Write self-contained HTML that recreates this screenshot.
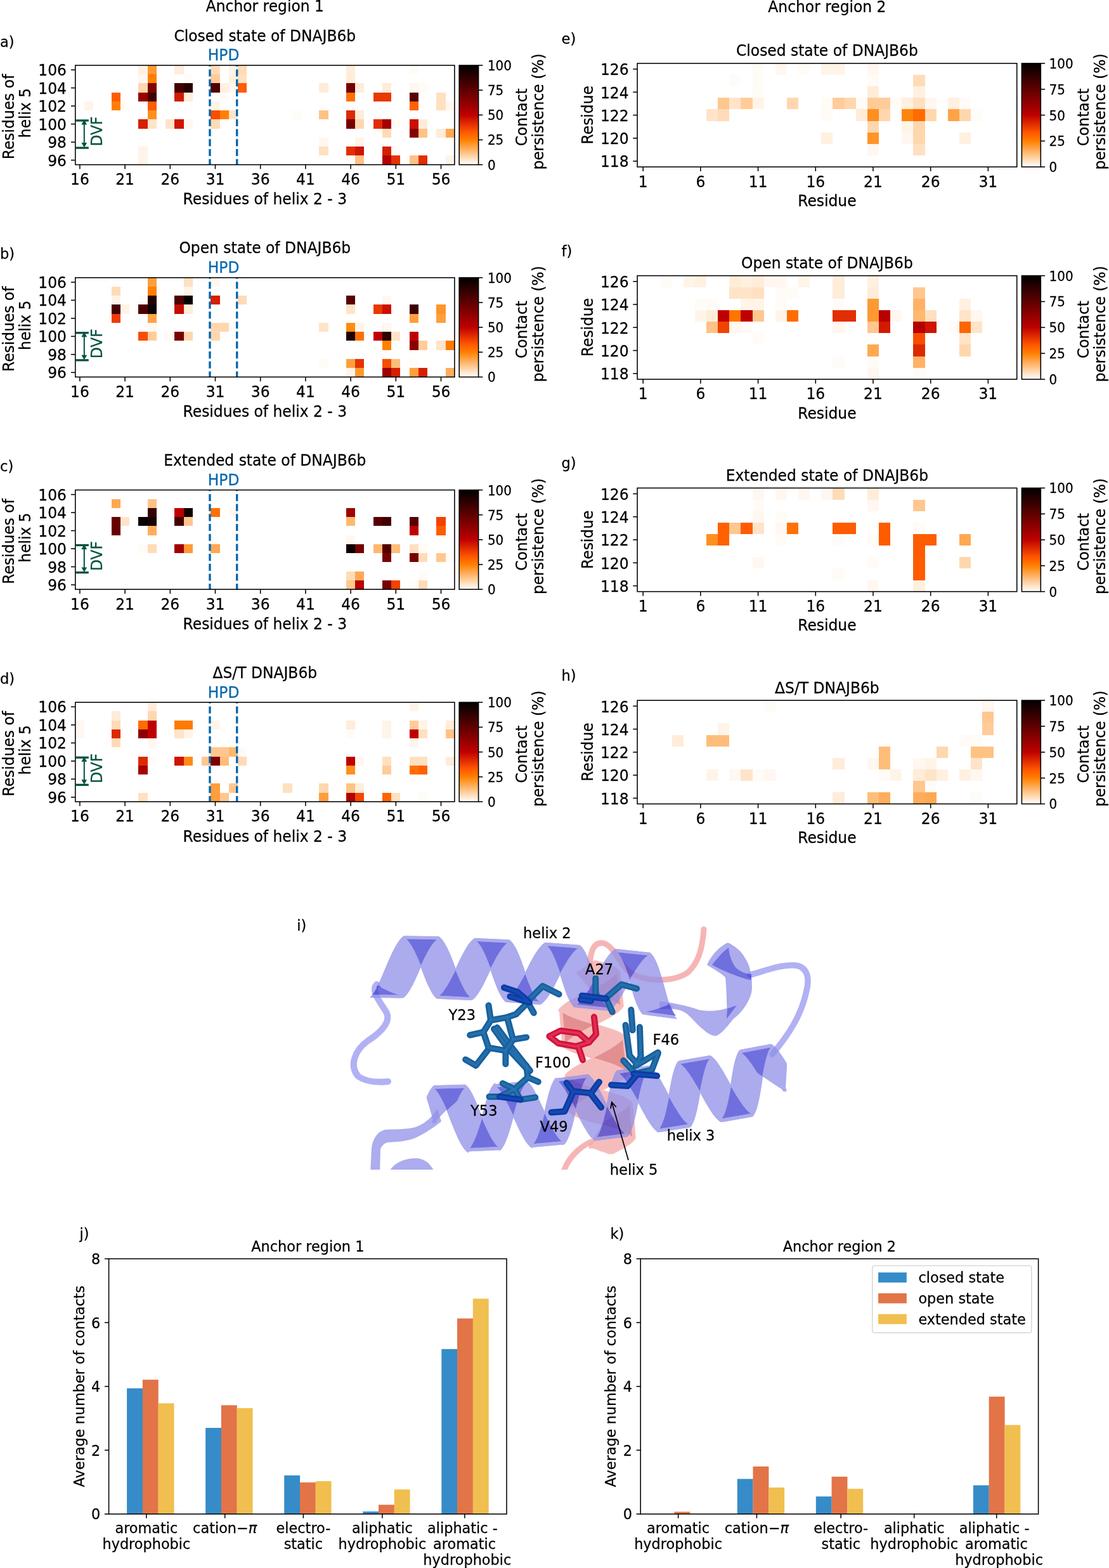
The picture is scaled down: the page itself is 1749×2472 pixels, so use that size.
<!DOCTYPE html>
<html><head><meta charset="utf-8"><style>html,body{margin:0;padding:0;background:#fff;}svg{display:block;}</style></head><body>
<svg width="1749" height="2472" viewBox="0 0 1749 2472" font-family="'DejaVu Sans', 'Liberation Sans', sans-serif">
<defs><linearGradient id="ghr" x1="0" y1="1" x2="0" y2="0"><stop offset="0" stop-color="#ffffff"/><stop offset="0.25" stop-color="#ff8000"/><stop offset="0.3333" stop-color="#ff5500"/><stop offset="0.5" stop-color="#bf0000"/><stop offset="1" stop-color="#000000"/></linearGradient></defs>
<rect width="1749" height="2472" fill="#fff"/>
<text transform="translate(417.80 18.40) scale(1 1.04)" font-size="23.4" text-anchor="middle" fill="#000" stroke="#000" stroke-width="0.25">Anchor region 1</text>
<text transform="translate(1304.40 18.70) scale(1 1.04)" font-size="23.4" text-anchor="middle" fill="#000" stroke="#000" stroke-width="0.25">Anchor region 2</text>
<rect x="133.04" y="159.96" width="14.24" height="14.24" fill="#fff4e8" shape-rendering="crispEdges"/>
<rect x="175.76" y="145.72" width="14.24" height="14.24" fill="#ff5c00" shape-rendering="crispEdges"/>
<rect x="175.76" y="159.96" width="14.24" height="14.24" fill="#ff8000" shape-rendering="crispEdges"/>
<rect x="190.00" y="159.96" width="14.24" height="14.24" fill="#fffbf7" shape-rendering="crispEdges"/>
<rect x="218.48" y="103.00" width="14.24" height="14.24" fill="#fff0e0" shape-rendering="crispEdges"/>
<rect x="218.48" y="117.24" width="14.24" height="14.24" fill="#fff7f0" shape-rendering="crispEdges"/>
<rect x="218.48" y="131.48" width="14.24" height="14.24" fill="#ffd7ae" shape-rendering="crispEdges"/>
<rect x="218.48" y="145.72" width="14.24" height="14.24" fill="#990000" shape-rendering="crispEdges"/>
<rect x="218.48" y="188.44" width="14.24" height="14.24" fill="#d61f00" shape-rendering="crispEdges"/>
<rect x="218.48" y="231.16" width="14.24" height="14.24" fill="#fff4e8" shape-rendering="crispEdges"/>
<rect x="218.48" y="245.40" width="14.24" height="14.24" fill="#fff4e8" shape-rendering="crispEdges"/>
<rect x="232.72" y="103.00" width="14.24" height="14.24" fill="#ff9933" shape-rendering="crispEdges"/>
<rect x="232.72" y="117.24" width="14.24" height="14.24" fill="#ff8000" shape-rendering="crispEdges"/>
<rect x="232.72" y="131.48" width="14.24" height="14.24" fill="#7e0000" shape-rendering="crispEdges"/>
<rect x="232.72" y="145.72" width="14.24" height="14.24" fill="#410000" shape-rendering="crispEdges"/>
<rect x="232.72" y="159.96" width="14.24" height="14.24" fill="#ff5c00" shape-rendering="crispEdges"/>
<rect x="232.72" y="174.20" width="14.24" height="14.24" fill="#ff8f1f" shape-rendering="crispEdges"/>
<rect x="232.72" y="188.44" width="14.24" height="14.24" fill="#ffe4c9" shape-rendering="crispEdges"/>
<rect x="261.20" y="188.44" width="14.24" height="14.24" fill="#ffe4c9" shape-rendering="crispEdges"/>
<rect x="275.44" y="103.00" width="14.24" height="14.24" fill="#ffecd9" shape-rendering="crispEdges"/>
<rect x="275.44" y="131.48" width="14.24" height="14.24" fill="#450000" shape-rendering="crispEdges"/>
<rect x="275.44" y="145.72" width="14.24" height="14.24" fill="#d21a00" shape-rendering="crispEdges"/>
<rect x="275.44" y="188.44" width="14.24" height="14.24" fill="#cf1400" shape-rendering="crispEdges"/>
<rect x="289.68" y="117.24" width="14.24" height="14.24" fill="#fffbf7" shape-rendering="crispEdges"/>
<rect x="289.68" y="131.48" width="14.24" height="14.24" fill="#260000" shape-rendering="crispEdges"/>
<rect x="289.68" y="145.72" width="14.24" height="14.24" fill="#ffecd9" shape-rendering="crispEdges"/>
<rect x="289.68" y="188.44" width="14.24" height="14.24" fill="#fff7f0" shape-rendering="crispEdges"/>
<rect x="332.40" y="103.00" width="14.24" height="14.24" fill="#ffdbb7" shape-rendering="crispEdges"/>
<rect x="332.40" y="117.24" width="14.24" height="14.24" fill="#ffcc99" shape-rendering="crispEdges"/>
<rect x="332.40" y="131.48" width="14.24" height="14.24" fill="#4c0000" shape-rendering="crispEdges"/>
<rect x="332.40" y="159.96" width="14.24" height="14.24" fill="#fff4e8" shape-rendering="crispEdges"/>
<rect x="332.40" y="174.20" width="14.24" height="14.24" fill="#f94d00" shape-rendering="crispEdges"/>
<rect x="332.40" y="188.44" width="14.24" height="14.24" fill="#ffdbb7" shape-rendering="crispEdges"/>
<rect x="346.64" y="131.48" width="14.24" height="14.24" fill="#fff0e0" shape-rendering="crispEdges"/>
<rect x="346.64" y="145.72" width="14.24" height="14.24" fill="#fffbf7" shape-rendering="crispEdges"/>
<rect x="346.64" y="174.20" width="14.24" height="14.24" fill="#ff8000" shape-rendering="crispEdges"/>
<rect x="360.88" y="103.00" width="14.24" height="14.24" fill="#fff4e8" shape-rendering="crispEdges"/>
<rect x="360.88" y="117.24" width="14.24" height="14.24" fill="#fff0e0" shape-rendering="crispEdges"/>
<rect x="360.88" y="131.48" width="14.24" height="14.24" fill="#fff7f0" shape-rendering="crispEdges"/>
<rect x="360.88" y="174.20" width="14.24" height="14.24" fill="#ffe4c9" shape-rendering="crispEdges"/>
<rect x="375.12" y="103.00" width="14.24" height="14.24" fill="#ffdbb7" shape-rendering="crispEdges"/>
<rect x="375.12" y="117.24" width="14.24" height="14.24" fill="#ffe0c0" shape-rendering="crispEdges"/>
<rect x="375.12" y="131.48" width="14.24" height="14.24" fill="#ff5c00" shape-rendering="crispEdges"/>
<rect x="460.56" y="174.20" width="14.24" height="14.24" fill="#fffbf7" shape-rendering="crispEdges"/>
<rect x="503.28" y="131.48" width="14.24" height="14.24" fill="#ffecd9" shape-rendering="crispEdges"/>
<rect x="503.28" y="174.20" width="14.24" height="14.24" fill="#ffc285" shape-rendering="crispEdges"/>
<rect x="503.28" y="216.92" width="14.24" height="14.24" fill="#fff7f0" shape-rendering="crispEdges"/>
<rect x="503.28" y="231.16" width="14.24" height="14.24" fill="#ffe0c0" shape-rendering="crispEdges"/>
<rect x="546.00" y="103.00" width="14.24" height="14.24" fill="#ffecd9" shape-rendering="crispEdges"/>
<rect x="546.00" y="117.24" width="14.24" height="14.24" fill="#ffecd9" shape-rendering="crispEdges"/>
<rect x="546.00" y="131.48" width="14.24" height="14.24" fill="#770000" shape-rendering="crispEdges"/>
<rect x="546.00" y="145.72" width="14.24" height="14.24" fill="#ff7000" shape-rendering="crispEdges"/>
<rect x="546.00" y="174.20" width="14.24" height="14.24" fill="#de2900" shape-rendering="crispEdges"/>
<rect x="546.00" y="188.44" width="14.24" height="14.24" fill="#770000" shape-rendering="crispEdges"/>
<rect x="546.00" y="231.16" width="14.24" height="14.24" fill="#e22e00" shape-rendering="crispEdges"/>
<rect x="546.00" y="245.40" width="14.24" height="14.24" fill="#fffbf7" shape-rendering="crispEdges"/>
<rect x="560.24" y="131.48" width="14.24" height="14.24" fill="#ffecd9" shape-rendering="crispEdges"/>
<rect x="560.24" y="174.20" width="14.24" height="14.24" fill="#ffecd9" shape-rendering="crispEdges"/>
<rect x="560.24" y="188.44" width="14.24" height="14.24" fill="#ffd7ae" shape-rendering="crispEdges"/>
<rect x="560.24" y="216.92" width="14.24" height="14.24" fill="#fff4e8" shape-rendering="crispEdges"/>
<rect x="560.24" y="231.16" width="14.24" height="14.24" fill="#cf1400" shape-rendering="crispEdges"/>
<rect x="560.24" y="245.40" width="14.24" height="14.24" fill="#ffc285" shape-rendering="crispEdges"/>
<rect x="588.72" y="145.72" width="14.24" height="14.24" fill="#e93800" shape-rendering="crispEdges"/>
<rect x="588.72" y="188.44" width="14.24" height="14.24" fill="#e22e00" shape-rendering="crispEdges"/>
<rect x="602.96" y="131.48" width="14.24" height="14.24" fill="#ffecd9" shape-rendering="crispEdges"/>
<rect x="602.96" y="145.72" width="14.24" height="14.24" fill="#e93800" shape-rendering="crispEdges"/>
<rect x="602.96" y="188.44" width="14.24" height="14.24" fill="#a40000" shape-rendering="crispEdges"/>
<rect x="602.96" y="202.68" width="14.24" height="14.24" fill="#ffdbb7" shape-rendering="crispEdges"/>
<rect x="602.96" y="231.16" width="14.24" height="14.24" fill="#d61f00" shape-rendering="crispEdges"/>
<rect x="602.96" y="245.40" width="14.24" height="14.24" fill="#b40000" shape-rendering="crispEdges"/>
<rect x="617.20" y="188.44" width="14.24" height="14.24" fill="#fffbf7" shape-rendering="crispEdges"/>
<rect x="617.20" y="231.16" width="14.24" height="14.24" fill="#fffbf7" shape-rendering="crispEdges"/>
<rect x="617.20" y="245.40" width="14.24" height="14.24" fill="#e53300" shape-rendering="crispEdges"/>
<rect x="645.68" y="103.00" width="14.24" height="14.24" fill="#fffbf7" shape-rendering="crispEdges"/>
<rect x="645.68" y="131.48" width="14.24" height="14.24" fill="#fff7f0" shape-rendering="crispEdges"/>
<rect x="645.68" y="145.72" width="14.24" height="14.24" fill="#580000" shape-rendering="crispEdges"/>
<rect x="645.68" y="159.96" width="14.24" height="14.24" fill="#ff6100" shape-rendering="crispEdges"/>
<rect x="645.68" y="188.44" width="14.24" height="14.24" fill="#cb0f00" shape-rendering="crispEdges"/>
<rect x="645.68" y="202.68" width="14.24" height="14.24" fill="#860000" shape-rendering="crispEdges"/>
<rect x="645.68" y="245.40" width="14.24" height="14.24" fill="#ffc285" shape-rendering="crispEdges"/>
<rect x="659.92" y="131.48" width="14.24" height="14.24" fill="#fffbf7" shape-rendering="crispEdges"/>
<rect x="659.92" y="188.44" width="14.24" height="14.24" fill="#ffecd9" shape-rendering="crispEdges"/>
<rect x="659.92" y="202.68" width="14.24" height="14.24" fill="#ffc285" shape-rendering="crispEdges"/>
<rect x="659.92" y="245.40" width="14.24" height="14.24" fill="#e22e00" shape-rendering="crispEdges"/>
<rect x="688.40" y="145.72" width="14.24" height="14.24" fill="#ffe0c0" shape-rendering="crispEdges"/>
<rect x="688.40" y="159.96" width="14.24" height="14.24" fill="#ffe0c0" shape-rendering="crispEdges"/>
<rect x="688.40" y="202.68" width="14.24" height="14.24" fill="#ffecd9" shape-rendering="crispEdges"/>
<rect x="702.64" y="159.96" width="14.24" height="14.24" fill="#fff7f0" shape-rendering="crispEdges"/>
<rect x="702.64" y="202.68" width="14.24" height="14.24" fill="#ffa852" shape-rendering="crispEdges"/>
<rect x="702.64" y="245.40" width="14.24" height="14.24" fill="#fff4e8" shape-rendering="crispEdges"/>
<line x1="330.98" y1="103.00" x2="330.98" y2="259.64" stroke="#0568ae" stroke-width="3.4" stroke-dasharray="11.1 4.6" stroke-dashoffset="9.30"/>
<line x1="373.70" y1="103.00" x2="373.70" y2="259.64" stroke="#0568ae" stroke-width="3.4" stroke-dasharray="11.1 4.6" stroke-dashoffset="9.30"/>
<rect x="118.80" y="103.00" width="598.08" height="156.64" fill="none" stroke="#000" stroke-width="1.55"/>
<line x1="125.92" y1="259.64" x2="125.92" y2="266.44" stroke="#000" stroke-width="1.55"/>
<text transform="translate(125.92 291.20) scale(1 1.04)" font-size="23.4" text-anchor="middle" fill="#000" stroke="#000" stroke-width="0.25">16</text>
<line x1="197.12" y1="259.64" x2="197.12" y2="266.44" stroke="#000" stroke-width="1.55"/>
<text transform="translate(197.12 291.20) scale(1 1.04)" font-size="23.4" text-anchor="middle" fill="#000" stroke="#000" stroke-width="0.25">21</text>
<line x1="268.32" y1="259.64" x2="268.32" y2="266.44" stroke="#000" stroke-width="1.55"/>
<text transform="translate(268.32 291.20) scale(1 1.04)" font-size="23.4" text-anchor="middle" fill="#000" stroke="#000" stroke-width="0.25">26</text>
<line x1="339.52" y1="259.64" x2="339.52" y2="266.44" stroke="#000" stroke-width="1.55"/>
<text transform="translate(339.52 291.20) scale(1 1.04)" font-size="23.4" text-anchor="middle" fill="#000" stroke="#000" stroke-width="0.25">31</text>
<line x1="410.72" y1="259.64" x2="410.72" y2="266.44" stroke="#000" stroke-width="1.55"/>
<text transform="translate(410.72 291.20) scale(1 1.04)" font-size="23.4" text-anchor="middle" fill="#000" stroke="#000" stroke-width="0.25">36</text>
<line x1="481.92" y1="259.64" x2="481.92" y2="266.44" stroke="#000" stroke-width="1.55"/>
<text transform="translate(481.92 291.20) scale(1 1.04)" font-size="23.4" text-anchor="middle" fill="#000" stroke="#000" stroke-width="0.25">41</text>
<line x1="553.12" y1="259.64" x2="553.12" y2="266.44" stroke="#000" stroke-width="1.55"/>
<text transform="translate(553.12 291.20) scale(1 1.04)" font-size="23.4" text-anchor="middle" fill="#000" stroke="#000" stroke-width="0.25">46</text>
<line x1="624.32" y1="259.64" x2="624.32" y2="266.44" stroke="#000" stroke-width="1.55"/>
<text transform="translate(624.32 291.20) scale(1 1.04)" font-size="23.4" text-anchor="middle" fill="#000" stroke="#000" stroke-width="0.25">51</text>
<line x1="695.52" y1="259.64" x2="695.52" y2="266.44" stroke="#000" stroke-width="1.55"/>
<text transform="translate(695.52 291.20) scale(1 1.04)" font-size="23.4" text-anchor="middle" fill="#000" stroke="#000" stroke-width="0.25">56</text>
<line x1="112.00" y1="252.52" x2="118.80" y2="252.52" stroke="#000" stroke-width="1.55"/>
<text transform="translate(104.90 261.52) scale(1 1.04)" font-size="23.4" text-anchor="end" fill="#000" stroke="#000" stroke-width="0.25">96</text>
<line x1="112.00" y1="224.04" x2="118.80" y2="224.04" stroke="#000" stroke-width="1.55"/>
<text transform="translate(104.90 233.04) scale(1 1.04)" font-size="23.4" text-anchor="end" fill="#000" stroke="#000" stroke-width="0.25">98</text>
<line x1="112.00" y1="195.56" x2="118.80" y2="195.56" stroke="#000" stroke-width="1.55"/>
<text transform="translate(104.90 204.56) scale(1 1.04)" font-size="23.4" text-anchor="end" fill="#000" stroke="#000" stroke-width="0.25">100</text>
<line x1="112.00" y1="167.08" x2="118.80" y2="167.08" stroke="#000" stroke-width="1.55"/>
<text transform="translate(104.90 176.08) scale(1 1.04)" font-size="23.4" text-anchor="end" fill="#000" stroke="#000" stroke-width="0.25">102</text>
<line x1="112.00" y1="138.60" x2="118.80" y2="138.60" stroke="#000" stroke-width="1.55"/>
<text transform="translate(104.90 147.60) scale(1 1.04)" font-size="23.4" text-anchor="end" fill="#000" stroke="#000" stroke-width="0.25">104</text>
<line x1="112.00" y1="110.12" x2="118.80" y2="110.12" stroke="#000" stroke-width="1.55"/>
<text transform="translate(104.90 119.12) scale(1 1.04)" font-size="23.4" text-anchor="end" fill="#000" stroke="#000" stroke-width="0.25">106</text>
<text transform="translate(0.00 73.70) scale(1 1.04)" font-size="22.6" text-anchor="start" fill="#000" stroke="#000" stroke-width="0.25">a)</text>
<text transform="translate(417.80 64.50) scale(1 1.04)" font-size="23.4" text-anchor="middle" fill="#000" stroke="#000" stroke-width="0.25">Closed state of DNAJB6b</text>
<text transform="translate(352.60 95.40) scale(1 1.04)" font-size="23.4" text-anchor="middle" fill="#0568ae" stroke="#0568ae" stroke-width="0.25">HPD</text>
<text transform="translate(417.80 322.30) scale(1 1.04)" font-size="23.4" text-anchor="middle" fill="#000" stroke="#000" stroke-width="0.25">Residues of helix 2 - 3</text>
<text transform="translate(21.70 184.00) rotate(-90) scale(1 1.04)" font-size="23.4" text-anchor="middle" fill="#000" stroke="#000" stroke-width="0.25">Residues of</text>
<text transform="translate(48.10 178.00) rotate(-90) scale(1 1.04)" font-size="23.4" text-anchor="middle" fill="#000" stroke="#000" stroke-width="0.25">helix 5</text>
<line x1="118.80" y1="190.00" x2="139.8" y2="190.00" stroke="#03523f" stroke-width="3.3"/>
<line x1="118.80" y1="233.10" x2="139.8" y2="233.10" stroke="#03523f" stroke-width="3.3"/>
<line x1="132.8" y1="195.00" x2="132.8" y2="227.00" stroke="#03523f" stroke-width="2.0"/>
<path d="M132.8 188.50 L128.4 196.60 L137.2 196.60 Z" fill="#03523f"/>
<path d="M132.8 232.50 L128.4 225.00 L137.2 225.00 Z" fill="#03523f"/>
<text transform="translate(160.60 207.00) rotate(-90) scale(1 1.04)" font-size="23.4" text-anchor="middle" fill="#03523f" stroke="#03523f" stroke-width="0.25">DVF</text>
<rect x="724.20" y="103.00" width="30.40" height="156.64" fill="url(#ghr)" stroke="#000" stroke-width="1.55"/>
<line x1="754.60" y1="259.64" x2="761.40" y2="259.64" stroke="#000" stroke-width="1.55"/>
<text transform="translate(768.90 267.64) scale(1 1.04)" font-size="19.9" text-anchor="start" fill="#000" stroke="#000" stroke-width="0.25">0</text>
<line x1="754.60" y1="220.48" x2="761.40" y2="220.48" stroke="#000" stroke-width="1.55"/>
<text transform="translate(768.90 228.48) scale(1 1.04)" font-size="19.9" text-anchor="start" fill="#000" stroke="#000" stroke-width="0.25">25</text>
<line x1="754.60" y1="181.32" x2="761.40" y2="181.32" stroke="#000" stroke-width="1.55"/>
<text transform="translate(768.90 189.32) scale(1 1.04)" font-size="19.9" text-anchor="start" fill="#000" stroke="#000" stroke-width="0.25">50</text>
<line x1="754.60" y1="142.16" x2="761.40" y2="142.16" stroke="#000" stroke-width="1.55"/>
<text transform="translate(768.90 150.16) scale(1 1.04)" font-size="19.9" text-anchor="start" fill="#000" stroke="#000" stroke-width="0.25">75</text>
<line x1="754.60" y1="103.00" x2="761.40" y2="103.00" stroke="#000" stroke-width="1.55"/>
<text transform="translate(768.90 111.00) scale(1 1.04)" font-size="19.9" text-anchor="start" fill="#000" stroke="#000" stroke-width="0.25">100</text>
<text transform="translate(831.00 184.80) rotate(-90) scale(1 1.04)" font-size="23.4" text-anchor="middle" fill="#000" stroke="#000" stroke-width="0.25">Contact</text>
<text transform="translate(857.20 176.00) rotate(-90) scale(1 1.04)" font-size="23.4" text-anchor="middle" fill="#000" stroke="#000" stroke-width="0.25">persistence (%)</text>
<rect x="1113.94" y="172.46" width="18.14" height="18.14" fill="#ffe4c9" shape-rendering="crispEdges"/>
<rect x="1132.08" y="154.32" width="18.14" height="18.14" fill="#ffc78f" shape-rendering="crispEdges"/>
<rect x="1132.08" y="172.46" width="18.14" height="18.14" fill="#ffdbb7" shape-rendering="crispEdges"/>
<rect x="1150.22" y="118.04" width="18.14" height="18.14" fill="#fffbf7" shape-rendering="crispEdges"/>
<rect x="1150.22" y="154.32" width="18.14" height="18.14" fill="#ffe4c9" shape-rendering="crispEdges"/>
<rect x="1168.36" y="154.32" width="18.14" height="18.14" fill="#ffcc99" shape-rendering="crispEdges"/>
<rect x="1186.50" y="99.90" width="18.14" height="18.14" fill="#fffbf7" shape-rendering="crispEdges"/>
<rect x="1186.50" y="118.04" width="18.14" height="18.14" fill="#fffbf7" shape-rendering="crispEdges"/>
<rect x="1186.50" y="136.18" width="18.14" height="18.14" fill="#fffbf7" shape-rendering="crispEdges"/>
<rect x="1186.50" y="154.32" width="18.14" height="18.14" fill="#fff4e8" shape-rendering="crispEdges"/>
<rect x="1222.78" y="99.90" width="18.14" height="18.14" fill="#fff7f0" shape-rendering="crispEdges"/>
<rect x="1240.92" y="154.32" width="18.14" height="18.14" fill="#ffd7ae" shape-rendering="crispEdges"/>
<rect x="1259.06" y="99.90" width="18.14" height="18.14" fill="#fffbf7" shape-rendering="crispEdges"/>
<rect x="1295.34" y="99.90" width="18.14" height="18.14" fill="#fff4e8" shape-rendering="crispEdges"/>
<rect x="1295.34" y="154.32" width="18.14" height="18.14" fill="#fffbf7" shape-rendering="crispEdges"/>
<rect x="1295.34" y="172.46" width="18.14" height="18.14" fill="#fffbf7" shape-rendering="crispEdges"/>
<rect x="1295.34" y="208.74" width="18.14" height="18.14" fill="#fff0e0" shape-rendering="crispEdges"/>
<rect x="1313.48" y="99.90" width="18.14" height="18.14" fill="#fff4e8" shape-rendering="crispEdges"/>
<rect x="1313.48" y="154.32" width="18.14" height="18.14" fill="#ffcc99" shape-rendering="crispEdges"/>
<rect x="1331.62" y="154.32" width="18.14" height="18.14" fill="#ffd7ae" shape-rendering="crispEdges"/>
<rect x="1349.76" y="154.32" width="18.14" height="18.14" fill="#fffbf7" shape-rendering="crispEdges"/>
<rect x="1349.76" y="172.46" width="18.14" height="18.14" fill="#ffecd9" shape-rendering="crispEdges"/>
<rect x="1367.90" y="99.90" width="18.14" height="18.14" fill="#fff7f0" shape-rendering="crispEdges"/>
<rect x="1367.90" y="118.04" width="18.14" height="18.14" fill="#fffbf7" shape-rendering="crispEdges"/>
<rect x="1367.90" y="136.18" width="18.14" height="18.14" fill="#ffecd9" shape-rendering="crispEdges"/>
<rect x="1367.90" y="154.32" width="18.14" height="18.14" fill="#ffcc99" shape-rendering="crispEdges"/>
<rect x="1367.90" y="172.46" width="18.14" height="18.14" fill="#ff8f1f" shape-rendering="crispEdges"/>
<rect x="1367.90" y="190.60" width="18.14" height="18.14" fill="#ffd7ae" shape-rendering="crispEdges"/>
<rect x="1367.90" y="208.74" width="18.14" height="18.14" fill="#ff9429" shape-rendering="crispEdges"/>
<rect x="1367.90" y="226.88" width="18.14" height="18.14" fill="#fff7f0" shape-rendering="crispEdges"/>
<rect x="1386.04" y="154.32" width="18.14" height="18.14" fill="#ffcc99" shape-rendering="crispEdges"/>
<rect x="1386.04" y="172.46" width="18.14" height="18.14" fill="#ffd7ae" shape-rendering="crispEdges"/>
<rect x="1404.18" y="154.32" width="18.14" height="18.14" fill="#fffbf7" shape-rendering="crispEdges"/>
<rect x="1422.32" y="154.32" width="18.14" height="18.14" fill="#fff0e0" shape-rendering="crispEdges"/>
<rect x="1422.32" y="172.46" width="18.14" height="18.14" fill="#ff850a" shape-rendering="crispEdges"/>
<rect x="1422.32" y="190.60" width="18.14" height="18.14" fill="#fff4e8" shape-rendering="crispEdges"/>
<rect x="1422.32" y="208.74" width="18.14" height="18.14" fill="#fff7f0" shape-rendering="crispEdges"/>
<rect x="1440.46" y="118.04" width="18.14" height="18.14" fill="#ffdbb7" shape-rendering="crispEdges"/>
<rect x="1440.46" y="136.18" width="18.14" height="18.14" fill="#fff0e0" shape-rendering="crispEdges"/>
<rect x="1440.46" y="154.32" width="18.14" height="18.14" fill="#ffe0c0" shape-rendering="crispEdges"/>
<rect x="1440.46" y="172.46" width="18.14" height="18.14" fill="#ff6b00" shape-rendering="crispEdges"/>
<rect x="1440.46" y="190.60" width="18.14" height="18.14" fill="#ffd7ae" shape-rendering="crispEdges"/>
<rect x="1440.46" y="208.74" width="18.14" height="18.14" fill="#ffd7ae" shape-rendering="crispEdges"/>
<rect x="1440.46" y="226.88" width="18.14" height="18.14" fill="#ffe0c0" shape-rendering="crispEdges"/>
<rect x="1458.60" y="154.32" width="18.14" height="18.14" fill="#fff7f0" shape-rendering="crispEdges"/>
<rect x="1458.60" y="172.46" width="18.14" height="18.14" fill="#ffd7ae" shape-rendering="crispEdges"/>
<rect x="1494.88" y="154.32" width="18.14" height="18.14" fill="#fff0e0" shape-rendering="crispEdges"/>
<rect x="1494.88" y="172.46" width="18.14" height="18.14" fill="#ffa347" shape-rendering="crispEdges"/>
<rect x="1513.02" y="154.32" width="18.14" height="18.14" fill="#fffbf7" shape-rendering="crispEdges"/>
<rect x="1513.02" y="172.46" width="18.14" height="18.14" fill="#ffd7ae" shape-rendering="crispEdges"/>
<rect x="1513.02" y="208.74" width="18.14" height="18.14" fill="#fff0e0" shape-rendering="crispEdges"/>
<rect x="1531.16" y="172.46" width="18.14" height="18.14" fill="#fffbf7" shape-rendering="crispEdges"/>
<rect x="1005.10" y="99.90" width="598.62" height="163.26" fill="none" stroke="#000" stroke-width="1.55"/>
<line x1="1014.17" y1="263.16" x2="1014.17" y2="269.96" stroke="#000" stroke-width="1.55"/>
<text transform="translate(1014.17 294.70) scale(1 1.04)" font-size="23.4" text-anchor="middle" fill="#000" stroke="#000" stroke-width="0.25">1</text>
<line x1="1104.87" y1="263.16" x2="1104.87" y2="269.96" stroke="#000" stroke-width="1.55"/>
<text transform="translate(1104.87 294.70) scale(1 1.04)" font-size="23.4" text-anchor="middle" fill="#000" stroke="#000" stroke-width="0.25">6</text>
<line x1="1195.57" y1="263.16" x2="1195.57" y2="269.96" stroke="#000" stroke-width="1.55"/>
<text transform="translate(1195.57 294.70) scale(1 1.04)" font-size="23.4" text-anchor="middle" fill="#000" stroke="#000" stroke-width="0.25">11</text>
<line x1="1286.27" y1="263.16" x2="1286.27" y2="269.96" stroke="#000" stroke-width="1.55"/>
<text transform="translate(1286.27 294.70) scale(1 1.04)" font-size="23.4" text-anchor="middle" fill="#000" stroke="#000" stroke-width="0.25">16</text>
<line x1="1376.97" y1="263.16" x2="1376.97" y2="269.96" stroke="#000" stroke-width="1.55"/>
<text transform="translate(1376.97 294.70) scale(1 1.04)" font-size="23.4" text-anchor="middle" fill="#000" stroke="#000" stroke-width="0.25">21</text>
<line x1="1467.67" y1="263.16" x2="1467.67" y2="269.96" stroke="#000" stroke-width="1.55"/>
<text transform="translate(1467.67 294.70) scale(1 1.04)" font-size="23.4" text-anchor="middle" fill="#000" stroke="#000" stroke-width="0.25">26</text>
<line x1="1558.37" y1="263.16" x2="1558.37" y2="269.96" stroke="#000" stroke-width="1.55"/>
<text transform="translate(1558.37 294.70) scale(1 1.04)" font-size="23.4" text-anchor="middle" fill="#000" stroke="#000" stroke-width="0.25">31</text>
<line x1="998.30" y1="254.09" x2="1005.10" y2="254.09" stroke="#000" stroke-width="1.55"/>
<text transform="translate(991.60 263.39) scale(1 1.04)" font-size="23.4" text-anchor="end" fill="#000" stroke="#000" stroke-width="0.25">118</text>
<line x1="998.30" y1="217.81" x2="1005.10" y2="217.81" stroke="#000" stroke-width="1.55"/>
<text transform="translate(991.60 227.11) scale(1 1.04)" font-size="23.4" text-anchor="end" fill="#000" stroke="#000" stroke-width="0.25">120</text>
<line x1="998.30" y1="181.53" x2="1005.10" y2="181.53" stroke="#000" stroke-width="1.55"/>
<text transform="translate(991.60 190.83) scale(1 1.04)" font-size="23.4" text-anchor="end" fill="#000" stroke="#000" stroke-width="0.25">122</text>
<line x1="998.30" y1="145.25" x2="1005.10" y2="145.25" stroke="#000" stroke-width="1.55"/>
<text transform="translate(991.60 154.55) scale(1 1.04)" font-size="23.4" text-anchor="end" fill="#000" stroke="#000" stroke-width="0.25">124</text>
<line x1="998.30" y1="108.97" x2="1005.10" y2="108.97" stroke="#000" stroke-width="1.55"/>
<text transform="translate(991.60 118.27) scale(1 1.04)" font-size="23.4" text-anchor="end" fill="#000" stroke="#000" stroke-width="0.25">126</text>
<text transform="translate(885.50 68.80) scale(1 1.04)" font-size="22.6" text-anchor="start" fill="#000" stroke="#000" stroke-width="0.25">e)</text>
<text transform="translate(1304.40 88.30) scale(1 1.04)" font-size="23.4" text-anchor="middle" fill="#000" stroke="#000" stroke-width="0.25">Closed state of DNAJB6b</text>
<text transform="translate(1304.40 324.80) scale(1 1.04)" font-size="23.4" text-anchor="middle" fill="#000" stroke="#000" stroke-width="0.25">Residue</text>
<text transform="translate(935.30 181.30) rotate(-90) scale(1 1.04)" font-size="23.4" text-anchor="middle" fill="#000" stroke="#000" stroke-width="0.25">Residue</text>
<rect x="1611.40" y="99.90" width="29.90" height="163.26" fill="url(#ghr)" stroke="#000" stroke-width="1.55"/>
<line x1="1641.30" y1="263.16" x2="1648.10" y2="263.16" stroke="#000" stroke-width="1.55"/>
<text transform="translate(1654.60 271.16) scale(1 1.04)" font-size="19.9" text-anchor="start" fill="#000" stroke="#000" stroke-width="0.25">0</text>
<line x1="1641.30" y1="222.34" x2="1648.10" y2="222.34" stroke="#000" stroke-width="1.55"/>
<text transform="translate(1654.60 230.34) scale(1 1.04)" font-size="19.9" text-anchor="start" fill="#000" stroke="#000" stroke-width="0.25">25</text>
<line x1="1641.30" y1="181.53" x2="1648.10" y2="181.53" stroke="#000" stroke-width="1.55"/>
<text transform="translate(1654.60 189.53) scale(1 1.04)" font-size="19.9" text-anchor="start" fill="#000" stroke="#000" stroke-width="0.25">50</text>
<line x1="1641.30" y1="140.71" x2="1648.10" y2="140.71" stroke="#000" stroke-width="1.55"/>
<text transform="translate(1654.60 148.71) scale(1 1.04)" font-size="19.9" text-anchor="start" fill="#000" stroke="#000" stroke-width="0.25">75</text>
<line x1="1641.30" y1="99.90" x2="1648.10" y2="99.90" stroke="#000" stroke-width="1.55"/>
<text transform="translate(1654.60 107.90) scale(1 1.04)" font-size="19.9" text-anchor="start" fill="#000" stroke="#000" stroke-width="0.25">100</text>
<text transform="translate(1717.00 184.80) rotate(-90) scale(1 1.04)" font-size="23.4" text-anchor="middle" fill="#000" stroke="#000" stroke-width="0.25">Contact</text>
<text transform="translate(1743.20 176.00) rotate(-90) scale(1 1.04)" font-size="23.4" text-anchor="middle" fill="#000" stroke="#000" stroke-width="0.25">persistence (%)</text>
<rect x="175.76" y="451.99" width="14.24" height="14.24" fill="#ffdbb7" shape-rendering="crispEdges"/>
<rect x="175.76" y="466.23" width="14.24" height="14.24" fill="#fff4e8" shape-rendering="crispEdges"/>
<rect x="175.76" y="480.47" width="14.24" height="14.24" fill="#450000" shape-rendering="crispEdges"/>
<rect x="175.76" y="494.71" width="14.24" height="14.24" fill="#ed3d00" shape-rendering="crispEdges"/>
<rect x="190.00" y="480.47" width="14.24" height="14.24" fill="#fff4e8" shape-rendering="crispEdges"/>
<rect x="218.48" y="466.23" width="14.24" height="14.24" fill="#fffbf7" shape-rendering="crispEdges"/>
<rect x="218.48" y="480.47" width="14.24" height="14.24" fill="#4c0000" shape-rendering="crispEdges"/>
<rect x="218.48" y="523.19" width="14.24" height="14.24" fill="#f94d00" shape-rendering="crispEdges"/>
<rect x="232.72" y="437.75" width="14.24" height="14.24" fill="#ff9e3d" shape-rendering="crispEdges"/>
<rect x="232.72" y="451.99" width="14.24" height="14.24" fill="#ff8000" shape-rendering="crispEdges"/>
<rect x="232.72" y="466.23" width="14.24" height="14.24" fill="#260000" shape-rendering="crispEdges"/>
<rect x="232.72" y="480.47" width="14.24" height="14.24" fill="#0b0000" shape-rendering="crispEdges"/>
<rect x="232.72" y="494.71" width="14.24" height="14.24" fill="#ffa347" shape-rendering="crispEdges"/>
<rect x="232.72" y="508.95" width="14.24" height="14.24" fill="#fff7f0" shape-rendering="crispEdges"/>
<rect x="232.72" y="523.19" width="14.24" height="14.24" fill="#ffcc99" shape-rendering="crispEdges"/>
<rect x="261.20" y="523.19" width="14.24" height="14.24" fill="#fffbf7" shape-rendering="crispEdges"/>
<rect x="275.44" y="466.23" width="14.24" height="14.24" fill="#4c0000" shape-rendering="crispEdges"/>
<rect x="275.44" y="480.47" width="14.24" height="14.24" fill="#c70a00" shape-rendering="crispEdges"/>
<rect x="275.44" y="523.19" width="14.24" height="14.24" fill="#770000" shape-rendering="crispEdges"/>
<rect x="289.68" y="437.75" width="14.24" height="14.24" fill="#ffe0c0" shape-rendering="crispEdges"/>
<rect x="289.68" y="451.99" width="14.24" height="14.24" fill="#fff4e8" shape-rendering="crispEdges"/>
<rect x="289.68" y="466.23" width="14.24" height="14.24" fill="#0b0000" shape-rendering="crispEdges"/>
<rect x="289.68" y="480.47" width="14.24" height="14.24" fill="#ffecd9" shape-rendering="crispEdges"/>
<rect x="289.68" y="523.19" width="14.24" height="14.24" fill="#ffd7ae" shape-rendering="crispEdges"/>
<rect x="332.40" y="437.75" width="14.24" height="14.24" fill="#fff7f0" shape-rendering="crispEdges"/>
<rect x="332.40" y="466.23" width="14.24" height="14.24" fill="#d61f00" shape-rendering="crispEdges"/>
<rect x="332.40" y="508.95" width="14.24" height="14.24" fill="#ffd7ae" shape-rendering="crispEdges"/>
<rect x="332.40" y="523.19" width="14.24" height="14.24" fill="#ffd7ae" shape-rendering="crispEdges"/>
<rect x="346.64" y="508.95" width="14.24" height="14.24" fill="#ffd7ae" shape-rendering="crispEdges"/>
<rect x="360.88" y="508.95" width="14.24" height="14.24" fill="#fffbf7" shape-rendering="crispEdges"/>
<rect x="375.12" y="466.23" width="14.24" height="14.24" fill="#ffdbb7" shape-rendering="crispEdges"/>
<rect x="503.28" y="508.95" width="14.24" height="14.24" fill="#ffe4c9" shape-rendering="crispEdges"/>
<rect x="503.28" y="565.91" width="14.24" height="14.24" fill="#fffbf7" shape-rendering="crispEdges"/>
<rect x="546.00" y="466.23" width="14.24" height="14.24" fill="#580000" shape-rendering="crispEdges"/>
<rect x="546.00" y="480.47" width="14.24" height="14.24" fill="#ffe4c9" shape-rendering="crispEdges"/>
<rect x="546.00" y="508.95" width="14.24" height="14.24" fill="#ff8a14" shape-rendering="crispEdges"/>
<rect x="546.00" y="523.19" width="14.24" height="14.24" fill="#1f0000" shape-rendering="crispEdges"/>
<rect x="546.00" y="565.91" width="14.24" height="14.24" fill="#ff9e3d" shape-rendering="crispEdges"/>
<rect x="546.00" y="580.15" width="14.24" height="14.24" fill="#fff4e8" shape-rendering="crispEdges"/>
<rect x="560.24" y="508.95" width="14.24" height="14.24" fill="#fff4e8" shape-rendering="crispEdges"/>
<rect x="560.24" y="523.19" width="14.24" height="14.24" fill="#ff7000" shape-rendering="crispEdges"/>
<rect x="560.24" y="565.91" width="14.24" height="14.24" fill="#e53300" shape-rendering="crispEdges"/>
<rect x="560.24" y="580.15" width="14.24" height="14.24" fill="#ff9933" shape-rendering="crispEdges"/>
<rect x="588.72" y="480.47" width="14.24" height="14.24" fill="#e93800" shape-rendering="crispEdges"/>
<rect x="588.72" y="523.19" width="14.24" height="14.24" fill="#bf0000" shape-rendering="crispEdges"/>
<rect x="602.96" y="466.23" width="14.24" height="14.24" fill="#fff7f0" shape-rendering="crispEdges"/>
<rect x="602.96" y="480.47" width="14.24" height="14.24" fill="#cb0f00" shape-rendering="crispEdges"/>
<rect x="602.96" y="508.95" width="14.24" height="14.24" fill="#fff7f0" shape-rendering="crispEdges"/>
<rect x="602.96" y="523.19" width="14.24" height="14.24" fill="#2e0000" shape-rendering="crispEdges"/>
<rect x="602.96" y="537.43" width="14.24" height="14.24" fill="#ff8000" shape-rendering="crispEdges"/>
<rect x="602.96" y="565.91" width="14.24" height="14.24" fill="#f94d00" shape-rendering="crispEdges"/>
<rect x="602.96" y="580.15" width="14.24" height="14.24" fill="#9d0000" shape-rendering="crispEdges"/>
<rect x="617.20" y="523.19" width="14.24" height="14.24" fill="#ffe4c9" shape-rendering="crispEdges"/>
<rect x="617.20" y="565.91" width="14.24" height="14.24" fill="#ffbd7a" shape-rendering="crispEdges"/>
<rect x="617.20" y="580.15" width="14.24" height="14.24" fill="#d61f00" shape-rendering="crispEdges"/>
<rect x="645.68" y="480.47" width="14.24" height="14.24" fill="#3d0000" shape-rendering="crispEdges"/>
<rect x="645.68" y="494.71" width="14.24" height="14.24" fill="#ff9e3d" shape-rendering="crispEdges"/>
<rect x="645.68" y="523.19" width="14.24" height="14.24" fill="#bf0000" shape-rendering="crispEdges"/>
<rect x="645.68" y="537.43" width="14.24" height="14.24" fill="#8e0000" shape-rendering="crispEdges"/>
<rect x="645.68" y="565.91" width="14.24" height="14.24" fill="#fffbf7" shape-rendering="crispEdges"/>
<rect x="645.68" y="580.15" width="14.24" height="14.24" fill="#ff9e3d" shape-rendering="crispEdges"/>
<rect x="659.92" y="537.43" width="14.24" height="14.24" fill="#ffcc99" shape-rendering="crispEdges"/>
<rect x="659.92" y="580.15" width="14.24" height="14.24" fill="#d61f00" shape-rendering="crispEdges"/>
<rect x="688.40" y="480.47" width="14.24" height="14.24" fill="#ff9429" shape-rendering="crispEdges"/>
<rect x="688.40" y="494.71" width="14.24" height="14.24" fill="#ff9e3d" shape-rendering="crispEdges"/>
<rect x="688.40" y="537.43" width="14.24" height="14.24" fill="#ffe4c9" shape-rendering="crispEdges"/>
<rect x="702.64" y="537.43" width="14.24" height="14.24" fill="#ff7a00" shape-rendering="crispEdges"/>
<rect x="702.64" y="580.15" width="14.24" height="14.24" fill="#ffad5c" shape-rendering="crispEdges"/>
<line x1="330.98" y1="437.75" x2="330.98" y2="594.39" stroke="#0568ae" stroke-width="3.4" stroke-dasharray="11.1 4.6" stroke-dashoffset="9.30"/>
<line x1="373.70" y1="437.75" x2="373.70" y2="594.39" stroke="#0568ae" stroke-width="3.4" stroke-dasharray="11.1 4.6" stroke-dashoffset="9.30"/>
<rect x="118.80" y="437.75" width="598.08" height="156.64" fill="none" stroke="#000" stroke-width="1.55"/>
<line x1="125.92" y1="594.39" x2="125.92" y2="601.19" stroke="#000" stroke-width="1.55"/>
<text transform="translate(125.92 625.95) scale(1 1.04)" font-size="23.4" text-anchor="middle" fill="#000" stroke="#000" stroke-width="0.25">16</text>
<line x1="197.12" y1="594.39" x2="197.12" y2="601.19" stroke="#000" stroke-width="1.55"/>
<text transform="translate(197.12 625.95) scale(1 1.04)" font-size="23.4" text-anchor="middle" fill="#000" stroke="#000" stroke-width="0.25">21</text>
<line x1="268.32" y1="594.39" x2="268.32" y2="601.19" stroke="#000" stroke-width="1.55"/>
<text transform="translate(268.32 625.95) scale(1 1.04)" font-size="23.4" text-anchor="middle" fill="#000" stroke="#000" stroke-width="0.25">26</text>
<line x1="339.52" y1="594.39" x2="339.52" y2="601.19" stroke="#000" stroke-width="1.55"/>
<text transform="translate(339.52 625.95) scale(1 1.04)" font-size="23.4" text-anchor="middle" fill="#000" stroke="#000" stroke-width="0.25">31</text>
<line x1="410.72" y1="594.39" x2="410.72" y2="601.19" stroke="#000" stroke-width="1.55"/>
<text transform="translate(410.72 625.95) scale(1 1.04)" font-size="23.4" text-anchor="middle" fill="#000" stroke="#000" stroke-width="0.25">36</text>
<line x1="481.92" y1="594.39" x2="481.92" y2="601.19" stroke="#000" stroke-width="1.55"/>
<text transform="translate(481.92 625.95) scale(1 1.04)" font-size="23.4" text-anchor="middle" fill="#000" stroke="#000" stroke-width="0.25">41</text>
<line x1="553.12" y1="594.39" x2="553.12" y2="601.19" stroke="#000" stroke-width="1.55"/>
<text transform="translate(553.12 625.95) scale(1 1.04)" font-size="23.4" text-anchor="middle" fill="#000" stroke="#000" stroke-width="0.25">46</text>
<line x1="624.32" y1="594.39" x2="624.32" y2="601.19" stroke="#000" stroke-width="1.55"/>
<text transform="translate(624.32 625.95) scale(1 1.04)" font-size="23.4" text-anchor="middle" fill="#000" stroke="#000" stroke-width="0.25">51</text>
<line x1="695.52" y1="594.39" x2="695.52" y2="601.19" stroke="#000" stroke-width="1.55"/>
<text transform="translate(695.52 625.95) scale(1 1.04)" font-size="23.4" text-anchor="middle" fill="#000" stroke="#000" stroke-width="0.25">56</text>
<line x1="112.00" y1="587.27" x2="118.80" y2="587.27" stroke="#000" stroke-width="1.55"/>
<text transform="translate(104.90 596.27) scale(1 1.04)" font-size="23.4" text-anchor="end" fill="#000" stroke="#000" stroke-width="0.25">96</text>
<line x1="112.00" y1="558.79" x2="118.80" y2="558.79" stroke="#000" stroke-width="1.55"/>
<text transform="translate(104.90 567.79) scale(1 1.04)" font-size="23.4" text-anchor="end" fill="#000" stroke="#000" stroke-width="0.25">98</text>
<line x1="112.00" y1="530.31" x2="118.80" y2="530.31" stroke="#000" stroke-width="1.55"/>
<text transform="translate(104.90 539.31) scale(1 1.04)" font-size="23.4" text-anchor="end" fill="#000" stroke="#000" stroke-width="0.25">100</text>
<line x1="112.00" y1="501.83" x2="118.80" y2="501.83" stroke="#000" stroke-width="1.55"/>
<text transform="translate(104.90 510.83) scale(1 1.04)" font-size="23.4" text-anchor="end" fill="#000" stroke="#000" stroke-width="0.25">102</text>
<line x1="112.00" y1="473.35" x2="118.80" y2="473.35" stroke="#000" stroke-width="1.55"/>
<text transform="translate(104.90 482.35) scale(1 1.04)" font-size="23.4" text-anchor="end" fill="#000" stroke="#000" stroke-width="0.25">104</text>
<line x1="112.00" y1="444.87" x2="118.80" y2="444.87" stroke="#000" stroke-width="1.55"/>
<text transform="translate(104.90 453.87) scale(1 1.04)" font-size="23.4" text-anchor="end" fill="#000" stroke="#000" stroke-width="0.25">106</text>
<text transform="translate(0.00 408.45) scale(1 1.04)" font-size="22.6" text-anchor="start" fill="#000" stroke="#000" stroke-width="0.25">b)</text>
<text transform="translate(417.80 399.25) scale(1 1.04)" font-size="23.4" text-anchor="middle" fill="#000" stroke="#000" stroke-width="0.25">Open state of DNAJB6b</text>
<text transform="translate(352.60 430.15) scale(1 1.04)" font-size="23.4" text-anchor="middle" fill="#0568ae" stroke="#0568ae" stroke-width="0.25">HPD</text>
<text transform="translate(417.80 657.05) scale(1 1.04)" font-size="23.4" text-anchor="middle" fill="#000" stroke="#000" stroke-width="0.25">Residues of helix 2 - 3</text>
<text transform="translate(21.70 518.75) rotate(-90) scale(1 1.04)" font-size="23.4" text-anchor="middle" fill="#000" stroke="#000" stroke-width="0.25">Residues of</text>
<text transform="translate(48.10 512.75) rotate(-90) scale(1 1.04)" font-size="23.4" text-anchor="middle" fill="#000" stroke="#000" stroke-width="0.25">helix 5</text>
<line x1="118.80" y1="524.75" x2="139.8" y2="524.75" stroke="#03523f" stroke-width="3.3"/>
<line x1="118.80" y1="567.85" x2="139.8" y2="567.85" stroke="#03523f" stroke-width="3.3"/>
<line x1="132.8" y1="529.75" x2="132.8" y2="561.75" stroke="#03523f" stroke-width="2.0"/>
<path d="M132.8 523.25 L128.4 531.35 L137.2 531.35 Z" fill="#03523f"/>
<path d="M132.8 567.25 L128.4 559.75 L137.2 559.75 Z" fill="#03523f"/>
<text transform="translate(160.60 541.75) rotate(-90) scale(1 1.04)" font-size="23.4" text-anchor="middle" fill="#03523f" stroke="#03523f" stroke-width="0.25">DVF</text>
<rect x="724.20" y="437.75" width="30.40" height="156.64" fill="url(#ghr)" stroke="#000" stroke-width="1.55"/>
<line x1="754.60" y1="594.39" x2="761.40" y2="594.39" stroke="#000" stroke-width="1.55"/>
<text transform="translate(768.90 602.39) scale(1 1.04)" font-size="19.9" text-anchor="start" fill="#000" stroke="#000" stroke-width="0.25">0</text>
<line x1="754.60" y1="555.23" x2="761.40" y2="555.23" stroke="#000" stroke-width="1.55"/>
<text transform="translate(768.90 563.23) scale(1 1.04)" font-size="19.9" text-anchor="start" fill="#000" stroke="#000" stroke-width="0.25">25</text>
<line x1="754.60" y1="516.07" x2="761.40" y2="516.07" stroke="#000" stroke-width="1.55"/>
<text transform="translate(768.90 524.07) scale(1 1.04)" font-size="19.9" text-anchor="start" fill="#000" stroke="#000" stroke-width="0.25">50</text>
<line x1="754.60" y1="476.91" x2="761.40" y2="476.91" stroke="#000" stroke-width="1.55"/>
<text transform="translate(768.90 484.91) scale(1 1.04)" font-size="19.9" text-anchor="start" fill="#000" stroke="#000" stroke-width="0.25">75</text>
<line x1="754.60" y1="437.75" x2="761.40" y2="437.75" stroke="#000" stroke-width="1.55"/>
<text transform="translate(768.90 445.75) scale(1 1.04)" font-size="19.9" text-anchor="start" fill="#000" stroke="#000" stroke-width="0.25">100</text>
<text transform="translate(831.00 519.55) rotate(-90) scale(1 1.04)" font-size="23.4" text-anchor="middle" fill="#000" stroke="#000" stroke-width="0.25">Contact</text>
<text transform="translate(857.20 510.75) rotate(-90) scale(1 1.04)" font-size="23.4" text-anchor="middle" fill="#000" stroke="#000" stroke-width="0.25">persistence (%)</text>
<rect x="1041.38" y="434.65" width="18.14" height="18.14" fill="#fffbf7" shape-rendering="crispEdges"/>
<rect x="1077.66" y="434.65" width="18.14" height="18.14" fill="#fff4e8" shape-rendering="crispEdges"/>
<rect x="1095.80" y="434.65" width="18.14" height="18.14" fill="#fff0e0" shape-rendering="crispEdges"/>
<rect x="1095.80" y="470.93" width="18.14" height="18.14" fill="#fffbf7" shape-rendering="crispEdges"/>
<rect x="1095.80" y="489.07" width="18.14" height="18.14" fill="#fff4e8" shape-rendering="crispEdges"/>
<rect x="1113.94" y="470.93" width="18.14" height="18.14" fill="#fffbf7" shape-rendering="crispEdges"/>
<rect x="1113.94" y="489.07" width="18.14" height="18.14" fill="#ffecd9" shape-rendering="crispEdges"/>
<rect x="1113.94" y="507.21" width="18.14" height="18.14" fill="#ffc285" shape-rendering="crispEdges"/>
<rect x="1132.08" y="489.07" width="18.14" height="18.14" fill="#bf0000" shape-rendering="crispEdges"/>
<rect x="1132.08" y="507.21" width="18.14" height="18.14" fill="#f14200" shape-rendering="crispEdges"/>
<rect x="1150.22" y="434.65" width="18.14" height="18.14" fill="#ffecd9" shape-rendering="crispEdges"/>
<rect x="1150.22" y="452.79" width="18.14" height="18.14" fill="#ffe4c9" shape-rendering="crispEdges"/>
<rect x="1150.22" y="489.07" width="18.14" height="18.14" fill="#ff7500" shape-rendering="crispEdges"/>
<rect x="1150.22" y="507.21" width="18.14" height="18.14" fill="#fff7f0" shape-rendering="crispEdges"/>
<rect x="1168.36" y="434.65" width="18.14" height="18.14" fill="#fff0e0" shape-rendering="crispEdges"/>
<rect x="1168.36" y="452.79" width="18.14" height="18.14" fill="#ffe4c9" shape-rendering="crispEdges"/>
<rect x="1168.36" y="470.93" width="18.14" height="18.14" fill="#fff4e8" shape-rendering="crispEdges"/>
<rect x="1168.36" y="489.07" width="18.14" height="18.14" fill="#bf0000" shape-rendering="crispEdges"/>
<rect x="1168.36" y="507.21" width="18.14" height="18.14" fill="#fffbf7" shape-rendering="crispEdges"/>
<rect x="1186.50" y="434.65" width="18.14" height="18.14" fill="#ffecd9" shape-rendering="crispEdges"/>
<rect x="1186.50" y="452.79" width="18.14" height="18.14" fill="#ffe0c0" shape-rendering="crispEdges"/>
<rect x="1186.50" y="470.93" width="18.14" height="18.14" fill="#fff4e8" shape-rendering="crispEdges"/>
<rect x="1186.50" y="489.07" width="18.14" height="18.14" fill="#ffc78f" shape-rendering="crispEdges"/>
<rect x="1186.50" y="525.35" width="18.14" height="18.14" fill="#fffbf7" shape-rendering="crispEdges"/>
<rect x="1204.64" y="434.65" width="18.14" height="18.14" fill="#fff7f0" shape-rendering="crispEdges"/>
<rect x="1222.78" y="434.65" width="18.14" height="18.14" fill="#fff7f0" shape-rendering="crispEdges"/>
<rect x="1222.78" y="452.79" width="18.14" height="18.14" fill="#fffbf7" shape-rendering="crispEdges"/>
<rect x="1222.78" y="470.93" width="18.14" height="18.14" fill="#fffbf7" shape-rendering="crispEdges"/>
<rect x="1222.78" y="489.07" width="18.14" height="18.14" fill="#fff4e8" shape-rendering="crispEdges"/>
<rect x="1240.92" y="452.79" width="18.14" height="18.14" fill="#fffbf7" shape-rendering="crispEdges"/>
<rect x="1240.92" y="489.07" width="18.14" height="18.14" fill="#ff6b00" shape-rendering="crispEdges"/>
<rect x="1259.06" y="434.65" width="18.14" height="18.14" fill="#fff4e8" shape-rendering="crispEdges"/>
<rect x="1313.48" y="434.65" width="18.14" height="18.14" fill="#ffecd9" shape-rendering="crispEdges"/>
<rect x="1313.48" y="452.79" width="18.14" height="18.14" fill="#ffecd9" shape-rendering="crispEdges"/>
<rect x="1313.48" y="470.93" width="18.14" height="18.14" fill="#fffbf7" shape-rendering="crispEdges"/>
<rect x="1313.48" y="489.07" width="18.14" height="18.14" fill="#e22e00" shape-rendering="crispEdges"/>
<rect x="1313.48" y="507.21" width="18.14" height="18.14" fill="#fff7f0" shape-rendering="crispEdges"/>
<rect x="1313.48" y="561.63" width="18.14" height="18.14" fill="#fffbf7" shape-rendering="crispEdges"/>
<rect x="1331.62" y="489.07" width="18.14" height="18.14" fill="#e22e00" shape-rendering="crispEdges"/>
<rect x="1367.90" y="434.65" width="18.14" height="18.14" fill="#fff0e0" shape-rendering="crispEdges"/>
<rect x="1367.90" y="452.79" width="18.14" height="18.14" fill="#ffecd9" shape-rendering="crispEdges"/>
<rect x="1367.90" y="470.93" width="18.14" height="18.14" fill="#ff9933" shape-rendering="crispEdges"/>
<rect x="1367.90" y="489.07" width="18.14" height="18.14" fill="#ff9933" shape-rendering="crispEdges"/>
<rect x="1367.90" y="507.21" width="18.14" height="18.14" fill="#ffc78f" shape-rendering="crispEdges"/>
<rect x="1367.90" y="543.49" width="18.14" height="18.14" fill="#ffa852" shape-rendering="crispEdges"/>
<rect x="1367.90" y="561.63" width="18.14" height="18.14" fill="#fffbf7" shape-rendering="crispEdges"/>
<rect x="1367.90" y="579.77" width="18.14" height="18.14" fill="#fff7f0" shape-rendering="crispEdges"/>
<rect x="1386.04" y="489.07" width="18.14" height="18.14" fill="#b80000" shape-rendering="crispEdges"/>
<rect x="1386.04" y="507.21" width="18.14" height="18.14" fill="#d21a00" shape-rendering="crispEdges"/>
<rect x="1404.18" y="489.07" width="18.14" height="18.14" fill="#fff7f0" shape-rendering="crispEdges"/>
<rect x="1440.46" y="452.79" width="18.14" height="18.14" fill="#ffc78f" shape-rendering="crispEdges"/>
<rect x="1440.46" y="470.93" width="18.14" height="18.14" fill="#ffb266" shape-rendering="crispEdges"/>
<rect x="1440.46" y="489.07" width="18.14" height="18.14" fill="#ffb870" shape-rendering="crispEdges"/>
<rect x="1440.46" y="507.21" width="18.14" height="18.14" fill="#b40000" shape-rendering="crispEdges"/>
<rect x="1440.46" y="525.35" width="18.14" height="18.14" fill="#f94d00" shape-rendering="crispEdges"/>
<rect x="1440.46" y="543.49" width="18.14" height="18.14" fill="#de2900" shape-rendering="crispEdges"/>
<rect x="1440.46" y="561.63" width="18.14" height="18.14" fill="#ffb266" shape-rendering="crispEdges"/>
<rect x="1440.46" y="579.77" width="18.14" height="18.14" fill="#fffbf7" shape-rendering="crispEdges"/>
<rect x="1458.60" y="489.07" width="18.14" height="18.14" fill="#ffe0c0" shape-rendering="crispEdges"/>
<rect x="1458.60" y="507.21" width="18.14" height="18.14" fill="#cf1400" shape-rendering="crispEdges"/>
<rect x="1494.88" y="507.21" width="18.14" height="18.14" fill="#fffbf7" shape-rendering="crispEdges"/>
<rect x="1513.02" y="470.93" width="18.14" height="18.14" fill="#fff0e0" shape-rendering="crispEdges"/>
<rect x="1513.02" y="489.07" width="18.14" height="18.14" fill="#ffe4c9" shape-rendering="crispEdges"/>
<rect x="1513.02" y="507.21" width="18.14" height="18.14" fill="#ff6600" shape-rendering="crispEdges"/>
<rect x="1513.02" y="525.35" width="18.14" height="18.14" fill="#ffe4c9" shape-rendering="crispEdges"/>
<rect x="1513.02" y="543.49" width="18.14" height="18.14" fill="#ffd7ae" shape-rendering="crispEdges"/>
<rect x="1531.16" y="489.07" width="18.14" height="18.14" fill="#fff7f0" shape-rendering="crispEdges"/>
<rect x="1531.16" y="507.21" width="18.14" height="18.14" fill="#ffe4c9" shape-rendering="crispEdges"/>
<rect x="1005.10" y="434.65" width="598.62" height="163.26" fill="none" stroke="#000" stroke-width="1.55"/>
<line x1="1014.17" y1="597.91" x2="1014.17" y2="604.71" stroke="#000" stroke-width="1.55"/>
<text transform="translate(1014.17 629.45) scale(1 1.04)" font-size="23.4" text-anchor="middle" fill="#000" stroke="#000" stroke-width="0.25">1</text>
<line x1="1104.87" y1="597.91" x2="1104.87" y2="604.71" stroke="#000" stroke-width="1.55"/>
<text transform="translate(1104.87 629.45) scale(1 1.04)" font-size="23.4" text-anchor="middle" fill="#000" stroke="#000" stroke-width="0.25">6</text>
<line x1="1195.57" y1="597.91" x2="1195.57" y2="604.71" stroke="#000" stroke-width="1.55"/>
<text transform="translate(1195.57 629.45) scale(1 1.04)" font-size="23.4" text-anchor="middle" fill="#000" stroke="#000" stroke-width="0.25">11</text>
<line x1="1286.27" y1="597.91" x2="1286.27" y2="604.71" stroke="#000" stroke-width="1.55"/>
<text transform="translate(1286.27 629.45) scale(1 1.04)" font-size="23.4" text-anchor="middle" fill="#000" stroke="#000" stroke-width="0.25">16</text>
<line x1="1376.97" y1="597.91" x2="1376.97" y2="604.71" stroke="#000" stroke-width="1.55"/>
<text transform="translate(1376.97 629.45) scale(1 1.04)" font-size="23.4" text-anchor="middle" fill="#000" stroke="#000" stroke-width="0.25">21</text>
<line x1="1467.67" y1="597.91" x2="1467.67" y2="604.71" stroke="#000" stroke-width="1.55"/>
<text transform="translate(1467.67 629.45) scale(1 1.04)" font-size="23.4" text-anchor="middle" fill="#000" stroke="#000" stroke-width="0.25">26</text>
<line x1="1558.37" y1="597.91" x2="1558.37" y2="604.71" stroke="#000" stroke-width="1.55"/>
<text transform="translate(1558.37 629.45) scale(1 1.04)" font-size="23.4" text-anchor="middle" fill="#000" stroke="#000" stroke-width="0.25">31</text>
<line x1="998.30" y1="588.84" x2="1005.10" y2="588.84" stroke="#000" stroke-width="1.55"/>
<text transform="translate(991.60 598.14) scale(1 1.04)" font-size="23.4" text-anchor="end" fill="#000" stroke="#000" stroke-width="0.25">118</text>
<line x1="998.30" y1="552.56" x2="1005.10" y2="552.56" stroke="#000" stroke-width="1.55"/>
<text transform="translate(991.60 561.86) scale(1 1.04)" font-size="23.4" text-anchor="end" fill="#000" stroke="#000" stroke-width="0.25">120</text>
<line x1="998.30" y1="516.28" x2="1005.10" y2="516.28" stroke="#000" stroke-width="1.55"/>
<text transform="translate(991.60 525.58) scale(1 1.04)" font-size="23.4" text-anchor="end" fill="#000" stroke="#000" stroke-width="0.25">122</text>
<line x1="998.30" y1="480.00" x2="1005.10" y2="480.00" stroke="#000" stroke-width="1.55"/>
<text transform="translate(991.60 489.30) scale(1 1.04)" font-size="23.4" text-anchor="end" fill="#000" stroke="#000" stroke-width="0.25">124</text>
<line x1="998.30" y1="443.72" x2="1005.10" y2="443.72" stroke="#000" stroke-width="1.55"/>
<text transform="translate(991.60 453.02) scale(1 1.04)" font-size="23.4" text-anchor="end" fill="#000" stroke="#000" stroke-width="0.25">126</text>
<text transform="translate(885.50 403.55) scale(1 1.04)" font-size="22.6" text-anchor="start" fill="#000" stroke="#000" stroke-width="0.25">f)</text>
<text transform="translate(1304.40 423.05) scale(1 1.04)" font-size="23.4" text-anchor="middle" fill="#000" stroke="#000" stroke-width="0.25">Open state of DNAJB6b</text>
<text transform="translate(1304.40 659.55) scale(1 1.04)" font-size="23.4" text-anchor="middle" fill="#000" stroke="#000" stroke-width="0.25">Residue</text>
<text transform="translate(935.30 516.05) rotate(-90) scale(1 1.04)" font-size="23.4" text-anchor="middle" fill="#000" stroke="#000" stroke-width="0.25">Residue</text>
<rect x="1611.40" y="434.65" width="29.90" height="163.26" fill="url(#ghr)" stroke="#000" stroke-width="1.55"/>
<line x1="1641.30" y1="597.91" x2="1648.10" y2="597.91" stroke="#000" stroke-width="1.55"/>
<text transform="translate(1654.60 605.91) scale(1 1.04)" font-size="19.9" text-anchor="start" fill="#000" stroke="#000" stroke-width="0.25">0</text>
<line x1="1641.30" y1="557.10" x2="1648.10" y2="557.10" stroke="#000" stroke-width="1.55"/>
<text transform="translate(1654.60 565.10) scale(1 1.04)" font-size="19.9" text-anchor="start" fill="#000" stroke="#000" stroke-width="0.25">25</text>
<line x1="1641.30" y1="516.28" x2="1648.10" y2="516.28" stroke="#000" stroke-width="1.55"/>
<text transform="translate(1654.60 524.28) scale(1 1.04)" font-size="19.9" text-anchor="start" fill="#000" stroke="#000" stroke-width="0.25">50</text>
<line x1="1641.30" y1="475.46" x2="1648.10" y2="475.46" stroke="#000" stroke-width="1.55"/>
<text transform="translate(1654.60 483.46) scale(1 1.04)" font-size="19.9" text-anchor="start" fill="#000" stroke="#000" stroke-width="0.25">75</text>
<line x1="1641.30" y1="434.65" x2="1648.10" y2="434.65" stroke="#000" stroke-width="1.55"/>
<text transform="translate(1654.60 442.65) scale(1 1.04)" font-size="19.9" text-anchor="start" fill="#000" stroke="#000" stroke-width="0.25">100</text>
<text transform="translate(1717.00 519.55) rotate(-90) scale(1 1.04)" font-size="23.4" text-anchor="middle" fill="#000" stroke="#000" stroke-width="0.25">Contact</text>
<text transform="translate(1743.20 510.75) rotate(-90) scale(1 1.04)" font-size="23.4" text-anchor="middle" fill="#000" stroke="#000" stroke-width="0.25">persistence (%)</text>
<rect x="175.76" y="786.74" width="14.24" height="14.24" fill="#ffa852" shape-rendering="crispEdges"/>
<rect x="175.76" y="800.98" width="14.24" height="14.24" fill="#fffbf7" shape-rendering="crispEdges"/>
<rect x="175.76" y="815.22" width="14.24" height="14.24" fill="#670000" shape-rendering="crispEdges"/>
<rect x="175.76" y="829.46" width="14.24" height="14.24" fill="#670000" shape-rendering="crispEdges"/>
<rect x="190.00" y="815.22" width="14.24" height="14.24" fill="#ffe4c9" shape-rendering="crispEdges"/>
<rect x="218.48" y="815.22" width="14.24" height="14.24" fill="#0b0000" shape-rendering="crispEdges"/>
<rect x="218.48" y="857.94" width="14.24" height="14.24" fill="#fffbf7" shape-rendering="crispEdges"/>
<rect x="232.72" y="786.74" width="14.24" height="14.24" fill="#ffc285" shape-rendering="crispEdges"/>
<rect x="232.72" y="800.98" width="14.24" height="14.24" fill="#360000" shape-rendering="crispEdges"/>
<rect x="232.72" y="815.22" width="14.24" height="14.24" fill="#170000" shape-rendering="crispEdges"/>
<rect x="232.72" y="829.46" width="14.24" height="14.24" fill="#ffad5c" shape-rendering="crispEdges"/>
<rect x="232.72" y="857.94" width="14.24" height="14.24" fill="#ffdbb7" shape-rendering="crispEdges"/>
<rect x="275.44" y="800.98" width="14.24" height="14.24" fill="#bf0000" shape-rendering="crispEdges"/>
<rect x="275.44" y="815.22" width="14.24" height="14.24" fill="#450000" shape-rendering="crispEdges"/>
<rect x="275.44" y="857.94" width="14.24" height="14.24" fill="#a10000" shape-rendering="crispEdges"/>
<rect x="289.68" y="800.98" width="14.24" height="14.24" fill="#130000" shape-rendering="crispEdges"/>
<rect x="289.68" y="815.22" width="14.24" height="14.24" fill="#ffc78f" shape-rendering="crispEdges"/>
<rect x="289.68" y="857.94" width="14.24" height="14.24" fill="#ff9933" shape-rendering="crispEdges"/>
<rect x="332.40" y="800.98" width="14.24" height="14.24" fill="#ff7000" shape-rendering="crispEdges"/>
<rect x="332.40" y="843.70" width="14.24" height="14.24" fill="#fffbf7" shape-rendering="crispEdges"/>
<rect x="332.40" y="857.94" width="14.24" height="14.24" fill="#ffa852" shape-rendering="crispEdges"/>
<rect x="360.88" y="800.98" width="14.24" height="14.24" fill="#fff7f0" shape-rendering="crispEdges"/>
<rect x="546.00" y="800.98" width="14.24" height="14.24" fill="#a10000" shape-rendering="crispEdges"/>
<rect x="546.00" y="815.22" width="14.24" height="14.24" fill="#ffb870" shape-rendering="crispEdges"/>
<rect x="546.00" y="843.70" width="14.24" height="14.24" fill="#fff7f0" shape-rendering="crispEdges"/>
<rect x="546.00" y="857.94" width="14.24" height="14.24" fill="#0b0000" shape-rendering="crispEdges"/>
<rect x="546.00" y="900.66" width="14.24" height="14.24" fill="#ffdbb7" shape-rendering="crispEdges"/>
<rect x="546.00" y="914.90" width="14.24" height="14.24" fill="#ffc78f" shape-rendering="crispEdges"/>
<rect x="560.24" y="857.94" width="14.24" height="14.24" fill="#770000" shape-rendering="crispEdges"/>
<rect x="560.24" y="900.66" width="14.24" height="14.24" fill="#ffa852" shape-rendering="crispEdges"/>
<rect x="560.24" y="914.90" width="14.24" height="14.24" fill="#b80000" shape-rendering="crispEdges"/>
<rect x="588.72" y="815.22" width="14.24" height="14.24" fill="#580000" shape-rendering="crispEdges"/>
<rect x="588.72" y="857.94" width="14.24" height="14.24" fill="#ffb870" shape-rendering="crispEdges"/>
<rect x="602.96" y="815.22" width="14.24" height="14.24" fill="#410000" shape-rendering="crispEdges"/>
<rect x="602.96" y="857.94" width="14.24" height="14.24" fill="#540000" shape-rendering="crispEdges"/>
<rect x="602.96" y="872.18" width="14.24" height="14.24" fill="#770000" shape-rendering="crispEdges"/>
<rect x="602.96" y="914.90" width="14.24" height="14.24" fill="#770000" shape-rendering="crispEdges"/>
<rect x="617.20" y="857.94" width="14.24" height="14.24" fill="#ffbd7a" shape-rendering="crispEdges"/>
<rect x="617.20" y="914.90" width="14.24" height="14.24" fill="#f14200" shape-rendering="crispEdges"/>
<rect x="645.68" y="815.22" width="14.24" height="14.24" fill="#580000" shape-rendering="crispEdges"/>
<rect x="645.68" y="829.46" width="14.24" height="14.24" fill="#bf0000" shape-rendering="crispEdges"/>
<rect x="645.68" y="857.94" width="14.24" height="14.24" fill="#ffe0c0" shape-rendering="crispEdges"/>
<rect x="645.68" y="872.18" width="14.24" height="14.24" fill="#770000" shape-rendering="crispEdges"/>
<rect x="645.68" y="914.90" width="14.24" height="14.24" fill="#fffbf7" shape-rendering="crispEdges"/>
<rect x="659.92" y="857.94" width="14.24" height="14.24" fill="#fffbf7" shape-rendering="crispEdges"/>
<rect x="659.92" y="872.18" width="14.24" height="14.24" fill="#ffdbb7" shape-rendering="crispEdges"/>
<rect x="659.92" y="900.66" width="14.24" height="14.24" fill="#fffbf7" shape-rendering="crispEdges"/>
<rect x="659.92" y="914.90" width="14.24" height="14.24" fill="#ffdbb7" shape-rendering="crispEdges"/>
<rect x="688.40" y="815.22" width="14.24" height="14.24" fill="#f14200" shape-rendering="crispEdges"/>
<rect x="688.40" y="829.46" width="14.24" height="14.24" fill="#ff5c00" shape-rendering="crispEdges"/>
<rect x="688.40" y="872.18" width="14.24" height="14.24" fill="#ffc78f" shape-rendering="crispEdges"/>
<rect x="702.64" y="872.18" width="14.24" height="14.24" fill="#fffbf7" shape-rendering="crispEdges"/>
<line x1="330.98" y1="772.50" x2="330.98" y2="929.14" stroke="#0568ae" stroke-width="3.4" stroke-dasharray="11.1 4.6" stroke-dashoffset="9.30"/>
<line x1="373.70" y1="772.50" x2="373.70" y2="929.14" stroke="#0568ae" stroke-width="3.4" stroke-dasharray="11.1 4.6" stroke-dashoffset="9.30"/>
<rect x="118.80" y="772.50" width="598.08" height="156.64" fill="none" stroke="#000" stroke-width="1.55"/>
<line x1="125.92" y1="929.14" x2="125.92" y2="935.94" stroke="#000" stroke-width="1.55"/>
<text transform="translate(125.92 960.70) scale(1 1.04)" font-size="23.4" text-anchor="middle" fill="#000" stroke="#000" stroke-width="0.25">16</text>
<line x1="197.12" y1="929.14" x2="197.12" y2="935.94" stroke="#000" stroke-width="1.55"/>
<text transform="translate(197.12 960.70) scale(1 1.04)" font-size="23.4" text-anchor="middle" fill="#000" stroke="#000" stroke-width="0.25">21</text>
<line x1="268.32" y1="929.14" x2="268.32" y2="935.94" stroke="#000" stroke-width="1.55"/>
<text transform="translate(268.32 960.70) scale(1 1.04)" font-size="23.4" text-anchor="middle" fill="#000" stroke="#000" stroke-width="0.25">26</text>
<line x1="339.52" y1="929.14" x2="339.52" y2="935.94" stroke="#000" stroke-width="1.55"/>
<text transform="translate(339.52 960.70) scale(1 1.04)" font-size="23.4" text-anchor="middle" fill="#000" stroke="#000" stroke-width="0.25">31</text>
<line x1="410.72" y1="929.14" x2="410.72" y2="935.94" stroke="#000" stroke-width="1.55"/>
<text transform="translate(410.72 960.70) scale(1 1.04)" font-size="23.4" text-anchor="middle" fill="#000" stroke="#000" stroke-width="0.25">36</text>
<line x1="481.92" y1="929.14" x2="481.92" y2="935.94" stroke="#000" stroke-width="1.55"/>
<text transform="translate(481.92 960.70) scale(1 1.04)" font-size="23.4" text-anchor="middle" fill="#000" stroke="#000" stroke-width="0.25">41</text>
<line x1="553.12" y1="929.14" x2="553.12" y2="935.94" stroke="#000" stroke-width="1.55"/>
<text transform="translate(553.12 960.70) scale(1 1.04)" font-size="23.4" text-anchor="middle" fill="#000" stroke="#000" stroke-width="0.25">46</text>
<line x1="624.32" y1="929.14" x2="624.32" y2="935.94" stroke="#000" stroke-width="1.55"/>
<text transform="translate(624.32 960.70) scale(1 1.04)" font-size="23.4" text-anchor="middle" fill="#000" stroke="#000" stroke-width="0.25">51</text>
<line x1="695.52" y1="929.14" x2="695.52" y2="935.94" stroke="#000" stroke-width="1.55"/>
<text transform="translate(695.52 960.70) scale(1 1.04)" font-size="23.4" text-anchor="middle" fill="#000" stroke="#000" stroke-width="0.25">56</text>
<line x1="112.00" y1="922.02" x2="118.80" y2="922.02" stroke="#000" stroke-width="1.55"/>
<text transform="translate(104.90 931.02) scale(1 1.04)" font-size="23.4" text-anchor="end" fill="#000" stroke="#000" stroke-width="0.25">96</text>
<line x1="112.00" y1="893.54" x2="118.80" y2="893.54" stroke="#000" stroke-width="1.55"/>
<text transform="translate(104.90 902.54) scale(1 1.04)" font-size="23.4" text-anchor="end" fill="#000" stroke="#000" stroke-width="0.25">98</text>
<line x1="112.00" y1="865.06" x2="118.80" y2="865.06" stroke="#000" stroke-width="1.55"/>
<text transform="translate(104.90 874.06) scale(1 1.04)" font-size="23.4" text-anchor="end" fill="#000" stroke="#000" stroke-width="0.25">100</text>
<line x1="112.00" y1="836.58" x2="118.80" y2="836.58" stroke="#000" stroke-width="1.55"/>
<text transform="translate(104.90 845.58) scale(1 1.04)" font-size="23.4" text-anchor="end" fill="#000" stroke="#000" stroke-width="0.25">102</text>
<line x1="112.00" y1="808.10" x2="118.80" y2="808.10" stroke="#000" stroke-width="1.55"/>
<text transform="translate(104.90 817.10) scale(1 1.04)" font-size="23.4" text-anchor="end" fill="#000" stroke="#000" stroke-width="0.25">104</text>
<line x1="112.00" y1="779.62" x2="118.80" y2="779.62" stroke="#000" stroke-width="1.55"/>
<text transform="translate(104.90 788.62) scale(1 1.04)" font-size="23.4" text-anchor="end" fill="#000" stroke="#000" stroke-width="0.25">106</text>
<text transform="translate(0.00 743.20) scale(1 1.04)" font-size="22.6" text-anchor="start" fill="#000" stroke="#000" stroke-width="0.25">c)</text>
<text transform="translate(417.80 734.00) scale(1 1.04)" font-size="23.4" text-anchor="middle" fill="#000" stroke="#000" stroke-width="0.25">Extended state of DNAJB6b</text>
<text transform="translate(352.60 764.90) scale(1 1.04)" font-size="23.4" text-anchor="middle" fill="#0568ae" stroke="#0568ae" stroke-width="0.25">HPD</text>
<text transform="translate(417.80 991.80) scale(1 1.04)" font-size="23.4" text-anchor="middle" fill="#000" stroke="#000" stroke-width="0.25">Residues of helix 2 - 3</text>
<text transform="translate(21.70 853.50) rotate(-90) scale(1 1.04)" font-size="23.4" text-anchor="middle" fill="#000" stroke="#000" stroke-width="0.25">Residues of</text>
<text transform="translate(48.10 847.50) rotate(-90) scale(1 1.04)" font-size="23.4" text-anchor="middle" fill="#000" stroke="#000" stroke-width="0.25">helix 5</text>
<line x1="118.80" y1="859.50" x2="139.8" y2="859.50" stroke="#03523f" stroke-width="3.3"/>
<line x1="118.80" y1="902.60" x2="139.8" y2="902.60" stroke="#03523f" stroke-width="3.3"/>
<line x1="132.8" y1="864.50" x2="132.8" y2="896.50" stroke="#03523f" stroke-width="2.0"/>
<path d="M132.8 858.00 L128.4 866.10 L137.2 866.10 Z" fill="#03523f"/>
<path d="M132.8 902.00 L128.4 894.50 L137.2 894.50 Z" fill="#03523f"/>
<text transform="translate(160.60 876.50) rotate(-90) scale(1 1.04)" font-size="23.4" text-anchor="middle" fill="#03523f" stroke="#03523f" stroke-width="0.25">DVF</text>
<rect x="724.20" y="772.50" width="30.40" height="156.64" fill="url(#ghr)" stroke="#000" stroke-width="1.55"/>
<line x1="754.60" y1="929.14" x2="761.40" y2="929.14" stroke="#000" stroke-width="1.55"/>
<text transform="translate(768.90 937.14) scale(1 1.04)" font-size="19.9" text-anchor="start" fill="#000" stroke="#000" stroke-width="0.25">0</text>
<line x1="754.60" y1="889.98" x2="761.40" y2="889.98" stroke="#000" stroke-width="1.55"/>
<text transform="translate(768.90 897.98) scale(1 1.04)" font-size="19.9" text-anchor="start" fill="#000" stroke="#000" stroke-width="0.25">25</text>
<line x1="754.60" y1="850.82" x2="761.40" y2="850.82" stroke="#000" stroke-width="1.55"/>
<text transform="translate(768.90 858.82) scale(1 1.04)" font-size="19.9" text-anchor="start" fill="#000" stroke="#000" stroke-width="0.25">50</text>
<line x1="754.60" y1="811.66" x2="761.40" y2="811.66" stroke="#000" stroke-width="1.55"/>
<text transform="translate(768.90 819.66) scale(1 1.04)" font-size="19.9" text-anchor="start" fill="#000" stroke="#000" stroke-width="0.25">75</text>
<line x1="754.60" y1="772.50" x2="761.40" y2="772.50" stroke="#000" stroke-width="1.55"/>
<text transform="translate(768.90 780.50) scale(1 1.04)" font-size="19.9" text-anchor="start" fill="#000" stroke="#000" stroke-width="0.25">100</text>
<text transform="translate(831.00 854.30) rotate(-90) scale(1 1.04)" font-size="23.4" text-anchor="middle" fill="#000" stroke="#000" stroke-width="0.25">Contact</text>
<text transform="translate(857.20 845.50) rotate(-90) scale(1 1.04)" font-size="23.4" text-anchor="middle" fill="#000" stroke="#000" stroke-width="0.25">persistence (%)</text>
<rect x="1113.94" y="841.96" width="18.14" height="18.14" fill="#ff8f1f" shape-rendering="crispEdges"/>
<rect x="1132.08" y="823.82" width="18.14" height="18.14" fill="#ff6100" shape-rendering="crispEdges"/>
<rect x="1132.08" y="841.96" width="18.14" height="18.14" fill="#ff6100" shape-rendering="crispEdges"/>
<rect x="1150.22" y="823.82" width="18.14" height="18.14" fill="#ffc78f" shape-rendering="crispEdges"/>
<rect x="1168.36" y="823.82" width="18.14" height="18.14" fill="#ff5c00" shape-rendering="crispEdges"/>
<rect x="1186.50" y="769.40" width="18.14" height="18.14" fill="#fff7f0" shape-rendering="crispEdges"/>
<rect x="1186.50" y="787.54" width="18.14" height="18.14" fill="#fffbf7" shape-rendering="crispEdges"/>
<rect x="1186.50" y="805.68" width="18.14" height="18.14" fill="#fff7f0" shape-rendering="crispEdges"/>
<rect x="1186.50" y="823.82" width="18.14" height="18.14" fill="#ffe4c9" shape-rendering="crispEdges"/>
<rect x="1186.50" y="878.24" width="18.14" height="18.14" fill="#fff7f0" shape-rendering="crispEdges"/>
<rect x="1222.78" y="769.40" width="18.14" height="18.14" fill="#fff7f0" shape-rendering="crispEdges"/>
<rect x="1222.78" y="805.68" width="18.14" height="18.14" fill="#fffbf7" shape-rendering="crispEdges"/>
<rect x="1222.78" y="823.82" width="18.14" height="18.14" fill="#fff7f0" shape-rendering="crispEdges"/>
<rect x="1222.78" y="841.96" width="18.14" height="18.14" fill="#fffbf7" shape-rendering="crispEdges"/>
<rect x="1240.92" y="823.82" width="18.14" height="18.14" fill="#ff7000" shape-rendering="crispEdges"/>
<rect x="1259.06" y="769.40" width="18.14" height="18.14" fill="#fff7f0" shape-rendering="crispEdges"/>
<rect x="1295.34" y="769.40" width="18.14" height="18.14" fill="#fff7f0" shape-rendering="crispEdges"/>
<rect x="1313.48" y="769.40" width="18.14" height="18.14" fill="#ffdbb7" shape-rendering="crispEdges"/>
<rect x="1313.48" y="823.82" width="18.14" height="18.14" fill="#ff5c00" shape-rendering="crispEdges"/>
<rect x="1313.48" y="841.96" width="18.14" height="18.14" fill="#fffbf7" shape-rendering="crispEdges"/>
<rect x="1313.48" y="896.38" width="18.14" height="18.14" fill="#fffbf7" shape-rendering="crispEdges"/>
<rect x="1331.62" y="823.82" width="18.14" height="18.14" fill="#ff5c00" shape-rendering="crispEdges"/>
<rect x="1367.90" y="769.40" width="18.14" height="18.14" fill="#ffecd9" shape-rendering="crispEdges"/>
<rect x="1367.90" y="787.54" width="18.14" height="18.14" fill="#fff7f0" shape-rendering="crispEdges"/>
<rect x="1367.90" y="841.96" width="18.14" height="18.14" fill="#fffbf7" shape-rendering="crispEdges"/>
<rect x="1367.90" y="878.24" width="18.14" height="18.14" fill="#fffbf7" shape-rendering="crispEdges"/>
<rect x="1367.90" y="914.52" width="18.14" height="18.14" fill="#fff7f0" shape-rendering="crispEdges"/>
<rect x="1386.04" y="823.82" width="18.14" height="18.14" fill="#ff5c00" shape-rendering="crispEdges"/>
<rect x="1386.04" y="841.96" width="18.14" height="18.14" fill="#ff5c00" shape-rendering="crispEdges"/>
<rect x="1440.46" y="787.54" width="18.14" height="18.14" fill="#ffc78f" shape-rendering="crispEdges"/>
<rect x="1440.46" y="823.82" width="18.14" height="18.14" fill="#fffbf7" shape-rendering="crispEdges"/>
<rect x="1440.46" y="841.96" width="18.14" height="18.14" fill="#ff5c00" shape-rendering="crispEdges"/>
<rect x="1440.46" y="860.10" width="18.14" height="18.14" fill="#ff5c00" shape-rendering="crispEdges"/>
<rect x="1440.46" y="878.24" width="18.14" height="18.14" fill="#ff5c00" shape-rendering="crispEdges"/>
<rect x="1440.46" y="896.38" width="18.14" height="18.14" fill="#ff5c00" shape-rendering="crispEdges"/>
<rect x="1440.46" y="914.52" width="18.14" height="18.14" fill="#fff0e0" shape-rendering="crispEdges"/>
<rect x="1458.60" y="841.96" width="18.14" height="18.14" fill="#ff5c00" shape-rendering="crispEdges"/>
<rect x="1513.02" y="841.96" width="18.14" height="18.14" fill="#ffa852" shape-rendering="crispEdges"/>
<rect x="1513.02" y="878.24" width="18.14" height="18.14" fill="#ffd7ae" shape-rendering="crispEdges"/>
<rect x="1005.10" y="769.40" width="598.62" height="163.26" fill="none" stroke="#000" stroke-width="1.55"/>
<line x1="1014.17" y1="932.66" x2="1014.17" y2="939.46" stroke="#000" stroke-width="1.55"/>
<text transform="translate(1014.17 964.20) scale(1 1.04)" font-size="23.4" text-anchor="middle" fill="#000" stroke="#000" stroke-width="0.25">1</text>
<line x1="1104.87" y1="932.66" x2="1104.87" y2="939.46" stroke="#000" stroke-width="1.55"/>
<text transform="translate(1104.87 964.20) scale(1 1.04)" font-size="23.4" text-anchor="middle" fill="#000" stroke="#000" stroke-width="0.25">6</text>
<line x1="1195.57" y1="932.66" x2="1195.57" y2="939.46" stroke="#000" stroke-width="1.55"/>
<text transform="translate(1195.57 964.20) scale(1 1.04)" font-size="23.4" text-anchor="middle" fill="#000" stroke="#000" stroke-width="0.25">11</text>
<line x1="1286.27" y1="932.66" x2="1286.27" y2="939.46" stroke="#000" stroke-width="1.55"/>
<text transform="translate(1286.27 964.20) scale(1 1.04)" font-size="23.4" text-anchor="middle" fill="#000" stroke="#000" stroke-width="0.25">16</text>
<line x1="1376.97" y1="932.66" x2="1376.97" y2="939.46" stroke="#000" stroke-width="1.55"/>
<text transform="translate(1376.97 964.20) scale(1 1.04)" font-size="23.4" text-anchor="middle" fill="#000" stroke="#000" stroke-width="0.25">21</text>
<line x1="1467.67" y1="932.66" x2="1467.67" y2="939.46" stroke="#000" stroke-width="1.55"/>
<text transform="translate(1467.67 964.20) scale(1 1.04)" font-size="23.4" text-anchor="middle" fill="#000" stroke="#000" stroke-width="0.25">26</text>
<line x1="1558.37" y1="932.66" x2="1558.37" y2="939.46" stroke="#000" stroke-width="1.55"/>
<text transform="translate(1558.37 964.20) scale(1 1.04)" font-size="23.4" text-anchor="middle" fill="#000" stroke="#000" stroke-width="0.25">31</text>
<line x1="998.30" y1="923.59" x2="1005.10" y2="923.59" stroke="#000" stroke-width="1.55"/>
<text transform="translate(991.60 932.89) scale(1 1.04)" font-size="23.4" text-anchor="end" fill="#000" stroke="#000" stroke-width="0.25">118</text>
<line x1="998.30" y1="887.31" x2="1005.10" y2="887.31" stroke="#000" stroke-width="1.55"/>
<text transform="translate(991.60 896.61) scale(1 1.04)" font-size="23.4" text-anchor="end" fill="#000" stroke="#000" stroke-width="0.25">120</text>
<line x1="998.30" y1="851.03" x2="1005.10" y2="851.03" stroke="#000" stroke-width="1.55"/>
<text transform="translate(991.60 860.33) scale(1 1.04)" font-size="23.4" text-anchor="end" fill="#000" stroke="#000" stroke-width="0.25">122</text>
<line x1="998.30" y1="814.75" x2="1005.10" y2="814.75" stroke="#000" stroke-width="1.55"/>
<text transform="translate(991.60 824.05) scale(1 1.04)" font-size="23.4" text-anchor="end" fill="#000" stroke="#000" stroke-width="0.25">124</text>
<line x1="998.30" y1="778.47" x2="1005.10" y2="778.47" stroke="#000" stroke-width="1.55"/>
<text transform="translate(991.60 787.77) scale(1 1.04)" font-size="23.4" text-anchor="end" fill="#000" stroke="#000" stroke-width="0.25">126</text>
<text transform="translate(885.50 738.30) scale(1 1.04)" font-size="22.6" text-anchor="start" fill="#000" stroke="#000" stroke-width="0.25">g)</text>
<text transform="translate(1304.40 757.80) scale(1 1.04)" font-size="23.4" text-anchor="middle" fill="#000" stroke="#000" stroke-width="0.25">Extended state of DNAJB6b</text>
<text transform="translate(1304.40 994.30) scale(1 1.04)" font-size="23.4" text-anchor="middle" fill="#000" stroke="#000" stroke-width="0.25">Residue</text>
<text transform="translate(935.30 850.80) rotate(-90) scale(1 1.04)" font-size="23.4" text-anchor="middle" fill="#000" stroke="#000" stroke-width="0.25">Residue</text>
<rect x="1611.40" y="769.40" width="29.90" height="163.26" fill="url(#ghr)" stroke="#000" stroke-width="1.55"/>
<line x1="1641.30" y1="932.66" x2="1648.10" y2="932.66" stroke="#000" stroke-width="1.55"/>
<text transform="translate(1654.60 940.66) scale(1 1.04)" font-size="19.9" text-anchor="start" fill="#000" stroke="#000" stroke-width="0.25">0</text>
<line x1="1641.30" y1="891.85" x2="1648.10" y2="891.85" stroke="#000" stroke-width="1.55"/>
<text transform="translate(1654.60 899.85) scale(1 1.04)" font-size="19.9" text-anchor="start" fill="#000" stroke="#000" stroke-width="0.25">25</text>
<line x1="1641.30" y1="851.03" x2="1648.10" y2="851.03" stroke="#000" stroke-width="1.55"/>
<text transform="translate(1654.60 859.03) scale(1 1.04)" font-size="19.9" text-anchor="start" fill="#000" stroke="#000" stroke-width="0.25">50</text>
<line x1="1641.30" y1="810.21" x2="1648.10" y2="810.21" stroke="#000" stroke-width="1.55"/>
<text transform="translate(1654.60 818.21) scale(1 1.04)" font-size="19.9" text-anchor="start" fill="#000" stroke="#000" stroke-width="0.25">75</text>
<line x1="1641.30" y1="769.40" x2="1648.10" y2="769.40" stroke="#000" stroke-width="1.55"/>
<text transform="translate(1654.60 777.40) scale(1 1.04)" font-size="19.9" text-anchor="start" fill="#000" stroke="#000" stroke-width="0.25">100</text>
<text transform="translate(1717.00 854.30) rotate(-90) scale(1 1.04)" font-size="23.4" text-anchor="middle" fill="#000" stroke="#000" stroke-width="0.25">Contact</text>
<text transform="translate(1743.20 845.50) rotate(-90) scale(1 1.04)" font-size="23.4" text-anchor="middle" fill="#000" stroke="#000" stroke-width="0.25">persistence (%)</text>
<rect x="118.80" y="1135.73" width="14.24" height="14.24" fill="#fff7f0" shape-rendering="crispEdges"/>
<rect x="118.80" y="1149.97" width="14.24" height="14.24" fill="#fff7f0" shape-rendering="crispEdges"/>
<rect x="175.76" y="1121.49" width="14.24" height="14.24" fill="#ffecd9" shape-rendering="crispEdges"/>
<rect x="175.76" y="1135.73" width="14.24" height="14.24" fill="#ffdbb7" shape-rendering="crispEdges"/>
<rect x="175.76" y="1149.97" width="14.24" height="14.24" fill="#de2900" shape-rendering="crispEdges"/>
<rect x="175.76" y="1164.21" width="14.24" height="14.24" fill="#ffdbb7" shape-rendering="crispEdges"/>
<rect x="218.48" y="1135.73" width="14.24" height="14.24" fill="#ff6b00" shape-rendering="crispEdges"/>
<rect x="218.48" y="1149.97" width="14.24" height="14.24" fill="#8e0000" shape-rendering="crispEdges"/>
<rect x="218.48" y="1192.69" width="14.24" height="14.24" fill="#de2900" shape-rendering="crispEdges"/>
<rect x="218.48" y="1206.93" width="14.24" height="14.24" fill="#a40000" shape-rendering="crispEdges"/>
<rect x="218.48" y="1249.65" width="14.24" height="14.24" fill="#ffe0c0" shape-rendering="crispEdges"/>
<rect x="232.72" y="1107.25" width="14.24" height="14.24" fill="#ffecd9" shape-rendering="crispEdges"/>
<rect x="232.72" y="1121.49" width="14.24" height="14.24" fill="#ffd7ae" shape-rendering="crispEdges"/>
<rect x="232.72" y="1135.73" width="14.24" height="14.24" fill="#bf0000" shape-rendering="crispEdges"/>
<rect x="232.72" y="1149.97" width="14.24" height="14.24" fill="#bf0000" shape-rendering="crispEdges"/>
<rect x="232.72" y="1164.21" width="14.24" height="14.24" fill="#fff7f0" shape-rendering="crispEdges"/>
<rect x="232.72" y="1192.69" width="14.24" height="14.24" fill="#fffbf7" shape-rendering="crispEdges"/>
<rect x="275.44" y="1135.73" width="14.24" height="14.24" fill="#ff7a00" shape-rendering="crispEdges"/>
<rect x="275.44" y="1149.97" width="14.24" height="14.24" fill="#ffe4c9" shape-rendering="crispEdges"/>
<rect x="275.44" y="1192.69" width="14.24" height="14.24" fill="#cf1400" shape-rendering="crispEdges"/>
<rect x="289.68" y="1135.73" width="14.24" height="14.24" fill="#ff7a00" shape-rendering="crispEdges"/>
<rect x="289.68" y="1149.97" width="14.24" height="14.24" fill="#fff4e8" shape-rendering="crispEdges"/>
<rect x="289.68" y="1192.69" width="14.24" height="14.24" fill="#ff8a14" shape-rendering="crispEdges"/>
<rect x="318.16" y="1192.69" width="14.24" height="14.24" fill="#ffc78f" shape-rendering="crispEdges"/>
<rect x="332.40" y="1135.73" width="14.24" height="14.24" fill="#fff4e8" shape-rendering="crispEdges"/>
<rect x="332.40" y="1178.45" width="14.24" height="14.24" fill="#ffc78f" shape-rendering="crispEdges"/>
<rect x="332.40" y="1192.69" width="14.24" height="14.24" fill="#7a0000" shape-rendering="crispEdges"/>
<rect x="332.40" y="1235.41" width="14.24" height="14.24" fill="#ff9e3d" shape-rendering="crispEdges"/>
<rect x="332.40" y="1249.65" width="14.24" height="14.24" fill="#ff9e3d" shape-rendering="crispEdges"/>
<rect x="346.64" y="1178.45" width="14.24" height="14.24" fill="#ffc78f" shape-rendering="crispEdges"/>
<rect x="346.64" y="1192.69" width="14.24" height="14.24" fill="#ffbd7a" shape-rendering="crispEdges"/>
<rect x="346.64" y="1249.65" width="14.24" height="14.24" fill="#ffc78f" shape-rendering="crispEdges"/>
<rect x="360.88" y="1178.45" width="14.24" height="14.24" fill="#ffb870" shape-rendering="crispEdges"/>
<rect x="360.88" y="1235.41" width="14.24" height="14.24" fill="#ffc78f" shape-rendering="crispEdges"/>
<rect x="375.12" y="1178.45" width="14.24" height="14.24" fill="#fffbf7" shape-rendering="crispEdges"/>
<rect x="375.12" y="1192.69" width="14.24" height="14.24" fill="#ffdbb7" shape-rendering="crispEdges"/>
<rect x="446.32" y="1235.41" width="14.24" height="14.24" fill="#ffe0c0" shape-rendering="crispEdges"/>
<rect x="503.28" y="1235.41" width="14.24" height="14.24" fill="#ffd7ae" shape-rendering="crispEdges"/>
<rect x="503.28" y="1249.65" width="14.24" height="14.24" fill="#ff9e3d" shape-rendering="crispEdges"/>
<rect x="546.00" y="1135.73" width="14.24" height="14.24" fill="#ffecd9" shape-rendering="crispEdges"/>
<rect x="546.00" y="1149.97" width="14.24" height="14.24" fill="#fffbf7" shape-rendering="crispEdges"/>
<rect x="546.00" y="1192.69" width="14.24" height="14.24" fill="#bf0000" shape-rendering="crispEdges"/>
<rect x="546.00" y="1206.93" width="14.24" height="14.24" fill="#ff8f1f" shape-rendering="crispEdges"/>
<rect x="546.00" y="1235.41" width="14.24" height="14.24" fill="#ffc285" shape-rendering="crispEdges"/>
<rect x="546.00" y="1249.65" width="14.24" height="14.24" fill="#b00000" shape-rendering="crispEdges"/>
<rect x="560.24" y="1192.69" width="14.24" height="14.24" fill="#fff7f0" shape-rendering="crispEdges"/>
<rect x="560.24" y="1235.41" width="14.24" height="14.24" fill="#ffecd9" shape-rendering="crispEdges"/>
<rect x="560.24" y="1249.65" width="14.24" height="14.24" fill="#f54700" shape-rendering="crispEdges"/>
<rect x="602.96" y="1135.73" width="14.24" height="14.24" fill="#fff4e8" shape-rendering="crispEdges"/>
<rect x="602.96" y="1149.97" width="14.24" height="14.24" fill="#fff4e8" shape-rendering="crispEdges"/>
<rect x="602.96" y="1192.69" width="14.24" height="14.24" fill="#ffe0c0" shape-rendering="crispEdges"/>
<rect x="602.96" y="1206.93" width="14.24" height="14.24" fill="#ffcc99" shape-rendering="crispEdges"/>
<rect x="602.96" y="1249.65" width="14.24" height="14.24" fill="#ff6100" shape-rendering="crispEdges"/>
<rect x="617.20" y="1249.65" width="14.24" height="14.24" fill="#ffe0c0" shape-rendering="crispEdges"/>
<rect x="645.68" y="1107.25" width="14.24" height="14.24" fill="#fff4e8" shape-rendering="crispEdges"/>
<rect x="645.68" y="1135.73" width="14.24" height="14.24" fill="#ffcc99" shape-rendering="crispEdges"/>
<rect x="645.68" y="1149.97" width="14.24" height="14.24" fill="#bf0000" shape-rendering="crispEdges"/>
<rect x="645.68" y="1164.21" width="14.24" height="14.24" fill="#fff4e8" shape-rendering="crispEdges"/>
<rect x="645.68" y="1192.69" width="14.24" height="14.24" fill="#ffe0c0" shape-rendering="crispEdges"/>
<rect x="645.68" y="1206.93" width="14.24" height="14.24" fill="#ff7000" shape-rendering="crispEdges"/>
<rect x="659.92" y="1135.73" width="14.24" height="14.24" fill="#fff4e8" shape-rendering="crispEdges"/>
<rect x="659.92" y="1149.97" width="14.24" height="14.24" fill="#ffe0c0" shape-rendering="crispEdges"/>
<rect x="659.92" y="1192.69" width="14.24" height="14.24" fill="#ffe0c0" shape-rendering="crispEdges"/>
<rect x="659.92" y="1206.93" width="14.24" height="14.24" fill="#ff6100" shape-rendering="crispEdges"/>
<rect x="659.92" y="1249.65" width="14.24" height="14.24" fill="#fffbf7" shape-rendering="crispEdges"/>
<rect x="702.64" y="1135.73" width="14.24" height="14.24" fill="#ffecd9" shape-rendering="crispEdges"/>
<rect x="702.64" y="1149.97" width="14.24" height="14.24" fill="#ffc285" shape-rendering="crispEdges"/>
<rect x="702.64" y="1192.69" width="14.24" height="14.24" fill="#ffecd9" shape-rendering="crispEdges"/>
<line x1="330.98" y1="1107.25" x2="330.98" y2="1263.89" stroke="#0568ae" stroke-width="3.4" stroke-dasharray="11.1 4.6" stroke-dashoffset="9.30"/>
<line x1="373.70" y1="1107.25" x2="373.70" y2="1263.89" stroke="#0568ae" stroke-width="3.4" stroke-dasharray="11.1 4.6" stroke-dashoffset="9.30"/>
<rect x="118.80" y="1107.25" width="598.08" height="156.64" fill="none" stroke="#000" stroke-width="1.55"/>
<line x1="125.92" y1="1263.89" x2="125.92" y2="1270.69" stroke="#000" stroke-width="1.55"/>
<text transform="translate(125.92 1295.45) scale(1 1.04)" font-size="23.4" text-anchor="middle" fill="#000" stroke="#000" stroke-width="0.25">16</text>
<line x1="197.12" y1="1263.89" x2="197.12" y2="1270.69" stroke="#000" stroke-width="1.55"/>
<text transform="translate(197.12 1295.45) scale(1 1.04)" font-size="23.4" text-anchor="middle" fill="#000" stroke="#000" stroke-width="0.25">21</text>
<line x1="268.32" y1="1263.89" x2="268.32" y2="1270.69" stroke="#000" stroke-width="1.55"/>
<text transform="translate(268.32 1295.45) scale(1 1.04)" font-size="23.4" text-anchor="middle" fill="#000" stroke="#000" stroke-width="0.25">26</text>
<line x1="339.52" y1="1263.89" x2="339.52" y2="1270.69" stroke="#000" stroke-width="1.55"/>
<text transform="translate(339.52 1295.45) scale(1 1.04)" font-size="23.4" text-anchor="middle" fill="#000" stroke="#000" stroke-width="0.25">31</text>
<line x1="410.72" y1="1263.89" x2="410.72" y2="1270.69" stroke="#000" stroke-width="1.55"/>
<text transform="translate(410.72 1295.45) scale(1 1.04)" font-size="23.4" text-anchor="middle" fill="#000" stroke="#000" stroke-width="0.25">36</text>
<line x1="481.92" y1="1263.89" x2="481.92" y2="1270.69" stroke="#000" stroke-width="1.55"/>
<text transform="translate(481.92 1295.45) scale(1 1.04)" font-size="23.4" text-anchor="middle" fill="#000" stroke="#000" stroke-width="0.25">41</text>
<line x1="553.12" y1="1263.89" x2="553.12" y2="1270.69" stroke="#000" stroke-width="1.55"/>
<text transform="translate(553.12 1295.45) scale(1 1.04)" font-size="23.4" text-anchor="middle" fill="#000" stroke="#000" stroke-width="0.25">46</text>
<line x1="624.32" y1="1263.89" x2="624.32" y2="1270.69" stroke="#000" stroke-width="1.55"/>
<text transform="translate(624.32 1295.45) scale(1 1.04)" font-size="23.4" text-anchor="middle" fill="#000" stroke="#000" stroke-width="0.25">51</text>
<line x1="695.52" y1="1263.89" x2="695.52" y2="1270.69" stroke="#000" stroke-width="1.55"/>
<text transform="translate(695.52 1295.45) scale(1 1.04)" font-size="23.4" text-anchor="middle" fill="#000" stroke="#000" stroke-width="0.25">56</text>
<line x1="112.00" y1="1256.77" x2="118.80" y2="1256.77" stroke="#000" stroke-width="1.55"/>
<text transform="translate(104.90 1265.77) scale(1 1.04)" font-size="23.4" text-anchor="end" fill="#000" stroke="#000" stroke-width="0.25">96</text>
<line x1="112.00" y1="1228.29" x2="118.80" y2="1228.29" stroke="#000" stroke-width="1.55"/>
<text transform="translate(104.90 1237.29) scale(1 1.04)" font-size="23.4" text-anchor="end" fill="#000" stroke="#000" stroke-width="0.25">98</text>
<line x1="112.00" y1="1199.81" x2="118.80" y2="1199.81" stroke="#000" stroke-width="1.55"/>
<text transform="translate(104.90 1208.81) scale(1 1.04)" font-size="23.4" text-anchor="end" fill="#000" stroke="#000" stroke-width="0.25">100</text>
<line x1="112.00" y1="1171.33" x2="118.80" y2="1171.33" stroke="#000" stroke-width="1.55"/>
<text transform="translate(104.90 1180.33) scale(1 1.04)" font-size="23.4" text-anchor="end" fill="#000" stroke="#000" stroke-width="0.25">102</text>
<line x1="112.00" y1="1142.85" x2="118.80" y2="1142.85" stroke="#000" stroke-width="1.55"/>
<text transform="translate(104.90 1151.85) scale(1 1.04)" font-size="23.4" text-anchor="end" fill="#000" stroke="#000" stroke-width="0.25">104</text>
<line x1="112.00" y1="1114.37" x2="118.80" y2="1114.37" stroke="#000" stroke-width="1.55"/>
<text transform="translate(104.90 1123.37) scale(1 1.04)" font-size="23.4" text-anchor="end" fill="#000" stroke="#000" stroke-width="0.25">106</text>
<text transform="translate(0.00 1077.95) scale(1 1.04)" font-size="22.6" text-anchor="start" fill="#000" stroke="#000" stroke-width="0.25">d)</text>
<text transform="translate(417.80 1068.75) scale(1 1.04)" font-size="23.4" text-anchor="middle" fill="#000" stroke="#000" stroke-width="0.25">&#916;S/T DNAJB6b</text>
<text transform="translate(352.60 1099.65) scale(1 1.04)" font-size="23.4" text-anchor="middle" fill="#0568ae" stroke="#0568ae" stroke-width="0.25">HPD</text>
<text transform="translate(417.80 1326.55) scale(1 1.04)" font-size="23.4" text-anchor="middle" fill="#000" stroke="#000" stroke-width="0.25">Residues of helix 2 - 3</text>
<text transform="translate(21.70 1188.25) rotate(-90) scale(1 1.04)" font-size="23.4" text-anchor="middle" fill="#000" stroke="#000" stroke-width="0.25">Residues of</text>
<text transform="translate(48.10 1182.25) rotate(-90) scale(1 1.04)" font-size="23.4" text-anchor="middle" fill="#000" stroke="#000" stroke-width="0.25">helix 5</text>
<line x1="118.80" y1="1194.25" x2="139.8" y2="1194.25" stroke="#03523f" stroke-width="3.3"/>
<line x1="118.80" y1="1237.35" x2="139.8" y2="1237.35" stroke="#03523f" stroke-width="3.3"/>
<line x1="132.8" y1="1199.25" x2="132.8" y2="1231.25" stroke="#03523f" stroke-width="2.0"/>
<path d="M132.8 1192.75 L128.4 1200.85 L137.2 1200.85 Z" fill="#03523f"/>
<path d="M132.8 1236.75 L128.4 1229.25 L137.2 1229.25 Z" fill="#03523f"/>
<text transform="translate(160.60 1211.25) rotate(-90) scale(1 1.04)" font-size="23.4" text-anchor="middle" fill="#03523f" stroke="#03523f" stroke-width="0.25">DVF</text>
<rect x="724.20" y="1107.25" width="30.40" height="156.64" fill="url(#ghr)" stroke="#000" stroke-width="1.55"/>
<line x1="754.60" y1="1263.89" x2="761.40" y2="1263.89" stroke="#000" stroke-width="1.55"/>
<text transform="translate(768.90 1271.89) scale(1 1.04)" font-size="19.9" text-anchor="start" fill="#000" stroke="#000" stroke-width="0.25">0</text>
<line x1="754.60" y1="1224.73" x2="761.40" y2="1224.73" stroke="#000" stroke-width="1.55"/>
<text transform="translate(768.90 1232.73) scale(1 1.04)" font-size="19.9" text-anchor="start" fill="#000" stroke="#000" stroke-width="0.25">25</text>
<line x1="754.60" y1="1185.57" x2="761.40" y2="1185.57" stroke="#000" stroke-width="1.55"/>
<text transform="translate(768.90 1193.57) scale(1 1.04)" font-size="19.9" text-anchor="start" fill="#000" stroke="#000" stroke-width="0.25">50</text>
<line x1="754.60" y1="1146.41" x2="761.40" y2="1146.41" stroke="#000" stroke-width="1.55"/>
<text transform="translate(768.90 1154.41) scale(1 1.04)" font-size="19.9" text-anchor="start" fill="#000" stroke="#000" stroke-width="0.25">75</text>
<line x1="754.60" y1="1107.25" x2="761.40" y2="1107.25" stroke="#000" stroke-width="1.55"/>
<text transform="translate(768.90 1115.25) scale(1 1.04)" font-size="19.9" text-anchor="start" fill="#000" stroke="#000" stroke-width="0.25">100</text>
<text transform="translate(831.00 1189.05) rotate(-90) scale(1 1.04)" font-size="23.4" text-anchor="middle" fill="#000" stroke="#000" stroke-width="0.25">Contact</text>
<text transform="translate(857.20 1180.25) rotate(-90) scale(1 1.04)" font-size="23.4" text-anchor="middle" fill="#000" stroke="#000" stroke-width="0.25">persistence (%)</text>
<rect x="1059.52" y="1158.57" width="18.14" height="18.14" fill="#ffecd9" shape-rendering="crispEdges"/>
<rect x="1113.94" y="1158.57" width="18.14" height="18.14" fill="#ffbd7a" shape-rendering="crispEdges"/>
<rect x="1113.94" y="1212.99" width="18.14" height="18.14" fill="#fff4e8" shape-rendering="crispEdges"/>
<rect x="1132.08" y="1140.43" width="18.14" height="18.14" fill="#fff4e8" shape-rendering="crispEdges"/>
<rect x="1132.08" y="1158.57" width="18.14" height="18.14" fill="#ffbd7a" shape-rendering="crispEdges"/>
<rect x="1150.22" y="1212.99" width="18.14" height="18.14" fill="#fff7f0" shape-rendering="crispEdges"/>
<rect x="1168.36" y="1212.99" width="18.14" height="18.14" fill="#ffe4c9" shape-rendering="crispEdges"/>
<rect x="1186.50" y="1212.99" width="18.14" height="18.14" fill="#fffbf7" shape-rendering="crispEdges"/>
<rect x="1204.64" y="1104.15" width="18.14" height="18.14" fill="#fffbf7" shape-rendering="crispEdges"/>
<rect x="1204.64" y="1212.99" width="18.14" height="18.14" fill="#fff7f0" shape-rendering="crispEdges"/>
<rect x="1313.48" y="1194.85" width="18.14" height="18.14" fill="#ffecd9" shape-rendering="crispEdges"/>
<rect x="1313.48" y="1249.27" width="18.14" height="18.14" fill="#ffecd9" shape-rendering="crispEdges"/>
<rect x="1367.90" y="1194.85" width="18.14" height="18.14" fill="#fff7f0" shape-rendering="crispEdges"/>
<rect x="1367.90" y="1249.27" width="18.14" height="18.14" fill="#ffbd7a" shape-rendering="crispEdges"/>
<rect x="1386.04" y="1176.71" width="18.14" height="18.14" fill="#ffbd7a" shape-rendering="crispEdges"/>
<rect x="1386.04" y="1194.85" width="18.14" height="18.14" fill="#ffbd7a" shape-rendering="crispEdges"/>
<rect x="1386.04" y="1212.99" width="18.14" height="18.14" fill="#fffbf7" shape-rendering="crispEdges"/>
<rect x="1386.04" y="1249.27" width="18.14" height="18.14" fill="#ffad5c" shape-rendering="crispEdges"/>
<rect x="1404.18" y="1212.99" width="18.14" height="18.14" fill="#fff4e8" shape-rendering="crispEdges"/>
<rect x="1440.46" y="1194.85" width="18.14" height="18.14" fill="#fff7f0" shape-rendering="crispEdges"/>
<rect x="1440.46" y="1212.99" width="18.14" height="18.14" fill="#ffecd9" shape-rendering="crispEdges"/>
<rect x="1440.46" y="1231.13" width="18.14" height="18.14" fill="#ffc78f" shape-rendering="crispEdges"/>
<rect x="1440.46" y="1249.27" width="18.14" height="18.14" fill="#ffad5c" shape-rendering="crispEdges"/>
<rect x="1458.60" y="1194.85" width="18.14" height="18.14" fill="#fff4e8" shape-rendering="crispEdges"/>
<rect x="1458.60" y="1212.99" width="18.14" height="18.14" fill="#ffe4c9" shape-rendering="crispEdges"/>
<rect x="1458.60" y="1231.13" width="18.14" height="18.14" fill="#fffbf7" shape-rendering="crispEdges"/>
<rect x="1458.60" y="1249.27" width="18.14" height="18.14" fill="#ffa852" shape-rendering="crispEdges"/>
<rect x="1476.74" y="1176.71" width="18.14" height="18.14" fill="#ffd7ae" shape-rendering="crispEdges"/>
<rect x="1476.74" y="1212.99" width="18.14" height="18.14" fill="#fff0e0" shape-rendering="crispEdges"/>
<rect x="1513.02" y="1158.57" width="18.14" height="18.14" fill="#fffbf7" shape-rendering="crispEdges"/>
<rect x="1513.02" y="1212.99" width="18.14" height="18.14" fill="#fff0e0" shape-rendering="crispEdges"/>
<rect x="1531.16" y="1158.57" width="18.14" height="18.14" fill="#fffbf7" shape-rendering="crispEdges"/>
<rect x="1531.16" y="1176.71" width="18.14" height="18.14" fill="#ffc285" shape-rendering="crispEdges"/>
<rect x="1531.16" y="1194.85" width="18.14" height="18.14" fill="#ffe4c9" shape-rendering="crispEdges"/>
<rect x="1531.16" y="1212.99" width="18.14" height="18.14" fill="#fff7f0" shape-rendering="crispEdges"/>
<rect x="1531.16" y="1249.27" width="18.14" height="18.14" fill="#fffbf7" shape-rendering="crispEdges"/>
<rect x="1549.30" y="1104.15" width="18.14" height="18.14" fill="#fff7f0" shape-rendering="crispEdges"/>
<rect x="1549.30" y="1122.29" width="18.14" height="18.14" fill="#ffc78f" shape-rendering="crispEdges"/>
<rect x="1549.30" y="1140.43" width="18.14" height="18.14" fill="#ffcc99" shape-rendering="crispEdges"/>
<rect x="1549.30" y="1176.71" width="18.14" height="18.14" fill="#ffc285" shape-rendering="crispEdges"/>
<rect x="1005.10" y="1104.15" width="598.62" height="163.26" fill="none" stroke="#000" stroke-width="1.55"/>
<line x1="1014.17" y1="1267.41" x2="1014.17" y2="1274.21" stroke="#000" stroke-width="1.55"/>
<text transform="translate(1014.17 1298.95) scale(1 1.04)" font-size="23.4" text-anchor="middle" fill="#000" stroke="#000" stroke-width="0.25">1</text>
<line x1="1104.87" y1="1267.41" x2="1104.87" y2="1274.21" stroke="#000" stroke-width="1.55"/>
<text transform="translate(1104.87 1298.95) scale(1 1.04)" font-size="23.4" text-anchor="middle" fill="#000" stroke="#000" stroke-width="0.25">6</text>
<line x1="1195.57" y1="1267.41" x2="1195.57" y2="1274.21" stroke="#000" stroke-width="1.55"/>
<text transform="translate(1195.57 1298.95) scale(1 1.04)" font-size="23.4" text-anchor="middle" fill="#000" stroke="#000" stroke-width="0.25">11</text>
<line x1="1286.27" y1="1267.41" x2="1286.27" y2="1274.21" stroke="#000" stroke-width="1.55"/>
<text transform="translate(1286.27 1298.95) scale(1 1.04)" font-size="23.4" text-anchor="middle" fill="#000" stroke="#000" stroke-width="0.25">16</text>
<line x1="1376.97" y1="1267.41" x2="1376.97" y2="1274.21" stroke="#000" stroke-width="1.55"/>
<text transform="translate(1376.97 1298.95) scale(1 1.04)" font-size="23.4" text-anchor="middle" fill="#000" stroke="#000" stroke-width="0.25">21</text>
<line x1="1467.67" y1="1267.41" x2="1467.67" y2="1274.21" stroke="#000" stroke-width="1.55"/>
<text transform="translate(1467.67 1298.95) scale(1 1.04)" font-size="23.4" text-anchor="middle" fill="#000" stroke="#000" stroke-width="0.25">26</text>
<line x1="1558.37" y1="1267.41" x2="1558.37" y2="1274.21" stroke="#000" stroke-width="1.55"/>
<text transform="translate(1558.37 1298.95) scale(1 1.04)" font-size="23.4" text-anchor="middle" fill="#000" stroke="#000" stroke-width="0.25">31</text>
<line x1="998.30" y1="1258.34" x2="1005.10" y2="1258.34" stroke="#000" stroke-width="1.55"/>
<text transform="translate(991.60 1267.64) scale(1 1.04)" font-size="23.4" text-anchor="end" fill="#000" stroke="#000" stroke-width="0.25">118</text>
<line x1="998.30" y1="1222.06" x2="1005.10" y2="1222.06" stroke="#000" stroke-width="1.55"/>
<text transform="translate(991.60 1231.36) scale(1 1.04)" font-size="23.4" text-anchor="end" fill="#000" stroke="#000" stroke-width="0.25">120</text>
<line x1="998.30" y1="1185.78" x2="1005.10" y2="1185.78" stroke="#000" stroke-width="1.55"/>
<text transform="translate(991.60 1195.08) scale(1 1.04)" font-size="23.4" text-anchor="end" fill="#000" stroke="#000" stroke-width="0.25">122</text>
<line x1="998.30" y1="1149.50" x2="1005.10" y2="1149.50" stroke="#000" stroke-width="1.55"/>
<text transform="translate(991.60 1158.80) scale(1 1.04)" font-size="23.4" text-anchor="end" fill="#000" stroke="#000" stroke-width="0.25">124</text>
<line x1="998.30" y1="1113.22" x2="1005.10" y2="1113.22" stroke="#000" stroke-width="1.55"/>
<text transform="translate(991.60 1122.52) scale(1 1.04)" font-size="23.4" text-anchor="end" fill="#000" stroke="#000" stroke-width="0.25">126</text>
<text transform="translate(885.50 1073.05) scale(1 1.04)" font-size="22.6" text-anchor="start" fill="#000" stroke="#000" stroke-width="0.25">h)</text>
<text transform="translate(1304.40 1092.55) scale(1 1.04)" font-size="23.4" text-anchor="middle" fill="#000" stroke="#000" stroke-width="0.25">&#916;S/T DNAJB6b</text>
<text transform="translate(1304.40 1329.05) scale(1 1.04)" font-size="23.4" text-anchor="middle" fill="#000" stroke="#000" stroke-width="0.25">Residue</text>
<text transform="translate(935.30 1185.55) rotate(-90) scale(1 1.04)" font-size="23.4" text-anchor="middle" fill="#000" stroke="#000" stroke-width="0.25">Residue</text>
<rect x="1611.40" y="1104.15" width="29.90" height="163.26" fill="url(#ghr)" stroke="#000" stroke-width="1.55"/>
<line x1="1641.30" y1="1267.41" x2="1648.10" y2="1267.41" stroke="#000" stroke-width="1.55"/>
<text transform="translate(1654.60 1275.41) scale(1 1.04)" font-size="19.9" text-anchor="start" fill="#000" stroke="#000" stroke-width="0.25">0</text>
<line x1="1641.30" y1="1226.60" x2="1648.10" y2="1226.60" stroke="#000" stroke-width="1.55"/>
<text transform="translate(1654.60 1234.60) scale(1 1.04)" font-size="19.9" text-anchor="start" fill="#000" stroke="#000" stroke-width="0.25">25</text>
<line x1="1641.30" y1="1185.78" x2="1648.10" y2="1185.78" stroke="#000" stroke-width="1.55"/>
<text transform="translate(1654.60 1193.78) scale(1 1.04)" font-size="19.9" text-anchor="start" fill="#000" stroke="#000" stroke-width="0.25">50</text>
<line x1="1641.30" y1="1144.97" x2="1648.10" y2="1144.97" stroke="#000" stroke-width="1.55"/>
<text transform="translate(1654.60 1152.97) scale(1 1.04)" font-size="19.9" text-anchor="start" fill="#000" stroke="#000" stroke-width="0.25">75</text>
<line x1="1641.30" y1="1104.15" x2="1648.10" y2="1104.15" stroke="#000" stroke-width="1.55"/>
<text transform="translate(1654.60 1112.15) scale(1 1.04)" font-size="19.9" text-anchor="start" fill="#000" stroke="#000" stroke-width="0.25">100</text>
<text transform="translate(1717.00 1189.05) rotate(-90) scale(1 1.04)" font-size="23.4" text-anchor="middle" fill="#000" stroke="#000" stroke-width="0.25">Contact</text>
<text transform="translate(1743.20 1180.25) rotate(-90) scale(1 1.04)" font-size="23.4" text-anchor="middle" fill="#000" stroke="#000" stroke-width="0.25">persistence (%)</text>
<text transform="translate(125.60 1952.60) scale(1 1.04)" font-size="22.4" text-anchor="start" fill="#000" stroke="#000" stroke-width="0.25">j)</text>
<rect x="200.10" y="2188.72" width="24.90" height="198.18" fill="#358cc8"/>
<rect x="224.85" y="2175.14" width="24.90" height="211.76" fill="#e27448"/>
<rect x="249.60" y="2212.36" width="24.90" height="174.54" fill="#f1bf4f"/>
<rect x="324.15" y="2251.09" width="24.90" height="135.81" fill="#358cc8"/>
<rect x="348.90" y="2215.38" width="24.90" height="171.52" fill="#e27448"/>
<rect x="373.65" y="2219.90" width="24.90" height="167.00" fill="#f1bf4f"/>
<rect x="448.20" y="2326.04" width="24.90" height="60.86" fill="#358cc8"/>
<rect x="472.95" y="2337.10" width="24.90" height="49.80" fill="#e27448"/>
<rect x="497.70" y="2335.09" width="24.90" height="51.81" fill="#f1bf4f"/>
<rect x="572.25" y="2382.88" width="24.90" height="4.02" fill="#358cc8"/>
<rect x="597.00" y="2372.31" width="24.90" height="14.59" fill="#e27448"/>
<rect x="621.75" y="2348.17" width="24.90" height="38.73" fill="#f1bf4f"/>
<rect x="696.30" y="2126.85" width="24.90" height="260.05" fill="#358cc8"/>
<rect x="721.05" y="2078.56" width="24.90" height="308.34" fill="#e27448"/>
<rect x="745.80" y="2047.38" width="24.90" height="339.52" fill="#f1bf4f"/>
<rect x="171.60" y="1984.50" width="627.40" height="402.40" fill="none" stroke="#000" stroke-width="1.55"/>
<line x1="165.00" y1="2386.90" x2="171.60" y2="2386.90" stroke="#000" stroke-width="1.55"/>
<text transform="translate(158.30 2395.30) scale(1 1.04)" font-size="22.4" text-anchor="end" fill="#000" stroke="#000" stroke-width="0.25">0</text>
<line x1="165.00" y1="2286.30" x2="171.60" y2="2286.30" stroke="#000" stroke-width="1.55"/>
<text transform="translate(158.30 2294.70) scale(1 1.04)" font-size="22.4" text-anchor="end" fill="#000" stroke="#000" stroke-width="0.25">2</text>
<line x1="165.00" y1="2185.70" x2="171.60" y2="2185.70" stroke="#000" stroke-width="1.55"/>
<text transform="translate(158.30 2194.10) scale(1 1.04)" font-size="22.4" text-anchor="end" fill="#000" stroke="#000" stroke-width="0.25">4</text>
<line x1="165.00" y1="2085.10" x2="171.60" y2="2085.10" stroke="#000" stroke-width="1.55"/>
<text transform="translate(158.30 2093.50) scale(1 1.04)" font-size="22.4" text-anchor="end" fill="#000" stroke="#000" stroke-width="0.25">6</text>
<line x1="165.00" y1="1984.50" x2="171.60" y2="1984.50" stroke="#000" stroke-width="1.55"/>
<text transform="translate(158.30 1992.90) scale(1 1.04)" font-size="22.4" text-anchor="end" fill="#000" stroke="#000" stroke-width="0.25">8</text>
<line x1="230.90" y1="2386.90" x2="230.90" y2="2393.50" stroke="#000" stroke-width="1.55"/>
<text transform="translate(230.90 2416.80) scale(1 1.04)" font-size="22.4" text-anchor="middle" fill="#000" stroke="#000" stroke-width="0.25">aromatic</text>
<text transform="translate(230.90 2442.10) scale(1 1.04)" font-size="22.4" text-anchor="middle" fill="#000" stroke="#000" stroke-width="0.25">hydrophobic</text>
<line x1="354.70" y1="2386.90" x2="354.70" y2="2393.50" stroke="#000" stroke-width="1.55"/>
<text transform="translate(354.70 2416.80) scale(1 1.04)" font-size="22.4" text-anchor="middle" fill="#000" stroke="#000" stroke-width="0.25">cation&#8722;<tspan font-style="italic">&#960;</tspan></text>
<line x1="478.40" y1="2386.90" x2="478.40" y2="2393.50" stroke="#000" stroke-width="1.55"/>
<text transform="translate(478.40 2416.80) scale(1 1.04)" font-size="22.4" text-anchor="middle" fill="#000" stroke="#000" stroke-width="0.25">electro-</text>
<text transform="translate(478.40 2442.10) scale(1 1.04)" font-size="22.4" text-anchor="middle" fill="#000" stroke="#000" stroke-width="0.25">static</text>
<line x1="602.90" y1="2386.90" x2="602.90" y2="2393.50" stroke="#000" stroke-width="1.55"/>
<text transform="translate(602.90 2416.80) scale(1 1.04)" font-size="22.4" text-anchor="middle" fill="#000" stroke="#000" stroke-width="0.25">aliphatic</text>
<text transform="translate(602.90 2442.10) scale(1 1.04)" font-size="22.4" text-anchor="middle" fill="#000" stroke="#000" stroke-width="0.25">hydrophobic</text>
<line x1="732.90" y1="2386.90" x2="732.90" y2="2393.50" stroke="#000" stroke-width="1.55"/>
<text transform="translate(729.40 2416.80) scale(1 1.04)" font-size="22.4" text-anchor="middle" fill="#000" stroke="#000" stroke-width="0.25">aliphatic -</text>
<text transform="translate(732.60 2442.10) scale(1 1.04)" font-size="22.4" text-anchor="middle" fill="#000" stroke="#000" stroke-width="0.25">aromatic</text>
<text transform="translate(736.80 2467.40) scale(1 1.04)" font-size="22.4" text-anchor="middle" fill="#000" stroke="#000" stroke-width="0.25">hydrophobic</text>
<text transform="translate(485.30 1973.30) scale(1 1.04)" font-size="22.4" text-anchor="middle" fill="#000" stroke="#000" stroke-width="0.25">Anchor region 1</text>
<text transform="translate(132.50 2185.70) rotate(-90) scale(1 1.04)" font-size="22.4" text-anchor="middle" fill="#000" stroke="#000" stroke-width="0.25">Average number of contacts</text>
<text transform="translate(962.60 1952.60) scale(1 1.04)" font-size="22.4" text-anchor="start" fill="#000" stroke="#000" stroke-width="0.25">k)</text>
<rect x="1063.45" y="2383.38" width="24.90" height="3.52" fill="#e27448"/>
<rect x="1162.75" y="2331.57" width="24.90" height="55.33" fill="#358cc8"/>
<rect x="1187.50" y="2311.95" width="24.90" height="74.95" fill="#e27448"/>
<rect x="1212.25" y="2345.15" width="24.90" height="41.75" fill="#f1bf4f"/>
<rect x="1286.80" y="2359.24" width="24.90" height="27.66" fill="#358cc8"/>
<rect x="1311.55" y="2328.05" width="24.90" height="58.85" fill="#e27448"/>
<rect x="1336.30" y="2347.16" width="24.90" height="39.74" fill="#f1bf4f"/>
<rect x="1534.90" y="2341.63" width="24.90" height="45.27" fill="#358cc8"/>
<rect x="1559.65" y="2201.80" width="24.90" height="185.10" fill="#e27448"/>
<rect x="1584.40" y="2246.56" width="24.90" height="140.34" fill="#f1bf4f"/>
<rect x="1010.20" y="1984.50" width="627.40" height="402.40" fill="none" stroke="#000" stroke-width="1.55"/>
<line x1="1003.60" y1="2386.90" x2="1010.20" y2="2386.90" stroke="#000" stroke-width="1.55"/>
<text transform="translate(996.90 2395.30) scale(1 1.04)" font-size="22.4" text-anchor="end" fill="#000" stroke="#000" stroke-width="0.25">0</text>
<line x1="1003.60" y1="2286.30" x2="1010.20" y2="2286.30" stroke="#000" stroke-width="1.55"/>
<text transform="translate(996.90 2294.70) scale(1 1.04)" font-size="22.4" text-anchor="end" fill="#000" stroke="#000" stroke-width="0.25">2</text>
<line x1="1003.60" y1="2185.70" x2="1010.20" y2="2185.70" stroke="#000" stroke-width="1.55"/>
<text transform="translate(996.90 2194.10) scale(1 1.04)" font-size="22.4" text-anchor="end" fill="#000" stroke="#000" stroke-width="0.25">4</text>
<line x1="1003.60" y1="2085.10" x2="1010.20" y2="2085.10" stroke="#000" stroke-width="1.55"/>
<text transform="translate(996.90 2093.50) scale(1 1.04)" font-size="22.4" text-anchor="end" fill="#000" stroke="#000" stroke-width="0.25">6</text>
<line x1="1003.60" y1="1984.50" x2="1010.20" y2="1984.50" stroke="#000" stroke-width="1.55"/>
<text transform="translate(996.90 1992.90) scale(1 1.04)" font-size="22.4" text-anchor="end" fill="#000" stroke="#000" stroke-width="0.25">8</text>
<line x1="1069.60" y1="2386.90" x2="1069.60" y2="2393.50" stroke="#000" stroke-width="1.55"/>
<text transform="translate(1069.60 2416.80) scale(1 1.04)" font-size="22.4" text-anchor="middle" fill="#000" stroke="#000" stroke-width="0.25">aromatic</text>
<text transform="translate(1069.60 2442.10) scale(1 1.04)" font-size="22.4" text-anchor="middle" fill="#000" stroke="#000" stroke-width="0.25">hydrophobic</text>
<line x1="1193.40" y1="2386.90" x2="1193.40" y2="2393.50" stroke="#000" stroke-width="1.55"/>
<text transform="translate(1193.40 2416.80) scale(1 1.04)" font-size="22.4" text-anchor="middle" fill="#000" stroke="#000" stroke-width="0.25">cation&#8722;<tspan font-style="italic">&#960;</tspan></text>
<line x1="1326.20" y1="2386.90" x2="1326.20" y2="2393.50" stroke="#000" stroke-width="1.55"/>
<text transform="translate(1326.20 2416.80) scale(1 1.04)" font-size="22.4" text-anchor="middle" fill="#000" stroke="#000" stroke-width="0.25">electro-</text>
<text transform="translate(1326.20 2442.10) scale(1 1.04)" font-size="22.4" text-anchor="middle" fill="#000" stroke="#000" stroke-width="0.25">static</text>
<line x1="1441.70" y1="2386.90" x2="1441.70" y2="2393.50" stroke="#000" stroke-width="1.55"/>
<text transform="translate(1441.70 2416.80) scale(1 1.04)" font-size="22.4" text-anchor="middle" fill="#000" stroke="#000" stroke-width="0.25">aliphatic</text>
<text transform="translate(1441.70 2442.10) scale(1 1.04)" font-size="22.4" text-anchor="middle" fill="#000" stroke="#000" stroke-width="0.25">hydrophobic</text>
<line x1="1571.70" y1="2386.90" x2="1571.70" y2="2393.50" stroke="#000" stroke-width="1.55"/>
<text transform="translate(1568.20 2416.80) scale(1 1.04)" font-size="22.4" text-anchor="middle" fill="#000" stroke="#000" stroke-width="0.25">aliphatic -</text>
<text transform="translate(1571.40 2442.10) scale(1 1.04)" font-size="22.4" text-anchor="middle" fill="#000" stroke="#000" stroke-width="0.25">aromatic</text>
<text transform="translate(1575.60 2467.40) scale(1 1.04)" font-size="22.4" text-anchor="middle" fill="#000" stroke="#000" stroke-width="0.25">hydrophobic</text>
<text transform="translate(1323.90 1973.30) scale(1 1.04)" font-size="22.4" text-anchor="middle" fill="#000" stroke="#000" stroke-width="0.25">Anchor region 2</text>
<text transform="translate(971.10 2185.70) rotate(-90) scale(1 1.04)" font-size="22.4" text-anchor="middle" fill="#000" stroke="#000" stroke-width="0.25">Average number of contacts</text>
<rect x="1375.80" y="1995.50" width="251.00" height="105.70" rx="3.5" fill="#fff" fill-opacity="0.8" stroke="#cccccc" stroke-width="1.2"/>
<rect x="1385.1" y="2006.10" width="44.7" height="15.8" fill="#358cc8"/>
<text transform="translate(1448.40 2022.00) scale(1 1.04)" font-size="22.4" text-anchor="start" fill="#000" stroke="#000" stroke-width="0.25">closed state</text>
<rect x="1385.1" y="2038.90" width="44.7" height="15.8" fill="#e27448"/>
<text transform="translate(1448.40 2054.80) scale(1 1.04)" font-size="22.4" text-anchor="start" fill="#000" stroke="#000" stroke-width="0.25">open state</text>
<rect x="1385.1" y="2071.70" width="44.7" height="15.8" fill="#f1bf4f"/>
<text transform="translate(1448.40 2087.60) scale(1 1.04)" font-size="22.4" text-anchor="start" fill="#000" stroke="#000" stroke-width="0.25">extended state</text>
<clipPath id="molclip"><rect x="540" y="1440" width="760" height="404"/></clipPath>
<g clip-path="url(#molclip)">
<g opacity="0.7">
<g fill="#f3a0a0"><polygon points="978.1,1531.4 976.0,1533.8 973.4,1536.2 970.2,1538.7 966.6,1541.2 962.6,1543.8 958.2,1546.4 953.4,1549.0 948.4,1551.7 943.1,1554.4 937.7,1557.1 932.2,1559.8 926.7,1562.5 921.2,1565.2 915.8,1567.9 910.5,1570.6 905.6,1573.2 900.9,1575.8 896.5,1578.4 892.6,1581.0 889.1,1583.5 886.1,1585.9 883.6,1588.3 881.5,1590.7 880.0,1593.0 882.1,1594.9 886.8,1650.0 885.5,1648.0 887.7,1645.6 890.4,1643.2 893.5,1640.7 897.2,1638.2 901.2,1635.7 905.7,1633.1 910.5,1630.4 915.5,1627.8 920.8,1625.1 926.3,1622.4 931.8,1619.7 937.3,1617.0 942.8,1614.3 948.2,1611.6 953.4,1608.9 958.4,1606.3 963.1,1603.6 967.4,1601.0 971.3,1598.5 974.7,1596.0 977.7,1593.5 980.2,1591.1 982.2,1588.7 983.6,1586.4"/><polygon points="987.1,1636.7 984.6,1639.1 981.6,1641.5 978.2,1644.0 974.3,1646.5 970.0,1649.1 965.4,1651.7 960.4,1654.3 955.2,1657.0 949.8,1659.7 944.3,1662.3 938.8,1665.0 933.2,1667.7 927.8,1670.4 922.5,1673.0 917.4,1675.7 912.6,1678.3 908.1,1680.8 904.0,1683.4 900.3,1685.9 897.1,1688.3 894.4,1690.7 892.2,1693.1 890.5,1695.4 891.0,1697.5 895.8,1752.6 895.9,1750.4 898.3,1748.0 901.2,1745.6 904.5,1743.1 908.3,1740.6 912.6,1738.1 917.2,1735.5 922.1,1732.9 927.2,1730.2 932.6,1727.6 938.1,1724.9 943.6,1722.2 949.2,1719.6 954.7,1716.9 960.0,1714.2 965.2,1711.6 970.0,1709.0 974.6,1706.4 978.8,1703.8 982.5,1701.3 985.8,1698.8 988.6,1696.4 991.0,1694.0 992.8,1691.7"/><polygon points="997.6,1739.6 995.3,1742.0 992.5,1744.4 989.2,1746.9 985.5,1749.4 981.3,1751.9 976.8,1754.5 971.9,1757.1 966.8,1759.7 961.5,1762.3 956.0,1765.0 950.9,1770.4 946.3,1778.0 941.7,1785.5 937.1,1793.1 932.7,1800.6 928.1,1805.3 929.0,1810.8 934.5,1810.4 940.7,1812.6 947.1,1814.9 953.6,1817.1 960.0,1819.4 966.0,1819.5 971.3,1816.9 976.3,1814.3 981.1,1811.7 985.5,1809.2 989.6,1806.6 993.2,1804.2 996.3,1801.7 999.0,1799.3 1001.1,1796.9 1002.7,1794.6"/><polygon points="909.8,1530.9 915.6,1529.2 921.5,1524.8 927.4,1520.4 933.3,1516.0 939.0,1513.7 944.7,1515.3 950.0,1516.9 955.1,1518.6 959.8,1520.3 964.1,1522.0 967.9,1523.8 971.3,1525.6 974.1,1527.5 976.5,1529.4 978.1,1531.4 983.6,1586.4 981.3,1584.5 978.3,1582.6 974.8,1580.8 970.8,1579.0 966.4,1577.3 961.6,1575.6 956.5,1574.0 951.0,1572.4 945.4,1570.8 939.5,1569.2 933.6,1563.8 927.6,1556.2 921.6,1548.7 915.7,1541.2 909.9,1536.4"/><polygon points="882.1,1594.9 885.0,1596.8 888.5,1598.6 892.4,1600.4 896.8,1602.1 901.6,1603.8 906.7,1605.5 912.1,1607.1 917.8,1608.7 923.6,1610.3 929.5,1611.9 935.5,1613.5 941.4,1615.1 947.3,1616.7 953.0,1618.3 958.4,1619.9 963.6,1621.6 968.4,1623.3 972.8,1625.0 976.8,1626.8 980.4,1628.7 983.4,1630.5 985.9,1632.5 987.9,1634.4 987.1,1636.7 992.8,1691.7 993.0,1689.5 990.3,1687.6 987.1,1685.7 983.4,1683.9 979.3,1682.1 974.7,1680.4 969.8,1678.7 964.6,1677.0 959.0,1675.4 953.3,1673.8 947.4,1672.2 941.5,1670.6 935.5,1669.0 929.6,1667.4 923.9,1665.8 918.3,1664.2 913.0,1662.6 907.9,1660.9 903.3,1659.2 899.1,1657.4 895.3,1655.6 891.9,1653.8 889.1,1651.9 886.8,1650.0"/><polygon points="891.0,1697.5 893.8,1699.4 897.1,1701.3 900.9,1703.1 905.1,1704.8 909.7,1706.6 914.7,1708.3 920.0,1709.9 925.6,1711.6 931.3,1713.2 937.2,1714.8 943.2,1716.4 949.1,1718.1 955.0,1719.7 960.7,1721.3 966.3,1723.0 971.5,1724.7 976.5,1726.4 981.0,1728.1 985.2,1729.9 988.9,1731.7 992.1,1733.6 994.8,1735.5 997.0,1737.5 997.6,1739.6 1002.7,1794.6 1001.5,1792.6 998.7,1790.7 995.3,1788.8 991.5,1787.0 987.2,1785.2 982.5,1783.5 977.5,1781.8 972.1,1780.1 966.5,1778.5 960.7,1776.8 954.8,1775.2 948.9,1773.6 942.9,1772.0 937.1,1770.3 931.4,1768.7 925.9,1767.0 920.7,1765.4 915.8,1763.7 911.3,1761.9 907.2,1760.1 903.6,1758.3 900.5,1756.4 897.9,1754.5 895.8,1752.6"/></g>
<clipPath id="hx1"><polygon points="911.5,1530.9 916.7,1529.5 922.1,1525.5 927.5,1521.5 932.9,1517.5 938.1,1515.5 943.2,1517.1 948.0,1518.8 952.5,1520.5 956.7,1522.3 960.6,1524.0 964.0,1525.9 967.0,1527.7 969.6,1529.6 971.7,1531.6 973.1,1533.6 978.3,1585.3 976.2,1583.3 973.4,1581.5 970.2,1579.6 966.5,1577.8 962.5,1576.1 958.1,1574.3 953.4,1572.6 948.5,1571.0 943.3,1569.3 938.0,1567.7 932.7,1562.4 927.3,1555.2 922.0,1548.0 916.7,1540.7 911.5,1536.1"/><polygon points="887.2,1596.1 890.0,1598.0 893.2,1599.8 896.8,1601.6 900.8,1603.4 905.1,1605.1 909.8,1606.8 914.7,1608.5 919.9,1610.2 925.1,1611.8 930.5,1613.5 935.9,1615.1 941.3,1616.8 946.5,1618.4 951.6,1620.1 956.6,1621.8 961.2,1623.5 965.5,1625.3 969.5,1627.0 973.1,1628.9 976.2,1630.7 979.0,1632.6 981.2,1634.6 983.0,1636.6 982.2,1638.8 987.6,1690.5 987.7,1688.3 985.2,1686.4 982.3,1684.5 978.9,1682.6 975.1,1680.8 971.0,1679.1 966.5,1677.3 961.7,1675.6 956.7,1674.0 951.5,1672.3 946.2,1670.6 940.8,1669.0 935.4,1667.4 930.1,1665.7 924.9,1664.1 919.8,1662.4 915.0,1660.7 910.5,1659.0 906.4,1657.2 902.6,1655.4 899.2,1653.6 896.2,1651.7 893.7,1649.8 891.7,1647.9"/><polygon points="896.3,1698.7 898.9,1700.6 901.9,1702.5 905.3,1704.3 909.2,1706.1 913.4,1707.9 918.0,1709.6 922.8,1711.3 927.8,1713.0 933.0,1714.7 938.4,1716.4 943.8,1718.1 949.1,1719.7 954.4,1721.4 959.6,1723.1 964.6,1724.8 969.3,1726.5 973.8,1728.3 977.9,1730.1 981.6,1731.9 984.9,1733.8 987.8,1735.7 990.2,1737.6 992.1,1739.6 992.6,1741.7 997.5,1793.4 996.3,1791.4 993.7,1789.5 990.6,1787.6 987.1,1785.7 983.1,1783.9 978.9,1782.1 974.3,1780.4 969.4,1778.7 964.3,1777.0 959.1,1775.3 953.8,1773.6 948.4,1772.0 943.0,1770.3 937.7,1768.6 932.6,1766.9 927.7,1765.2 923.0,1763.5 918.6,1761.7 914.6,1759.9 910.9,1758.1 907.7,1756.3 904.9,1754.4 902.6,1752.4 900.7,1750.4"/></clipPath>
<g fill="#d86060" clip-path="url(#hx1)"><polygon points="973.1,1533.6 971.2,1536.0 968.8,1538.4 965.9,1540.8 962.7,1543.3 959.0,1545.8 955.0,1548.4 950.8,1551.0 946.2,1553.6 941.5,1556.2 936.6,1558.9 931.7,1561.5 926.7,1564.2 921.8,1566.8 916.9,1569.5 912.3,1572.1 907.8,1574.7 903.7,1577.2 899.8,1579.8 896.3,1582.3 893.2,1584.7 890.6,1587.1 888.4,1589.5 886.6,1591.8 885.4,1594.1 887.2,1596.1 891.7,1647.9 890.5,1645.8 892.5,1643.5 894.9,1641.1 897.8,1638.6 901.1,1636.2 904.8,1633.6 908.8,1631.1 913.1,1628.5 917.7,1625.9 922.4,1623.3 927.3,1620.6 932.3,1618.0 937.3,1615.3 942.2,1612.7 947.0,1610.0 951.7,1607.4 956.1,1604.8 960.2,1602.2 964.1,1599.7 967.5,1597.2 970.6,1594.7 973.2,1592.3 975.4,1589.9 977.1,1587.6 978.3,1585.3"/><polygon points="982.2,1638.8 979.9,1641.2 977.2,1643.6 974.1,1646.1 970.6,1648.6 966.7,1651.1 962.5,1653.7 958.0,1656.2 953.4,1658.8 948.5,1661.5 943.6,1664.1 938.6,1666.7 933.6,1669.3 928.7,1671.9 924.0,1674.5 919.5,1677.1 915.2,1679.7 911.2,1682.2 907.6,1684.7 904.3,1687.2 901.5,1689.6 899.1,1692.0 897.2,1694.3 895.7,1696.6 896.3,1698.7 900.7,1750.4 900.9,1748.3 903.0,1745.9 905.6,1743.5 908.7,1741.1 912.2,1738.6 916.0,1736.1 920.1,1733.6 924.5,1731.0 929.2,1728.4 934.0,1725.8 939.0,1723.2 943.9,1720.5 948.9,1717.9 953.8,1715.3 958.6,1712.7 963.2,1710.1 967.5,1707.5 971.6,1705.0 975.3,1702.5 978.6,1700.0 981.5,1697.5 984.0,1695.1 986.0,1692.8 987.6,1690.5"/><polygon points="992.6,1741.7 990.5,1744.1 988.0,1746.5 985.0,1748.9 981.6,1751.4 977.8,1753.9 973.7,1756.4 969.3,1758.9 964.7,1761.5 959.9,1764.1 955.0,1766.7 950.5,1772.0 946.4,1779.2 942.4,1786.4 938.4,1793.5 934.6,1800.7 930.4,1805.3 931.3,1810.4 936.3,1809.9 942.0,1811.9 947.8,1813.9 953.7,1815.9 959.5,1817.9 964.9,1818.0 969.7,1815.4 974.2,1812.8 978.4,1810.3 982.4,1807.8 986.0,1805.3 989.1,1802.8 991.9,1800.4 994.2,1798.1 996.1,1795.7 997.5,1793.4"/></g>
</g>
<path d="M1110 1465 C 1108 1490, 1104 1515, 1085 1533 C 1060 1550, 1010 1548, 990 1530 C 975 1515, 968 1492, 952 1487 C 936 1484, 930 1500, 930 1530" fill="none" stroke="#f4a8a8" stroke-width="9" stroke-linecap="round" stroke-linejoin="round" stroke-opacity="0.85"/>
<path d="M932 1800 C 915 1808, 895 1825, 888 1850" fill="none" stroke="#f4a8a8" stroke-width="9" stroke-linecap="round" stroke-linejoin="round" stroke-opacity="0.85"/>
<path d="M594 1552 C 584 1562, 600 1580, 610 1597 C 616 1612, 600 1628, 580 1641 C 560 1655, 550 1680, 565 1697 C 578 1706, 595 1707, 612 1705" fill="none" stroke="#a8a8f2" stroke-width="10" stroke-linecap="round" stroke-linejoin="round" stroke-opacity="0.9"/>
<path d="M1183 1537 C 1205 1531, 1232 1520, 1255 1522 C 1276 1525, 1276 1546, 1272 1562 C 1264 1600, 1245 1630, 1218 1662" fill="none" stroke="#a8a8f2" stroke-width="9.5" stroke-linecap="round" stroke-linejoin="round" stroke-opacity="0.9"/>
<g opacity="0.75"><path d="M1040 1579 C 1060 1580, 1085 1586, 1102 1592 C 1115 1595, 1135 1594, 1148 1589 L 1163 1583 L 1182 1574 C 1175 1590, 1165 1600, 1157 1606 C 1148 1617, 1140 1628, 1130 1633 C 1120 1634, 1110 1624, 1102 1617 C 1092 1607, 1085 1598, 1078 1595 C 1068 1590, 1055 1590, 1040 1591 Z" fill="#9090e8"/><path d="M1115 1521 C 1122 1505, 1135 1492, 1148 1486 C 1160 1492, 1170 1500, 1176 1512 C 1183 1522, 1186 1540, 1186 1556 C 1186 1564, 1184 1570, 1182 1574 C 1175 1585, 1160 1595, 1147 1604 C 1146 1585, 1146 1560, 1144 1541 C 1136 1533, 1125 1528, 1115 1521 Z" fill="#9090e8"/><path d="M1123 1521 C 1132 1510, 1140 1500, 1149 1494 C 1150 1503, 1152 1514, 1160 1525 C 1168 1533, 1177 1535, 1185 1536 L 1185 1545 C 1175 1544, 1160 1538, 1148 1533 C 1138 1529, 1130 1525, 1123 1521 Z" fill="#4040d3"/><path d="M1146 1606 L1147 1590 L1162 1585 Z" fill="#4040d3"/></g>
<path d="M690 1748 C 682 1760, 672 1771, 655 1777 C 640 1781, 620 1780, 608 1781 C 596 1783, 588 1795, 586 1810 L 584 1850 L 599 1850 L 600 1812 C 602 1806, 606 1802, 612 1801 C 625 1800, 640 1800, 655 1794 C 672 1786, 686 1776, 696 1768 Z" fill="#9090e8" opacity="0.75"/>
<path d="M612 1850 C 620 1832, 640 1826, 655 1826 C 670 1826, 680 1835, 686 1850 Z" fill="#9090e8" opacity="0.75"/>
<g opacity="0.75">
<g fill="#9090e8"><polygon points="593.2,1557.5 593.8,1561.6 591.7,1565.4 589.6,1568.6 587.5,1571.1 585.4,1573.1 583.4,1572.8 635.3,1573.6 628.7,1573.1 622.1,1570.7 615.6,1567.8 609.0,1564.7 602.4,1561.1 598.5,1557.1"/><polygon points="639.5,1475.4 641.8,1477.9 644.0,1481.0 646.2,1484.5 648.5,1488.5 650.6,1492.9 652.8,1497.6 655.0,1502.6 657.1,1507.9 659.3,1513.4 661.4,1519.0 663.5,1524.7 665.6,1530.3 667.7,1535.9 669.8,1541.3 671.9,1546.5 674.0,1551.5 676.1,1556.1 678.3,1560.3 680.4,1564.2 682.5,1567.6 684.7,1570.5 686.9,1572.9 689.0,1574.8 691.3,1574.7 744.1,1577.1 741.9,1576.5 739.7,1573.9 737.6,1570.7 735.4,1567.1 733.3,1563.0 731.2,1558.6 729.1,1553.8 727.0,1548.7 724.9,1543.3 722.8,1537.8 720.7,1532.2 718.6,1526.5 716.5,1520.8 714.4,1515.2 712.3,1509.8 710.1,1504.5 708.0,1499.6 705.8,1495.0 703.6,1490.7 701.4,1486.9 699.1,1483.5 696.9,1480.6 694.6,1478.2 692.3,1476.3"/><polygon points="750.9,1479.0 753.1,1481.6 755.2,1484.8 757.4,1488.3 759.5,1492.4 761.5,1496.8 763.5,1501.6 765.6,1506.7 767.5,1512.1 769.5,1517.6 771.5,1523.3 773.4,1529.0 775.3,1534.7 777.3,1540.3 779.2,1545.8 781.2,1551.1 783.1,1556.1 785.1,1560.8 787.1,1565.1 789.1,1569.0 791.1,1572.5 793.2,1575.5 795.3,1578.0 797.4,1579.9 799.7,1579.9 852.4,1583.9 850.2,1583.2 848.1,1580.5 846.1,1577.3 844.0,1573.6 842.0,1569.5 840.1,1564.9 838.1,1560.1 836.2,1554.9 834.2,1549.5 832.3,1543.9 830.4,1538.2 828.4,1532.4 826.5,1526.7 824.6,1521.1 822.6,1515.6 820.6,1510.3 818.6,1505.3 816.5,1500.6 814.5,1496.3 812.4,1492.4 810.3,1488.9 808.1,1486.0 805.9,1483.5 803.7,1481.6"/><polygon points="862.1,1486.0 864.2,1488.7 866.2,1491.8 868.3,1495.5 870.2,1499.6 872.2,1504.1 874.1,1508.9 875.9,1514.1 877.7,1519.5 879.6,1525.1 881.3,1530.8 883.1,1536.5 884.9,1542.3 886.7,1548.0 888.5,1553.5 890.3,1558.9 892.1,1563.9 893.9,1568.7 895.8,1573.1 897.7,1577.1 899.6,1580.6 901.6,1583.6 903.6,1586.2 905.7,1588.2 908.0,1588.3 960.5,1593.8 958.4,1593.0 956.3,1590.2 954.4,1586.9 952.5,1583.2 950.6,1579.0 948.7,1574.4 946.9,1569.5 945.1,1564.3 943.3,1558.8 941.6,1553.2 939.8,1547.4 938.0,1541.6 936.3,1535.8 934.5,1530.1 932.7,1524.6 930.8,1519.2 929.0,1514.1 927.1,1509.4 925.1,1505.0 923.1,1501.1 921.1,1497.6 919.1,1494.6 917.0,1492.1 914.8,1490.1"/><polygon points="972.9,1496.1 975.0,1498.8 976.9,1502.1 978.8,1505.8 980.7,1509.9 982.5,1514.4 984.3,1519.3 986.0,1524.5 987.7,1530.0 989.3,1535.6 991.0,1541.4 992.6,1547.2 994.2,1553.0 995.8,1558.7 997.5,1564.3 999.1,1569.7 1000.8,1574.8 1002.5,1579.6 1004.3,1584.1 1006.1,1588.1 1007.9,1591.7 1009.8,1594.8 1011.8,1597.4 1013.8,1599.5 1016.5,1599.8 1068.0,1606.5 1066.3,1605.6 1064.4,1602.8 1062.5,1599.5 1060.7,1595.7 1058.9,1591.4 1057.2,1586.8 1055.5,1581.8 1053.8,1576.6 1052.2,1571.0 1050.6,1565.4 1049.0,1559.6 1047.4,1553.7 1045.7,1547.9 1044.1,1542.1 1042.4,1536.5 1040.7,1531.2 1039.0,1526.0 1037.2,1521.3 1035.4,1516.9 1033.6,1512.9 1031.6,1509.3 1029.7,1506.3 1027.6,1503.7 1025.5,1501.7"/><polygon points="583.4,1572.8 585.2,1570.3 587.5,1567.3 589.8,1563.8 592.1,1559.9 594.4,1555.6 596.7,1550.9 599.1,1545.9 601.4,1540.7 603.8,1535.3 606.1,1529.7 608.5,1524.2 610.9,1518.6 613.3,1513.1 615.7,1507.8 618.1,1502.6 620.5,1497.8 622.9,1493.2 625.3,1489.1 627.7,1485.3 630.1,1482.0 632.4,1479.2 634.8,1476.9 637.2,1475.1 639.5,1475.4 692.3,1476.3 690.0,1476.7 687.6,1479.2 685.2,1482.2 682.9,1485.6 680.5,1489.5 678.0,1493.8 675.6,1498.5 673.2,1503.4 670.8,1508.6 668.4,1514.0 666.0,1519.5 663.7,1525.0 661.3,1530.5 658.9,1536.0 656.5,1541.3 654.2,1546.4 651.9,1551.2 649.5,1555.7 647.2,1559.8 644.9,1563.6 642.6,1566.8 640.3,1569.6 638.0,1571.9 635.3,1573.6"/><polygon points="691.3,1574.7 693.7,1572.2 696.1,1569.3 698.5,1565.9 700.9,1562.1 703.4,1557.8 705.8,1553.2 708.3,1548.3 710.8,1543.2 713.4,1537.8 715.9,1532.4 718.5,1526.9 721.0,1521.4 723.6,1516.0 726.1,1510.7 728.7,1505.7 731.2,1500.9 733.8,1496.4 736.3,1492.3 738.8,1488.6 741.3,1485.4 743.8,1482.7 746.2,1480.4 748.6,1478.7 750.9,1479.0 803.7,1481.6 801.4,1482.0 798.9,1484.4 796.4,1487.3 793.9,1490.7 791.4,1494.5 788.9,1498.7 786.3,1503.3 783.8,1508.1 781.2,1513.3 778.7,1518.6 776.1,1524.0 773.5,1529.5 771.0,1534.9 768.4,1540.3 765.9,1545.5 763.4,1550.5 760.9,1555.3 758.4,1559.7 756.0,1563.7 753.6,1567.4 751.2,1570.6 748.8,1573.3 746.4,1575.5 744.1,1577.1"/><polygon points="799.7,1579.9 802.1,1577.5 804.6,1574.7 807.1,1571.4 809.7,1567.6 812.2,1563.4 814.8,1558.9 817.5,1554.1 820.2,1549.0 822.8,1543.8 825.5,1538.4 828.2,1533.0 831.0,1527.6 833.7,1522.2 836.4,1517.0 839.1,1512.1 841.8,1507.3 844.4,1502.9 847.1,1498.9 849.7,1495.3 852.3,1492.2 854.8,1489.5 857.3,1487.3 859.8,1485.7 862.1,1486.0 914.8,1490.1 912.4,1490.5 909.9,1492.8 907.4,1495.7 904.8,1499.0 902.1,1502.7 899.5,1506.9 896.8,1511.4 894.1,1516.2 891.4,1521.2 888.7,1526.4 886.0,1531.8 883.2,1537.2 880.5,1542.5 877.8,1547.8 875.2,1553.0 872.5,1557.9 869.9,1562.6 867.3,1566.9 864.7,1570.9 862.2,1574.5 859.7,1577.6 857.2,1580.2 854.8,1582.3 852.4,1583.9"/><polygon points="908.0,1588.3 910.5,1586.0 913.0,1583.2 915.6,1580.0 918.3,1576.3 921.0,1572.2 923.7,1567.8 926.5,1563.0 929.3,1558.1 932.1,1552.9 935.0,1547.6 937.8,1542.2 940.7,1536.9 943.5,1531.6 946.4,1526.5 949.2,1521.6 952.1,1517.0 954.8,1512.7 957.6,1508.7 960.3,1505.2 963.0,1502.1 965.6,1499.5 968.1,1497.4 970.6,1495.8 972.9,1496.1 1025.5,1501.7 1023.1,1502.0 1020.5,1504.3 1017.9,1507.1 1015.2,1510.3 1012.5,1514.0 1009.7,1518.1 1006.9,1522.5 1004.1,1527.2 1001.3,1532.2 998.4,1537.3 995.5,1542.6 992.7,1547.9 989.8,1553.2 987.0,1558.5 984.2,1563.5 981.4,1568.4 978.6,1573.0 975.9,1577.2 973.2,1581.1 970.6,1584.6 968.0,1587.7 965.4,1590.2 963.0,1592.3 960.5,1593.8"/><polygon points="1016.5,1599.8 1023.4,1598.2 1030.3,1596.2 1037.2,1593.9 1044.2,1591.3 1051.2,1588.3 1055.7,1584.5 1060.9,1585.6 1059.7,1590.0 1061.2,1594.4 1062.8,1598.3 1064.4,1601.7 1066.2,1604.4 1068.0,1606.5"/></g>
<clipPath id="hx2"><polygon points="585.0,1567.9 586.9,1565.6 589.2,1562.8 591.5,1559.7 593.8,1556.1 596.1,1552.2 598.4,1547.9 600.7,1543.4 603.1,1538.7 605.4,1533.8 607.8,1528.8 610.2,1523.8 612.5,1518.8 614.9,1513.8 617.3,1509.0 619.7,1504.4 622.1,1500.1 624.5,1496.0 626.9,1492.3 629.2,1489.0 631.6,1486.1 634.0,1483.6 636.3,1481.6 638.7,1480.0 641.0,1480.3 690.6,1481.2 688.3,1481.6 685.9,1483.9 683.5,1486.6 681.1,1489.8 678.7,1493.3 676.3,1497.2 673.9,1501.4 671.6,1505.9 669.2,1510.6 666.8,1515.4 664.4,1520.4 662.0,1525.4 659.6,1530.3 657.3,1535.2 654.9,1540.0 652.6,1544.6 650.2,1548.9 647.9,1552.9 645.6,1556.6 643.3,1559.8 641.0,1562.7 638.7,1565.2 636.4,1567.2 633.7,1568.7"/><polygon points="693.1,1569.8 695.5,1567.6 697.9,1564.9 700.3,1561.8 702.7,1558.3 705.1,1554.5 707.6,1550.3 710.1,1545.9 712.6,1541.2 715.1,1536.4 717.6,1531.5 720.1,1526.5 722.6,1521.6 725.2,1516.8 727.7,1512.0 730.2,1507.5 732.8,1503.2 735.3,1499.3 737.8,1495.6 740.2,1492.4 742.7,1489.5 745.2,1487.1 747.6,1485.2 750.0,1483.7 752.3,1484.0 801.8,1486.4 799.5,1486.8 797.0,1489.0 794.6,1491.7 792.1,1494.7 789.6,1498.2 787.1,1502.0 784.6,1506.2 782.0,1510.6 779.5,1515.2 777.0,1520.0 774.4,1524.8 771.9,1529.7 769.4,1534.6 766.8,1539.5 764.3,1544.1 761.9,1548.6 759.4,1552.9 756.9,1556.8 754.5,1560.4 752.1,1563.6 749.7,1566.4 747.3,1568.8 745.0,1570.7 742.7,1572.2"/><polygon points="801.7,1575.1 804.1,1572.9 806.6,1570.3 809.0,1567.3 811.6,1563.9 814.1,1560.1 816.7,1556.0 819.3,1551.7 821.9,1547.1 824.6,1542.4 827.2,1537.6 829.9,1532.7 832.6,1527.8 835.3,1523.0 837.9,1518.4 840.6,1514.0 843.2,1509.8 845.9,1505.8 848.5,1502.3 851.0,1499.1 853.6,1496.3 856.1,1494.0 858.6,1492.1 861.0,1490.7 863.3,1491.0 912.8,1494.9 910.4,1495.2 907.9,1497.4 905.4,1500.0 902.8,1503.0 900.2,1506.4 897.6,1510.1 894.9,1514.2 892.3,1518.5 889.6,1523.0 886.9,1527.8 884.2,1532.6 881.6,1537.4 878.9,1542.2 876.3,1547.0 873.6,1551.6 871.0,1556.0 868.4,1560.1 865.8,1564.0 863.3,1567.5 860.8,1570.7 858.3,1573.4 855.9,1575.7 853.5,1577.5 851.1,1578.9"/><polygon points="910.1,1583.6 912.6,1581.5 915.1,1578.9 917.7,1576.0 920.3,1572.7 922.9,1569.0 925.6,1565.0 928.4,1560.7 931.1,1556.2 933.9,1551.5 936.7,1546.8 939.5,1542.0 942.3,1537.2 945.1,1532.5 947.9,1527.9 950.7,1523.6 953.4,1519.4 956.2,1515.6 958.9,1512.1 961.5,1509.0 964.1,1506.3 966.7,1504.0 969.3,1502.2 971.7,1500.8 974.0,1501.2 1023.3,1506.4 1021.0,1506.7 1018.4,1508.8 1015.8,1511.3 1013.1,1514.2 1010.5,1517.6 1007.7,1521.3 1005.0,1525.3 1002.2,1529.5 999.4,1534.0 996.6,1538.6 993.8,1543.4 991.0,1548.1 988.2,1552.9 985.4,1557.5 982.7,1562.1 979.9,1566.4 977.2,1570.5 974.5,1574.3 971.9,1577.7 969.3,1580.8 966.8,1583.4 964.3,1585.7 961.8,1587.4 959.4,1588.7"/><polygon points="1018.7,1595.1 1025.3,1593.7 1031.9,1591.9 1038.5,1589.9 1045.2,1587.6 1051.9,1585.0 1056.2,1581.6 1061.1,1582.7 1059.9,1586.6 1061.2,1590.6 1062.5,1594.2 1063.9,1597.2 1065.4,1599.6 1067.0,1601.4"/></clipPath>
<g fill="#4040d3" clip-path="url(#hx2)"><polygon points="593.4,1554.1 594.1,1557.9 592.2,1561.3 590.4,1564.2 588.6,1566.5 586.8,1568.2 585.0,1567.9 633.7,1568.7 627.4,1568.2 621.1,1566.0 614.8,1563.4 608.5,1560.5 602.2,1557.4 598.3,1553.8"/><polygon points="641.0,1480.3 643.3,1482.7 645.5,1485.5 647.8,1488.7 650.0,1492.4 652.2,1496.3 654.4,1500.6 656.5,1505.2 658.7,1510.0 660.9,1515.0 663.0,1520.0 665.1,1525.1 667.3,1530.2 669.4,1535.2 671.5,1540.1 673.6,1544.8 675.8,1549.2 677.9,1553.4 680.0,1557.2 682.2,1560.6 684.3,1563.6 686.5,1566.2 688.7,1568.3 690.9,1570.0 693.1,1569.8 742.7,1572.2 740.4,1571.6 738.3,1569.1 736.1,1566.2 734.0,1562.9 731.8,1559.2 729.7,1555.1 727.6,1550.8 725.5,1546.1 723.4,1541.3 721.2,1536.3 719.1,1531.2 717.0,1526.0 714.9,1520.9 712.7,1515.9 710.6,1511.0 708.4,1506.3 706.2,1501.9 704.1,1497.7 701.9,1493.9 699.6,1490.5 697.4,1487.5 695.2,1485.0 692.9,1482.8 690.6,1481.2"/><polygon points="752.3,1484.0 754.5,1486.4 756.6,1489.3 758.8,1492.6 760.9,1496.3 762.9,1500.3 765.0,1504.7 767.0,1509.3 769.0,1514.2 771.0,1519.2 773.0,1524.3 775.0,1529.5 777.0,1534.6 779.0,1539.7 780.9,1544.7 782.9,1549.4 784.9,1553.9 786.9,1558.1 788.9,1562.0 791.0,1565.5 793.0,1568.6 795.1,1571.2 797.3,1573.4 799.4,1575.2 801.7,1575.1 851.1,1578.9 848.9,1578.2 846.8,1575.7 844.7,1572.7 842.7,1569.3 840.7,1565.6 838.7,1561.4 836.7,1557.0 834.7,1552.3 832.7,1547.4 830.8,1542.3 828.8,1537.2 826.8,1532.0 824.9,1526.8 822.9,1521.7 820.9,1516.8 818.9,1512.0 816.8,1507.5 814.7,1503.3 812.7,1499.4 810.5,1496.0 808.4,1492.9 806.2,1490.3 804.0,1488.1 801.8,1486.4"/><polygon points="863.3,1491.0 865.4,1493.5 867.5,1496.4 869.5,1499.8 871.5,1503.5 873.5,1507.6 875.4,1512.1 877.3,1516.7 879.2,1521.7 881.1,1526.7 882.9,1531.9 884.7,1537.1 886.5,1542.3 888.4,1547.5 890.2,1552.5 892.0,1557.3 893.9,1561.8 895.8,1566.1 897.7,1570.0 899.7,1573.6 901.6,1576.7 903.7,1579.5 905.7,1581.7 907.8,1583.5 910.1,1583.6 959.4,1588.7 957.2,1587.9 955.2,1585.3 953.2,1582.3 951.2,1578.9 949.3,1575.0 947.4,1570.9 945.6,1566.4 943.7,1561.6 941.9,1556.7 940.1,1551.5 938.3,1546.3 936.4,1541.1 934.6,1535.9 932.8,1530.7 930.9,1525.7 929.0,1520.9 927.1,1516.3 925.2,1512.1 923.2,1508.2 921.2,1504.6 919.1,1501.5 917.1,1498.8 914.9,1496.6 912.8,1494.9"/><polygon points="974.0,1501.2 976.1,1503.7 978.1,1506.7 980.0,1510.1 981.9,1513.9 983.7,1518.1 985.5,1522.5 987.3,1527.3 989.1,1532.2 990.8,1537.3 992.5,1542.5 994.2,1547.8 995.9,1553.1 997.5,1558.3 999.2,1563.3 1001.0,1568.2 1002.7,1572.8 1004.5,1577.1 1006.3,1581.1 1008.1,1584.7 1010.0,1587.9 1012.0,1590.7 1014.0,1593.0 1016.0,1594.9 1018.7,1595.1 1067.0,1601.4 1065.3,1600.6 1063.3,1597.9 1061.4,1594.8 1059.6,1591.4 1057.7,1587.5 1056.0,1583.2 1054.2,1578.7 1052.5,1573.9 1050.8,1568.9 1049.1,1563.7 1047.5,1558.5 1045.8,1553.2 1044.1,1547.9 1042.4,1542.7 1040.7,1537.6 1038.9,1532.8 1037.1,1528.2 1035.3,1523.9 1033.4,1519.9 1031.5,1516.4 1029.6,1513.2 1027.5,1510.5 1025.5,1508.2 1023.3,1506.4"/></g>
</g>
<g opacity="0.75">
<g fill="#9090e8"><polygon points="684.1,1711.3 686.2,1713.6 688.3,1716.5 690.4,1719.8 692.5,1723.7 694.7,1728.1 696.9,1732.8 699.1,1737.9 701.4,1743.3 703.6,1749.0 705.9,1754.8 708.2,1760.7 710.5,1766.7 712.8,1772.6 715.2,1778.4 717.5,1784.1 719.9,1789.4 722.2,1794.5 724.5,1799.2 726.8,1803.5 729.1,1807.3 731.4,1810.7 733.7,1813.5 735.9,1815.8 738.1,1817.5 740.1,1815.3 790.0,1812.9 788.0,1814.6 785.7,1812.4 783.5,1809.6 781.2,1806.3 778.9,1802.5 776.5,1798.3 774.2,1793.6 771.9,1788.6 769.5,1783.2 767.2,1777.6 764.8,1771.9 762.5,1766.0 760.2,1760.1 757.9,1754.3 755.6,1748.5 753.3,1742.9 751.1,1737.6 748.8,1732.5 746.7,1727.9 744.5,1723.6 742.3,1719.8 740.2,1716.5 738.2,1713.7 736.1,1711.4 734.0,1709.7"/><polygon points="782.2,1708.9 784.4,1711.5 786.7,1714.7 789.0,1718.4 791.4,1722.5 793.8,1727.1 796.3,1732.0 798.8,1737.3 801.3,1742.8 803.8,1748.4 806.4,1754.2 809.0,1760.1 811.6,1765.9 814.2,1771.6 816.8,1777.2 819.3,1782.5 821.9,1787.5 824.4,1792.1 826.9,1796.4 829.4,1800.2 831.8,1803.5 834.2,1806.3 836.5,1808.6 838.8,1810.3 840.7,1808.7 890.4,1804.2 888.4,1805.2 886.1,1803.0 883.7,1800.2 881.3,1796.9 878.9,1793.1 876.3,1788.9 873.8,1784.3 871.3,1779.3 868.7,1774.0 866.1,1768.5 863.5,1762.8 860.9,1757.1 858.3,1751.3 855.8,1745.5 853.2,1739.9 850.7,1734.4 848.2,1729.2 845.7,1724.4 843.3,1719.9 840.9,1715.8 838.6,1712.2 836.3,1709.0 834.1,1706.4 831.9,1704.4"/><polygon points="878.5,1699.7 880.8,1702.2 883.2,1705.2 885.7,1708.7 888.2,1712.7 890.8,1717.1 893.4,1721.9 896.1,1727.0 898.8,1732.3 901.5,1737.9 904.3,1743.6 907.1,1749.3 909.9,1755.0 912.6,1760.7 915.4,1766.2 918.2,1771.4 920.9,1776.4 923.6,1781.0 926.2,1785.3 928.8,1789.1 931.3,1792.4 933.8,1795.2 936.2,1797.5 938.5,1799.2 940.5,1798.3 990.0,1792.1 988.0,1792.5 985.6,1790.2 983.1,1787.4 980.6,1784.1 978.0,1780.3 975.3,1776.1 972.7,1771.5 969.9,1766.5 967.2,1761.3 964.4,1755.8 961.6,1750.2 958.8,1744.5 956.1,1738.8 953.3,1733.2 950.6,1727.7 947.8,1722.3 945.2,1717.3 942.5,1712.6 940.0,1708.2 937.5,1704.3 935.0,1700.8 932.6,1697.9 930.3,1695.4 928.0,1693.5"/><polygon points="974.9,1687.3 977.2,1689.6 979.7,1692.5 982.2,1695.8 984.9,1699.6 987.6,1703.9 990.3,1708.5 993.1,1713.5 996.0,1718.7 998.9,1724.2 1001.8,1729.8 1004.7,1735.4 1007.6,1741.1 1010.6,1746.6 1013.5,1752.1 1016.4,1757.3 1019.2,1762.3 1022.1,1766.9 1024.8,1771.1 1027.5,1774.9 1030.1,1778.3 1032.7,1781.1 1035.1,1783.4 1037.5,1785.2 1039.6,1784.9 1088.9,1777.3 1086.8,1777.1 1084.3,1774.8 1081.8,1772.0 1079.1,1768.6 1076.5,1764.8 1073.7,1760.6 1070.9,1756.0 1068.0,1751.1 1065.1,1745.8 1062.2,1740.4 1059.3,1734.9 1056.3,1729.2 1053.4,1723.6 1050.5,1718.1 1047.6,1712.6 1044.8,1707.4 1042.0,1702.5 1039.2,1697.9 1036.5,1693.7 1033.9,1689.9 1031.3,1686.6 1028.9,1683.8 1026.5,1681.5 1024.2,1679.8"/><polygon points="1071.1,1672.3 1073.5,1674.4 1076.1,1677.1 1078.7,1680.3 1081.4,1684.0 1084.1,1688.1 1087.0,1692.6 1089.9,1697.5 1092.9,1702.6 1095.9,1708.0 1098.9,1713.4 1101.9,1719.0 1105.0,1724.6 1108.1,1730.1 1111.1,1735.5 1114.1,1740.8 1117.1,1745.7 1120.0,1750.3 1122.8,1754.6 1125.6,1758.4 1128.3,1761.8 1130.9,1764.6 1133.5,1767.0 1135.9,1768.8 1138.1,1769.2 1187.2,1760.5 1185.0,1759.6 1182.4,1757.2 1179.8,1754.4 1177.1,1751.0 1174.3,1747.2 1171.5,1742.9 1168.6,1738.3 1165.6,1733.4 1162.6,1728.2 1159.6,1722.8 1156.5,1717.3 1153.4,1711.7 1150.4,1706.2 1147.3,1700.7 1144.3,1695.4 1141.4,1690.3 1138.5,1685.5 1135.6,1681.0 1132.9,1676.9 1130.2,1673.3 1127.6,1670.1 1125.0,1667.5 1122.6,1665.3 1120.3,1663.7"/><polygon points="1167.2,1655.1 1169.7,1657.1 1172.2,1659.7 1174.9,1662.8 1177.6,1666.3 1180.5,1670.3 1183.4,1674.7 1186.4,1679.4 1189.4,1684.4 1192.5,1689.7 1198.5,1694.3 1205.2,1698.8 1211.9,1703.3 1218.6,1707.8 1225.3,1712.2 1232.0,1716.5 1236.2,1721.2 1241.0,1719.9 1239.0,1714.5 1239.5,1708.2 1239.8,1701.8 1240.2,1695.2 1240.6,1688.7 1241.0,1682.3 1240.8,1676.3 1237.7,1671.3 1234.8,1666.6 1231.8,1662.2 1229.0,1658.3 1226.3,1654.8 1223.6,1651.7 1221.1,1649.2 1218.6,1647.2 1216.3,1645.8"/><polygon points="681.6,1770.4 682.4,1764.3 680.7,1758.0 678.9,1751.8 677.2,1745.8 675.4,1740.1 673.7,1734.7 672.6,1729.8 674.5,1725.5 676.4,1721.6 678.3,1718.2 680.3,1715.3 682.2,1712.9 684.1,1711.3 734.0,1709.7 732.1,1712.0 730.2,1715.0 728.3,1718.5 726.4,1722.5 724.5,1726.9 722.6,1731.7 717.7,1736.8 712.1,1742.1 706.5,1747.6 701.0,1753.3 695.3,1759.0 689.7,1764.8 686.6,1770.7"/><polygon points="740.1,1815.3 742.0,1812.3 743.9,1808.8 745.8,1804.9 747.6,1800.4 749.4,1795.6 751.2,1790.3 752.9,1784.8 754.6,1779.0 756.3,1773.0 757.9,1767.0 759.6,1760.8 761.2,1754.7 762.8,1748.7 764.5,1742.9 766.1,1737.3 767.8,1732.0 769.4,1727.0 771.1,1722.5 772.8,1718.4 774.6,1714.8 776.4,1711.8 778.2,1709.2 780.1,1707.2 782.2,1708.9 831.9,1704.4 829.8,1703.4 828.0,1706.0 826.2,1709.1 824.5,1712.8 822.8,1716.9 821.1,1721.5 819.5,1726.5 817.8,1731.8 816.2,1737.5 814.6,1743.4 812.9,1749.4 811.3,1755.6 809.7,1761.8 808.0,1767.9 806.4,1773.9 804.7,1779.7 803.0,1785.3 801.2,1790.6 799.4,1795.5 797.6,1800.0 795.8,1804.0 793.9,1807.5 791.9,1810.5 790.0,1812.9"/><polygon points="840.7,1808.7 842.5,1805.8 844.3,1802.3 846.0,1798.3 847.6,1793.9 849.2,1789.0 850.7,1783.8 852.3,1778.2 853.7,1772.4 855.2,1766.4 856.6,1760.2 858.0,1754.1 859.4,1747.9 860.8,1741.8 862.2,1735.9 863.6,1730.2 865.0,1724.7 866.5,1719.7 868.0,1715.0 869.6,1710.8 871.2,1707.0 872.9,1703.8 874.6,1701.1 876.4,1698.9 878.5,1699.7 928.0,1693.5 926.0,1693.3 924.2,1696.1 922.6,1699.4 921.0,1703.2 919.5,1707.4 917.9,1712.2 916.5,1717.3 915.0,1722.7 913.6,1728.5 912.2,1734.5 910.8,1740.6 909.5,1746.8 908.1,1753.0 906.7,1759.2 905.2,1765.2 903.8,1771.1 902.3,1776.7 900.7,1781.9 899.2,1786.8 897.5,1791.3 895.8,1795.3 894.1,1798.8 892.3,1801.8 890.4,1804.2"/><polygon points="940.5,1798.3 942.2,1795.4 943.9,1791.9 945.4,1788.0 946.9,1783.6 948.4,1778.7 949.8,1773.5 951.1,1767.9 952.4,1762.1 953.6,1756.1 954.9,1749.9 956.1,1743.7 957.3,1737.5 958.5,1731.3 959.7,1725.3 961.0,1719.5 962.3,1714.0 963.6,1708.8 965.0,1704.0 966.4,1699.7 967.9,1695.8 969.4,1692.4 971.1,1689.6 972.8,1687.2 974.9,1687.3 1024.2,1679.8 1022.2,1680.3 1020.6,1683.2 1019.0,1686.7 1017.6,1690.6 1016.1,1695.0 1014.8,1699.8 1013.5,1705.0 1012.2,1710.6 1010.9,1716.4 1009.7,1722.5 1008.5,1728.6 1007.3,1734.9 1006.1,1741.2 1004.9,1747.3 1003.7,1753.4 1002.4,1759.2 1001.0,1764.8 999.7,1770.1 998.2,1774.9 996.7,1779.4 995.2,1783.3 993.5,1786.8 991.8,1789.7 990.0,1792.1"/><polygon points="1039.6,1784.9 1041.2,1782.0 1042.8,1778.6 1044.3,1774.7 1045.7,1770.4 1047.0,1765.6 1048.3,1760.3 1049.5,1754.8 1050.6,1749.0 1051.7,1743.0 1052.8,1736.8 1053.9,1730.5 1054.9,1724.3 1056.0,1718.1 1057.1,1712.0 1058.2,1706.1 1059.3,1700.6 1060.5,1695.3 1061.8,1690.4 1063.1,1685.9 1064.5,1681.9 1066.0,1678.4 1067.5,1675.4 1069.2,1673.0 1071.1,1672.3 1120.3,1663.7 1118.5,1665.0 1116.9,1668.0 1115.4,1671.6 1114.0,1675.6 1112.7,1680.1 1111.5,1685.1 1110.3,1690.4 1109.2,1696.0 1108.1,1701.9 1107.0,1708.0 1105.9,1714.2 1104.9,1720.5 1103.8,1726.8 1102.8,1733.0 1101.7,1739.0 1100.5,1744.9 1099.3,1750.4 1098.1,1755.6 1096.7,1760.4 1095.4,1764.8 1093.9,1768.7 1092.3,1772.1 1090.7,1775.0 1088.9,1777.3"/><polygon points="1138.1,1769.2 1139.7,1766.3 1141.2,1763.0 1142.6,1759.2 1143.9,1754.8 1145.2,1750.1 1146.3,1744.9 1147.4,1739.4 1148.5,1733.6 1149.5,1727.6 1150.4,1721.4 1151.4,1715.1 1152.3,1708.9 1153.2,1702.6 1154.2,1696.5 1155.2,1690.6 1156.2,1684.9 1157.3,1679.5 1158.4,1674.6 1159.7,1670.0 1161.0,1665.9 1162.4,1662.2 1163.8,1659.1 1165.4,1656.6 1167.2,1655.1 1216.3,1645.8 1214.6,1647.8 1213.1,1650.9 1211.7,1654.6 1210.4,1658.7 1209.2,1663.3 1208.1,1668.4 1207.0,1673.8 1206.0,1679.5 1205.0,1685.4 1204.0,1691.5 1203.1,1697.8 1202.2,1704.1 1201.2,1710.4 1200.3,1716.6 1199.3,1722.6 1198.3,1728.4 1197.2,1733.9 1196.0,1739.1 1194.8,1743.9 1193.5,1748.2 1192.0,1752.1 1190.5,1755.4 1188.9,1758.2 1187.2,1760.5"/></g>
<clipPath id="hx3"><polygon points="681.7,1769.8 682.6,1764.3 681.1,1758.6 679.6,1753.0 678.1,1747.6 676.6,1742.4 675.0,1737.5 674.1,1733.1 676.1,1729.2 678.0,1725.7 679.9,1722.7 681.9,1720.2 683.8,1718.1 685.7,1716.6 732.7,1715.2 730.8,1717.3 728.9,1720.0 727.0,1723.2 725.0,1726.8 723.1,1730.8 721.2,1735.2 716.5,1739.8 711.1,1744.6 705.7,1749.5 700.3,1754.6 694.9,1759.7 689.5,1764.9 686.4,1770.2"/><polygon points="741.3,1810.0 743.2,1807.3 745.1,1804.1 747.0,1800.5 748.8,1796.4 750.7,1792.0 752.5,1787.2 754.2,1782.2 755.9,1777.0 757.7,1771.6 759.4,1766.1 761.0,1760.6 762.7,1755.1 764.4,1749.7 766.1,1744.4 767.7,1739.4 769.4,1734.6 771.1,1730.2 772.9,1726.1 774.6,1722.5 776.4,1719.2 778.2,1716.5 780.0,1714.2 781.9,1712.5 784.1,1714.0 830.9,1709.7 828.8,1708.8 826.9,1711.2 825.2,1714.1 823.4,1717.5 821.6,1721.2 819.9,1725.4 818.2,1730.0 816.6,1734.8 814.9,1740.0 813.2,1745.3 811.6,1750.8 809.9,1756.3 808.2,1761.9 806.5,1767.4 804.8,1772.8 803.1,1778.1 801.4,1783.1 799.6,1787.8 797.8,1792.2 795.9,1796.2 794.1,1799.8 792.1,1803.0 790.2,1805.6 788.2,1807.8"/><polygon points="841.7,1803.3 843.5,1800.6 845.3,1797.4 847.0,1793.8 848.7,1789.8 850.3,1785.3 851.9,1780.6 853.4,1775.5 855.0,1770.2 856.5,1764.8 857.9,1759.2 859.4,1753.6 860.9,1748.1 862.3,1742.6 863.8,1737.2 865.3,1732.1 866.8,1727.2 868.3,1722.6 869.9,1718.4 871.5,1714.6 873.2,1711.3 874.9,1708.4 876.6,1706.0 878.4,1704.0 880.6,1704.8 927.2,1698.9 925.1,1698.8 923.4,1701.3 921.7,1704.4 920.1,1707.8 918.5,1711.8 916.9,1716.1 915.4,1720.7 913.9,1725.7 912.4,1730.9 911.0,1736.3 909.5,1741.9 908.1,1747.5 906.6,1753.1 905.1,1758.7 903.6,1764.1 902.1,1769.4 900.6,1774.4 899.0,1779.2 897.4,1783.6 895.7,1787.6 893.9,1791.2 892.2,1794.3 890.3,1797.0 888.5,1799.1"/><polygon points="941.2,1792.8 943.0,1790.2 944.7,1787.0 946.3,1783.4 947.8,1779.3 949.3,1774.9 950.8,1770.2 952.2,1765.1 953.5,1759.8 954.9,1754.4 956.2,1748.8 957.5,1743.1 958.8,1737.5 960.1,1731.9 961.4,1726.5 962.7,1721.3 964.1,1716.3 965.5,1711.7 966.9,1707.3 968.4,1703.4 969.9,1699.9 971.6,1696.9 973.2,1694.4 975.0,1692.3 977.1,1692.3 1023.5,1685.3 1021.5,1685.8 1019.9,1688.5 1018.3,1691.6 1016.7,1695.2 1015.3,1699.3 1013.8,1703.7 1012.5,1708.4 1011.1,1713.5 1009.8,1718.8 1008.5,1724.3 1007.2,1729.9 1005.9,1735.5 1004.6,1741.2 1003.3,1746.8 1002.0,1752.3 1000.7,1757.5 999.3,1762.6 997.8,1767.3 996.3,1771.7 994.8,1775.6 993.1,1779.2 991.5,1782.3 989.7,1784.9 987.9,1787.0"/><polygon points="1040.2,1779.4 1041.9,1776.8 1043.5,1773.6 1045.0,1770.1 1046.5,1766.0 1047.9,1761.7 1049.2,1756.9 1050.5,1751.9 1051.7,1746.6 1052.9,1741.1 1054.1,1735.5 1055.2,1729.8 1056.4,1724.2 1057.6,1718.6 1058.7,1713.1 1059.9,1707.8 1061.2,1702.7 1062.5,1698.0 1063.8,1693.6 1065.2,1689.5 1066.6,1685.9 1068.2,1682.8 1069.8,1680.1 1071.5,1677.9 1073.4,1677.3 1119.7,1669.2 1117.9,1670.5 1116.3,1673.3 1114.8,1676.5 1113.3,1680.2 1112.0,1684.4 1110.6,1688.9 1109.4,1693.7 1108.2,1698.8 1107.0,1704.2 1105.8,1709.7 1104.7,1715.4 1103.5,1721.1 1102.4,1726.8 1101.2,1732.4 1100.0,1737.8 1098.7,1743.1 1097.5,1748.1 1096.1,1752.8 1094.7,1757.1 1093.3,1761.1 1091.7,1764.6 1090.1,1767.6 1088.4,1770.2 1086.6,1772.3"/><polygon points="1138.6,1763.6 1140.2,1761.0 1141.8,1757.9 1143.2,1754.4 1144.6,1750.4 1145.9,1746.1 1147.2,1741.4 1148.4,1736.4 1149.5,1731.1 1150.6,1725.6 1151.7,1720.0 1152.7,1714.3 1153.7,1708.6 1154.8,1703.0 1155.8,1697.4 1156.9,1692.1 1158.1,1687.0 1159.3,1682.1 1160.5,1677.6 1161.8,1673.5 1163.2,1669.8 1164.6,1666.5 1166.2,1663.7 1167.8,1661.4 1169.7,1660.1 1215.8,1651.3 1214.1,1653.2 1212.6,1656.1 1211.1,1659.5 1209.8,1663.3 1208.5,1667.5 1207.3,1672.1 1206.1,1677.0 1205.0,1682.2 1203.9,1687.6 1202.9,1693.2 1201.8,1698.9 1200.8,1704.6 1199.7,1710.3 1198.7,1715.9 1197.6,1721.3 1196.4,1726.6 1195.3,1731.6 1194.0,1736.2 1192.7,1740.5 1191.3,1744.4 1189.8,1747.9 1188.2,1750.9 1186.6,1753.4 1184.9,1755.5"/></clipPath>
<g fill="#4040d3" clip-path="url(#hx3)"><polygon points="685.7,1716.6 687.8,1718.7 689.9,1721.4 692.0,1724.4 694.1,1728.0 696.3,1731.9 698.5,1736.2 700.7,1740.8 702.9,1745.7 705.2,1750.8 707.4,1756.0 709.7,1761.4 712.0,1766.7 714.3,1772.0 716.6,1777.3 718.9,1782.3 721.2,1787.1 723.5,1791.7 725.8,1795.9 728.1,1799.7 730.4,1803.1 732.6,1806.1 734.9,1808.5 737.1,1810.5 739.3,1812.0 741.3,1810.0 788.2,1807.8 786.2,1809.3 784.0,1807.3 781.7,1804.8 779.5,1801.7 777.2,1798.3 774.9,1794.5 772.6,1790.2 770.3,1785.7 768.0,1780.9 765.6,1775.9 763.3,1770.7 761.0,1765.4 758.7,1760.1 756.4,1754.8 754.2,1749.7 751.9,1744.7 749.7,1739.9 747.5,1735.4 745.3,1731.2 743.2,1727.4 741.0,1724.0 738.9,1721.1 736.8,1718.6 734.8,1716.6 732.7,1715.2"/><polygon points="784.1,1714.0 786.3,1716.4 788.6,1719.3 790.8,1722.6 793.2,1726.4 795.6,1730.5 798.0,1734.9 800.4,1739.7 802.9,1744.6 805.4,1749.7 807.9,1754.9 810.5,1760.2 813.0,1765.4 815.5,1770.5 818.1,1775.4 820.6,1780.2 823.1,1784.7 825.6,1788.8 828.0,1792.6 830.4,1796.0 832.8,1798.9 835.2,1801.4 837.5,1803.4 839.7,1804.8 841.7,1803.3 888.5,1799.1 886.4,1800.1 884.2,1798.0 881.8,1795.5 879.4,1792.5 877.0,1789.1 874.5,1785.3 872.1,1781.1 869.5,1776.6 867.0,1771.8 864.5,1766.9 861.9,1761.8 859.4,1756.6 856.9,1751.4 854.4,1746.3 851.8,1741.2 849.4,1736.4 846.9,1731.7 844.5,1727.4 842.1,1723.4 839.8,1719.7 837.5,1716.5 835.3,1713.8 833.0,1711.5 830.9,1709.7"/><polygon points="880.6,1704.8 882.9,1707.1 885.2,1709.8 887.7,1713.0 890.1,1716.5 892.7,1720.5 895.2,1724.8 897.8,1729.4 900.5,1734.2 903.2,1739.2 905.8,1744.3 908.6,1749.4 911.3,1754.6 914.0,1759.6 916.7,1764.5 919.4,1769.2 922.0,1773.7 924.6,1777.8 927.2,1781.5 929.7,1784.9 932.2,1787.8 934.6,1790.3 937.0,1792.3 939.3,1793.8 941.2,1792.8 987.9,1787.0 985.8,1787.4 983.5,1785.3 981.0,1782.8 978.5,1779.8 976.0,1776.4 973.4,1772.6 970.8,1768.4 968.1,1764.0 965.5,1759.3 962.8,1754.4 960.0,1749.3 957.3,1744.2 954.6,1739.1 951.9,1734.1 949.3,1729.1 946.6,1724.4 944.0,1719.9 941.4,1715.7 938.9,1711.8 936.5,1708.3 934.1,1705.3 931.7,1702.7 929.4,1700.6 927.2,1698.9"/><polygon points="977.1,1692.3 979.4,1694.4 981.9,1697.0 984.3,1700.0 986.9,1703.5 989.6,1707.3 992.2,1711.5 995.0,1715.9 997.7,1720.6 1000.5,1725.5 1003.4,1730.5 1006.2,1735.6 1009.1,1740.7 1011.9,1745.6 1014.7,1750.5 1017.5,1755.2 1020.3,1759.6 1023.0,1763.7 1025.7,1767.4 1028.3,1770.8 1030.9,1773.7 1033.4,1776.2 1035.8,1778.2 1038.1,1779.7 1040.2,1779.4 1086.6,1772.3 1084.5,1772.1 1082.1,1770.0 1079.6,1767.5 1077.0,1764.5 1074.4,1761.0 1071.7,1757.2 1069.0,1753.1 1066.2,1748.6 1063.4,1744.0 1060.5,1739.1 1057.7,1734.1 1054.8,1729.1 1052.0,1724.0 1049.2,1719.1 1046.4,1714.3 1043.6,1709.6 1040.9,1705.2 1038.2,1701.2 1035.6,1697.4 1033.0,1694.1 1030.5,1691.2 1028.1,1688.7 1025.8,1686.7 1023.5,1685.3"/><polygon points="1073.4,1677.3 1075.8,1679.2 1078.3,1681.7 1080.9,1684.6 1083.5,1687.9 1086.2,1691.6 1089.0,1695.6 1091.8,1700.0 1094.7,1704.6 1097.6,1709.4 1100.5,1714.3 1103.5,1719.3 1106.4,1724.3 1109.4,1729.2 1112.3,1734.0 1115.2,1738.7 1118.1,1743.1 1120.9,1747.2 1123.7,1750.9 1126.4,1754.3 1129.0,1757.3 1131.6,1759.8 1134.0,1761.8 1136.4,1763.4 1138.6,1763.6 1184.9,1755.5 1182.6,1754.6 1180.1,1752.5 1177.5,1750.0 1174.9,1746.9 1172.2,1743.5 1169.4,1739.7 1166.6,1735.5 1163.7,1731.1 1160.8,1726.4 1157.9,1721.6 1154.9,1716.7 1151.9,1711.7 1149.0,1706.7 1146.1,1701.9 1143.2,1697.1 1140.3,1692.6 1137.5,1688.3 1134.7,1684.4 1132.0,1680.7 1129.4,1677.5 1126.9,1674.8 1124.4,1672.4 1122.0,1670.6 1119.7,1669.2"/><polygon points="1169.7,1660.1 1172.1,1661.9 1174.6,1664.2 1177.2,1667.0 1179.9,1670.2 1182.6,1673.8 1185.5,1677.7 1188.4,1682.0 1191.3,1686.5 1194.3,1691.2 1200.0,1695.2 1206.4,1699.2 1212.8,1703.1 1219.1,1707.1 1225.5,1710.9 1231.8,1714.6 1235.9,1718.8 1240.4,1717.5 1238.5,1712.7 1238.8,1707.0 1239.1,1701.2 1239.3,1695.3 1239.6,1689.4 1239.9,1683.6 1239.7,1678.1 1236.7,1673.7 1233.8,1669.5 1231.0,1665.7 1228.3,1662.2 1225.6,1659.1 1223.0,1656.4 1220.5,1654.2 1218.1,1652.5 1215.8,1651.3"/></g>
</g>
<path d="M779.0 1622.0 L802.0 1654.0 L830.0 1684.0" fill="none" stroke="#18609c" stroke-width="10" stroke-linecap="round" stroke-linejoin="round"/>
<path d="M784.0 1620.0 L806.0 1650.0 L836.0 1688.0" fill="none" stroke="#18609c" stroke-width="10" stroke-linecap="round" stroke-linejoin="round"/>
<path d="M830.0 1680.0 L832.5 1698.5 L848.8 1705.5" fill="none" stroke="#18609c" stroke-width="10" stroke-linecap="round" stroke-linejoin="round"/>
<path d="M832.5 1698.5 L811.4 1717.2 L792.7 1707.9" fill="none" stroke="#18609c" stroke-width="10" stroke-linecap="round" stroke-linejoin="round"/>
<path d="M811.4 1717.2 L820.8 1733.6 L844.2 1730.1" fill="none" stroke="#18609c" stroke-width="10" stroke-linecap="round" stroke-linejoin="round"/>
<path d="M811.4 1717.2 L788.0 1728.9 L771.6 1728.9" fill="none" stroke="#18609c" stroke-width="10" stroke-linecap="round" stroke-linejoin="round"/>
<path d="M734.2 1670.4 L750.6 1679.8 L770.5 1654.0" fill="none" stroke="#18609c" stroke-width="10" stroke-linecap="round" stroke-linejoin="round"/>
<path d="M779.0 1622.0 L802.0 1654.0 L830.0 1684.0" fill="none" stroke="#2a78b4" stroke-width="4.0" stroke-linecap="round" stroke-linejoin="round" stroke-opacity="0.7"/>
<path d="M784.0 1620.0 L806.0 1650.0 L836.0 1688.0" fill="none" stroke="#2a78b4" stroke-width="4.0" stroke-linecap="round" stroke-linejoin="round" stroke-opacity="0.7"/>
<path d="M830.0 1680.0 L832.5 1698.5 L848.8 1705.5" fill="none" stroke="#2a78b4" stroke-width="4.0" stroke-linecap="round" stroke-linejoin="round" stroke-opacity="0.7"/>
<path d="M832.5 1698.5 L811.4 1717.2 L792.7 1707.9" fill="none" stroke="#2a78b4" stroke-width="4.0" stroke-linecap="round" stroke-linejoin="round" stroke-opacity="0.7"/>
<path d="M811.4 1717.2 L820.8 1733.6 L844.2 1730.1" fill="none" stroke="#2a78b4" stroke-width="4.0" stroke-linecap="round" stroke-linejoin="round" stroke-opacity="0.7"/>
<path d="M811.4 1717.2 L788.0 1728.9 L771.6 1728.9" fill="none" stroke="#2a78b4" stroke-width="4.0" stroke-linecap="round" stroke-linejoin="round" stroke-opacity="0.7"/>
<path d="M734.2 1670.4 L750.6 1679.8 L770.5 1654.0" fill="none" stroke="#2a78b4" stroke-width="4.0" stroke-linecap="round" stroke-linejoin="round" stroke-opacity="0.7"/>
<path d="M774.0 1608.5 L799.7 1603.8 L809.1 1638.9 L797.4 1656.4 L770.5 1651.7 L762.3 1627.2 L774.0 1608.5" fill="none" stroke="#18609c" stroke-width="10" stroke-linecap="round" stroke-linejoin="round"/>
<path d="M774.0 1608.5 L770.5 1585.1" fill="none" stroke="#18609c" stroke-width="10" stroke-linecap="round" stroke-linejoin="round"/>
<path d="M762.3 1627.2 L741.2 1631.9" fill="none" stroke="#18609c" stroke-width="10" stroke-linecap="round" stroke-linejoin="round"/>
<path d="M809.1 1638.9 L830.1 1635.4" fill="none" stroke="#18609c" stroke-width="10" stroke-linecap="round" stroke-linejoin="round"/>
<path d="M797.4 1656.4 L797.4 1677.5" fill="none" stroke="#18609c" stroke-width="10" stroke-linecap="round" stroke-linejoin="round"/>
<path d="M799.7 1603.8 L813.7 1599.1 L832.5 1580.4" fill="none" stroke="#18609c" stroke-width="10" stroke-linecap="round" stroke-linejoin="round"/>
<path d="M832.5 1580.4 L841.8 1596.8" fill="none" stroke="#18609c" stroke-width="10" stroke-linecap="round" stroke-linejoin="round"/>
<path d="M832.5 1578.0 L855.9 1554.6 L881.6 1567.5" fill="none" stroke="#18609c" stroke-width="10" stroke-linecap="round" stroke-linejoin="round"/>
<path d="M939.3 1542.4 L939.3 1569.7" fill="none" stroke="#18609c" stroke-width="10" stroke-linecap="round" stroke-linejoin="round"/>
<path d="M956.1 1572.9 L980.1 1552.0 L1004.1 1558.5" fill="none" stroke="#18609c" stroke-width="10" stroke-linecap="round" stroke-linejoin="round"/>
<path d="M956.1 1574.5 L965.7 1595.3" fill="none" stroke="#18609c" stroke-width="10" stroke-linecap="round" stroke-linejoin="round"/>
<path d="M995.3 1592.0 L997.7 1624.1" fill="none" stroke="#18609c" stroke-width="10" stroke-linecap="round" stroke-linejoin="round"/>
<path d="M986.5 1616.1 L992.9 1664.1" fill="none" stroke="#18609c" stroke-width="10" stroke-linecap="round" stroke-linejoin="round"/>
<path d="M1008.9 1619.3 L1010.5 1665.7" fill="none" stroke="#18609c" stroke-width="10" stroke-linecap="round" stroke-linejoin="round"/>
<path d="M983.3 1672.1 L1002.5 1692.9 L1028.1 1686.5 L1037.7 1660.9" fill="none" stroke="#18609c" stroke-width="10" stroke-linecap="round" stroke-linejoin="round"/>
<path d="M992.9 1664.1 L1005.7 1678.5 L1037.7 1659.3" fill="none" stroke="#18609c" stroke-width="10" stroke-linecap="round" stroke-linejoin="round"/>
<path d="M1010.5 1665.7 L1002.5 1680.0" fill="none" stroke="#18609c" stroke-width="10" stroke-linecap="round" stroke-linejoin="round"/>
<path d="M774.0 1608.5 L799.7 1603.8 L809.1 1638.9 L797.4 1656.4 L770.5 1651.7 L762.3 1627.2 L774.0 1608.5" fill="none" stroke="#2a78b4" stroke-width="4.0" stroke-linecap="round" stroke-linejoin="round" stroke-opacity="0.7"/>
<path d="M774.0 1608.5 L770.5 1585.1" fill="none" stroke="#2a78b4" stroke-width="4.0" stroke-linecap="round" stroke-linejoin="round" stroke-opacity="0.7"/>
<path d="M762.3 1627.2 L741.2 1631.9" fill="none" stroke="#2a78b4" stroke-width="4.0" stroke-linecap="round" stroke-linejoin="round" stroke-opacity="0.7"/>
<path d="M809.1 1638.9 L830.1 1635.4" fill="none" stroke="#2a78b4" stroke-width="4.0" stroke-linecap="round" stroke-linejoin="round" stroke-opacity="0.7"/>
<path d="M797.4 1656.4 L797.4 1677.5" fill="none" stroke="#2a78b4" stroke-width="4.0" stroke-linecap="round" stroke-linejoin="round" stroke-opacity="0.7"/>
<path d="M799.7 1603.8 L813.7 1599.1 L832.5 1580.4" fill="none" stroke="#2a78b4" stroke-width="4.0" stroke-linecap="round" stroke-linejoin="round" stroke-opacity="0.7"/>
<path d="M832.5 1580.4 L841.8 1596.8" fill="none" stroke="#2a78b4" stroke-width="4.0" stroke-linecap="round" stroke-linejoin="round" stroke-opacity="0.7"/>
<path d="M832.5 1578.0 L855.9 1554.6 L881.6 1567.5" fill="none" stroke="#2a78b4" stroke-width="4.0" stroke-linecap="round" stroke-linejoin="round" stroke-opacity="0.7"/>
<path d="M939.3 1542.4 L939.3 1569.7" fill="none" stroke="#2a78b4" stroke-width="4.0" stroke-linecap="round" stroke-linejoin="round" stroke-opacity="0.7"/>
<path d="M956.1 1572.9 L980.1 1552.0 L1004.1 1558.5" fill="none" stroke="#2a78b4" stroke-width="4.0" stroke-linecap="round" stroke-linejoin="round" stroke-opacity="0.7"/>
<path d="M956.1 1574.5 L965.7 1595.3" fill="none" stroke="#2a78b4" stroke-width="4.0" stroke-linecap="round" stroke-linejoin="round" stroke-opacity="0.7"/>
<path d="M995.3 1592.0 L997.7 1624.1" fill="none" stroke="#2a78b4" stroke-width="4.0" stroke-linecap="round" stroke-linejoin="round" stroke-opacity="0.7"/>
<path d="M986.5 1616.1 L992.9 1664.1" fill="none" stroke="#2a78b4" stroke-width="4.0" stroke-linecap="round" stroke-linejoin="round" stroke-opacity="0.7"/>
<path d="M1008.9 1619.3 L1010.5 1665.7" fill="none" stroke="#2a78b4" stroke-width="4.0" stroke-linecap="round" stroke-linejoin="round" stroke-opacity="0.7"/>
<path d="M983.3 1672.1 L1002.5 1692.9 L1028.1 1686.5 L1037.7 1660.9" fill="none" stroke="#2a78b4" stroke-width="4.0" stroke-linecap="round" stroke-linejoin="round" stroke-opacity="0.7"/>
<path d="M992.9 1664.1 L1005.7 1678.5 L1037.7 1659.3" fill="none" stroke="#2a78b4" stroke-width="4.0" stroke-linecap="round" stroke-linejoin="round" stroke-opacity="0.7"/>
<path d="M1010.5 1665.7 L1002.5 1680.0" fill="none" stroke="#2a78b4" stroke-width="4.0" stroke-linecap="round" stroke-linejoin="round" stroke-opacity="0.7"/>
<path d="M795.0 1557.0 L816.1 1564.0 L832.5 1578.0" fill="none" stroke="#0b3ca2" stroke-width="10" stroke-linecap="round" stroke-linejoin="round"/>
<path d="M804.4 1571.0 L834.8 1580.4" fill="none" stroke="#0b3ca2" stroke-width="10" stroke-linecap="round" stroke-linejoin="round"/>
<path d="M917.7 1569.7 L956.1 1574.5" fill="none" stroke="#0b3ca2" stroke-width="10" stroke-linecap="round" stroke-linejoin="round"/>
<path d="M916.0 1576.0 L932.0 1578.0" fill="none" stroke="#0b3ca2" stroke-width="10" stroke-linecap="round" stroke-linejoin="round"/>
<path d="M999.3 1692.9 L1036.1 1696.1" fill="none" stroke="#0b3ca2" stroke-width="10" stroke-linecap="round" stroke-linejoin="round"/>
<path d="M964.1 1710.5 L989.7 1712.1 L1004.1 1694.5" fill="none" stroke="#0b3ca2" stroke-width="10" stroke-linecap="round" stroke-linejoin="round"/>
<path d="M893.6 1707.3 L903.3 1720.2 L932.1 1723.4 L944.9 1705.7" fill="none" stroke="#0b3ca2" stroke-width="10" stroke-linecap="round" stroke-linejoin="round"/>
<path d="M932.1 1725.0 L948.1 1745.8" fill="none" stroke="#0b3ca2" stroke-width="10" stroke-linecap="round" stroke-linejoin="round"/>
<path d="M903.3 1723.4 L890.4 1752.2 L869.6 1753.8" fill="none" stroke="#0b3ca2" stroke-width="10" stroke-linecap="round" stroke-linejoin="round"/>
<path d="M788.0 1728.9 L820.8 1733.6" fill="none" stroke="#0b3ca2" stroke-width="10" stroke-linecap="round" stroke-linejoin="round"/>
<path d="M795.0 1557.0 L816.1 1564.0 L832.5 1578.0" fill="none" stroke="#1a4fbc" stroke-width="4.0" stroke-linecap="round" stroke-linejoin="round" stroke-opacity="0.7"/>
<path d="M804.4 1571.0 L834.8 1580.4" fill="none" stroke="#1a4fbc" stroke-width="4.0" stroke-linecap="round" stroke-linejoin="round" stroke-opacity="0.7"/>
<path d="M917.7 1569.7 L956.1 1574.5" fill="none" stroke="#1a4fbc" stroke-width="4.0" stroke-linecap="round" stroke-linejoin="round" stroke-opacity="0.7"/>
<path d="M916.0 1576.0 L932.0 1578.0" fill="none" stroke="#1a4fbc" stroke-width="4.0" stroke-linecap="round" stroke-linejoin="round" stroke-opacity="0.7"/>
<path d="M999.3 1692.9 L1036.1 1696.1" fill="none" stroke="#1a4fbc" stroke-width="4.0" stroke-linecap="round" stroke-linejoin="round" stroke-opacity="0.7"/>
<path d="M964.1 1710.5 L989.7 1712.1 L1004.1 1694.5" fill="none" stroke="#1a4fbc" stroke-width="4.0" stroke-linecap="round" stroke-linejoin="round" stroke-opacity="0.7"/>
<path d="M893.6 1707.3 L903.3 1720.2 L932.1 1723.4 L944.9 1705.7" fill="none" stroke="#1a4fbc" stroke-width="4.0" stroke-linecap="round" stroke-linejoin="round" stroke-opacity="0.7"/>
<path d="M932.1 1725.0 L948.1 1745.8" fill="none" stroke="#1a4fbc" stroke-width="4.0" stroke-linecap="round" stroke-linejoin="round" stroke-opacity="0.7"/>
<path d="M903.3 1723.4 L890.4 1752.2 L869.6 1753.8" fill="none" stroke="#1a4fbc" stroke-width="4.0" stroke-linecap="round" stroke-linejoin="round" stroke-opacity="0.7"/>
<path d="M788.0 1728.9 L820.8 1733.6" fill="none" stroke="#1a4fbc" stroke-width="4.0" stroke-linecap="round" stroke-linejoin="round" stroke-opacity="0.7"/>
<path d="M866.4 1633.7 L884.0 1624.9 L912.9 1628.9 L928.9 1643.3 L908.1 1649.7 L880.8 1644.9 L866.4 1633.7" fill="none" stroke="#d0123a" stroke-width="10" stroke-linecap="round" stroke-linejoin="round"/>
<path d="M928.9 1643.3 L940.1 1630.5 L936.9 1603.3" fill="none" stroke="#d0123a" stroke-width="10" stroke-linecap="round" stroke-linejoin="round"/>
<path d="M912.0 1650.0 L919.0 1671.0" fill="none" stroke="#d0123a" stroke-width="10" stroke-linecap="round" stroke-linejoin="round"/>
<path d="M866.4 1633.7 L884.0 1624.9 L912.9 1628.9 L928.9 1643.3 L908.1 1649.7 L880.8 1644.9 L866.4 1633.7" fill="none" stroke="#e83a60" stroke-width="4.0" stroke-linecap="round" stroke-linejoin="round" stroke-opacity="0.7"/>
<path d="M928.9 1643.3 L940.1 1630.5 L936.9 1603.3" fill="none" stroke="#e83a60" stroke-width="4.0" stroke-linecap="round" stroke-linejoin="round" stroke-opacity="0.7"/>
<path d="M912.0 1650.0 L919.0 1671.0" fill="none" stroke="#e83a60" stroke-width="4.0" stroke-linecap="round" stroke-linejoin="round" stroke-opacity="0.7"/>
</g>
<text transform="translate(825.0 1479.3) scale(1 1.04)" font-size="22.6" stroke="#000" stroke-width="0.25">helix 2</text>
<text transform="translate(923.0 1535.5) scale(1 1.04)" font-size="22.6" stroke="#000" stroke-width="0.25">A27</text>
<text transform="translate(707.5 1608.0) scale(1 1.04)" font-size="22.6" stroke="#000" stroke-width="0.25">Y23</text>
<text transform="translate(1029.5 1646.7) scale(1 1.04)" font-size="22.6" stroke="#000" stroke-width="0.25">F46</text>
<text transform="translate(844.0 1683.2) scale(1 1.04)" font-size="22.6" stroke="#000" stroke-width="0.25">F100</text>
<text transform="translate(742.0 1759.0) scale(1 1.04)" font-size="22.6" stroke="#000" stroke-width="0.25">Y53</text>
<text transform="translate(851.5 1784.4) scale(1 1.04)" font-size="22.6" stroke="#000" stroke-width="0.25">V49</text>
<text transform="translate(1051.7 1797.6) scale(1 1.04)" font-size="22.6" stroke="#000" stroke-width="0.25">helix 3</text>
<text transform="translate(961.7 1851.7) scale(1 1.04)" font-size="22.6" stroke="#000" stroke-width="0.25">helix 5</text>
<path d="M991.0 1829.0 L964.8 1737.5" stroke="#000" stroke-width="1.7" fill="none"/>
<path d="M963.0 1747.8 L964.8 1737.5 L971.8 1745.3" stroke="#000" stroke-width="1.7" fill="none"/>
<text transform="translate(468.30 1467.30) scale(1 1.04)" font-size="22.4" text-anchor="start" fill="#000" stroke="#000" stroke-width="0.25">i)</text>
</svg>
</body></html>
